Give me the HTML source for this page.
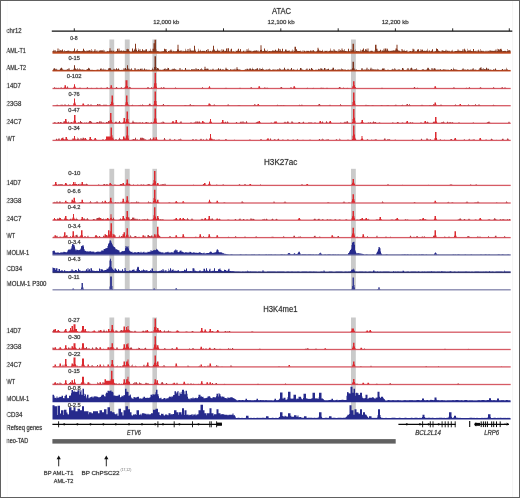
<!DOCTYPE html>
<html><head><meta charset="utf-8"><title>Genome tracks</title>
<style>
html,body{margin:0;padding:0;background:#fff;width:520px;height:498px;overflow:hidden}
svg{display:block;will-change:transform}
text{font-family:"Liberation Sans",sans-serif;fill:#2a2a2a;stroke:rgba(42,42,42,0.35);stroke-width:0.55px;paint-order:stroke}
</style></head><body>
<svg width="520" height="498" viewBox="0 0 520 498" shape-rendering="geometricPrecision">
<rect x="0" y="0" width="520" height="498" fill="#fff"/>
<rect x="109.4" y="39.5" width="4.8" height="100.9" fill="#cacaca"/>
<rect x="124.8" y="39.5" width="4.9" height="100.9" fill="#cacaca"/>
<rect x="152.4" y="39.5" width="4.6" height="100.9" fill="#cacaca"/>
<rect x="351" y="39.5" width="4.8" height="100.9" fill="#cacaca"/>
<rect x="109.4" y="168.8" width="4.8" height="120.8" fill="#cacaca"/>
<rect x="124.8" y="168.8" width="4.9" height="120.8" fill="#cacaca"/>
<rect x="152.4" y="168.8" width="4.6" height="120.8" fill="#cacaca"/>
<rect x="351" y="168.8" width="4.8" height="120.8" fill="#cacaca"/>
<rect x="109.4" y="317.5" width="4.8" height="101.3" fill="#cacaca"/>
<rect x="124.8" y="317.5" width="4.9" height="101.3" fill="#cacaca"/>
<rect x="152.4" y="317.5" width="4.6" height="101.3" fill="#cacaca"/>
<rect x="351" y="317.5" width="4.8" height="101.3" fill="#cacaca"/>
<text x="281.5" y="13.5" font-size="8.2" textLength="19.2" lengthAdjust="spacingAndGlyphs" text-anchor="middle">ATAC</text>
<text x="280.7" y="164.5" font-size="8.2" textLength="33.4" lengthAdjust="spacingAndGlyphs" text-anchor="middle">H3K27ac</text>
<text x="280.4" y="312.1" font-size="8.2" textLength="34.2" lengthAdjust="spacingAndGlyphs" text-anchor="middle">H3K4me1</text>
<line x1="51.8" y1="31.15" x2="513" y2="31.15" stroke="#111" stroke-width="1.3"/>
<line x1="74.3" y1="28.3" x2="74.3" y2="31.1" stroke="#111" stroke-width="0.9"/>
<line x1="166.2" y1="28.3" x2="166.2" y2="31.1" stroke="#111" stroke-width="0.9"/>
<line x1="223.5" y1="28.3" x2="223.5" y2="31.1" stroke="#111" stroke-width="0.9"/>
<line x1="280.8" y1="28.3" x2="280.8" y2="31.1" stroke="#111" stroke-width="0.9"/>
<line x1="338.2" y1="28.3" x2="338.2" y2="31.1" stroke="#111" stroke-width="0.9"/>
<line x1="395.4" y1="28.3" x2="395.4" y2="31.1" stroke="#111" stroke-width="0.9"/>
<line x1="452.7" y1="28.3" x2="452.7" y2="31.1" stroke="#111" stroke-width="0.9"/>
<line x1="509.3" y1="28.3" x2="509.3" y2="31.1" stroke="#111" stroke-width="0.9"/>
<text x="166.3" y="23.6" font-size="5.7" textLength="26" lengthAdjust="spacingAndGlyphs" text-anchor="middle">12,000 kb</text>
<text x="281.1" y="23.6" font-size="5.7" textLength="27" lengthAdjust="spacingAndGlyphs" text-anchor="middle">12,100 kb</text>
<text x="395.2" y="23.6" font-size="5.7" textLength="27" lengthAdjust="spacingAndGlyphs" text-anchor="middle">12,200 kb</text>
<text x="6.6" y="32.8" font-size="6.35" textLength="15" lengthAdjust="spacingAndGlyphs">chr12</text>
<text x="6.6" y="52.9" font-size="6.35" textLength="19.2" lengthAdjust="spacingAndGlyphs">AML-T1</text>
<text x="6.6" y="69.7" font-size="6.35" textLength="19.4" lengthAdjust="spacingAndGlyphs">AML-T2</text>
<text x="6.6" y="88" font-size="6.35" textLength="14.2" lengthAdjust="spacingAndGlyphs">14D7</text>
<text x="6.6" y="105.6" font-size="6.35" textLength="14.8" lengthAdjust="spacingAndGlyphs">23G8</text>
<text x="6.6" y="123.8" font-size="6.35" textLength="14.8" lengthAdjust="spacingAndGlyphs">24C7</text>
<text x="6.6" y="140.7" font-size="6.35" textLength="8.6" lengthAdjust="spacingAndGlyphs">WT</text>
<text x="6.6" y="185" font-size="6.35" textLength="14.2" lengthAdjust="spacingAndGlyphs">14D7</text>
<text x="6.6" y="203.2" font-size="6.35" textLength="14.8" lengthAdjust="spacingAndGlyphs">23G8</text>
<text x="6.6" y="220.6" font-size="6.35" textLength="14.8" lengthAdjust="spacingAndGlyphs">24C7</text>
<text x="6.6" y="237.9" font-size="6.35" textLength="8.6" lengthAdjust="spacingAndGlyphs">WT</text>
<text x="6.6" y="254.8" font-size="6.35" textLength="22.5" lengthAdjust="spacingAndGlyphs">MOLM-1</text>
<text x="6.6" y="270.9" font-size="6.35" textLength="15.5" lengthAdjust="spacingAndGlyphs">CD34</text>
<text x="6.6" y="285.7" font-size="6.35" textLength="39.9" lengthAdjust="spacingAndGlyphs">MOLM-1 P300</text>
<text x="6.6" y="332.9" font-size="6.35" textLength="14.2" lengthAdjust="spacingAndGlyphs">14D7</text>
<text x="6.6" y="349.2" font-size="6.35" textLength="14.8" lengthAdjust="spacingAndGlyphs">23G8</text>
<text x="6.6" y="367" font-size="6.35" textLength="14.8" lengthAdjust="spacingAndGlyphs">24C7</text>
<text x="6.6" y="383.9" font-size="6.35" textLength="8.6" lengthAdjust="spacingAndGlyphs">WT</text>
<text x="6.6" y="401.4" font-size="6.35" textLength="22.5" lengthAdjust="spacingAndGlyphs">MOLM-1</text>
<text x="6.6" y="417.1" font-size="6.35" textLength="15.8" lengthAdjust="spacingAndGlyphs">CD34</text>
<text x="6.6" y="430.1" font-size="6.35" textLength="35.6" lengthAdjust="spacingAndGlyphs">Refseq genes</text>
<text x="6.6" y="443" font-size="6.35" textLength="21.7" lengthAdjust="spacingAndGlyphs">neo-TAD</text>
<rect x="52.5" y="51.9" width="458.2" height="1.8" fill="#c44b1e"/>
<path d="M52.5 52.2 L52.5 50.97 L53.5 50.97 L53.5 49.78 L54 49.78 L54 51.13 L54.5 51.13 L54.5 49.91 L55.5 49.91 L55.5 51.26 L56.5 51.26 L56.5 51.54 L57 51.54 L57 50.94 L57.5 50.94 L57.5 48.46 L58.5 48.46 L58.5 50.96 L59.5 50.97 L59.5 49.62 L60 49.62 L60 50.59 L60.5 50.59 L60.5 50.1 L61.5 50.1 L61.5 50.96 L62 50.96 L62 49.54 L63 49.54 L63 51.3 L63.5 51.3 L63.5 51.37 L64 51.37 L64 50.06 L64.5 50.06 L64.5 51.34 L65.5 51.34 L65.5 50.88 L66.5 50.88 L66.5 50.98 L67.5 50.98 L67.5 50.48 L68.5 50.48 L68.5 50.8 L69.5 50.8 L69.5 51.31 L70.5 51.31 L70.5 50.98 L71.5 50.98 L71.5 51.43 L72.5 51.43 L72.5 51.08 L73.5 51.08 L73.5 50.65 L74 50.65 L74 48.41 L75 48.41 L75 51.33 L75.5 51.33 L75.5 51.27 L76 51.27 L76 50.42 L76.5 50.42 L76.5 50.63 L77.5 50.63 L77.5 48.91 L78 48.91 L78 50.91 L78.5 50.91 L79 50.96 L79.5 50.96 L80 50.99 L80.5 50.99 L80.5 51.37 L81.5 51.37 L81.5 51.03 L82.5 51.03 L82.5 50.8 L83 50.8 L83 48.7 L84 48.7 L84 50.12 L84.5 50.12 L84.5 51.03 L85.5 51.03 L85.5 51.13 L86.5 51.13 L86.5 50.54 L87.5 50.54 L87.5 51.02 L88.5 51.02 L88.5 50.31 L89.5 50.31 L89.5 50.22 L90.5 50.22 L90.5 51.33 L91 51.33 L91 50.94 L91.5 50.94 L91.5 49.12 L92 49.12 L92 50.38 L92.5 50.38 L92.5 51.56 L93.5 51.56 L93.5 51.05 L94 51.05 L94 50.84 L94.5 50.84 L94.5 49.27 L95.5 49.27 L95.5 51.25 L96.5 51.25 L96.5 50.53 L97.5 50.53 L97.5 51.53 L98 51.53 L98 51.68 L98.5 51.68 L98.5 50.72 L99.5 50.72 L99.5 50.45 L100 50.45 L100 50.22 L100.5 50.22 L100.5 50.59 L101.5 50.59 L101.5 50.18 L102.5 50.18 L102.5 50.55 L103 50.55 L103 49.71 L103.5 49.71 L103.5 51.36 L104 51.36 L104 51.43 L104.5 51.43 L104.5 50.28 L105 50.28 L105 51.48 L105.5 51.48 L105.5 51.64 L106.5 51.64 L106.5 51.28 L107.5 51.28 L107.5 50.9 L108.5 50.9 L108.5 51.42 L109 51.42 L109 50.76 L109.5 50.76 L109.5 48.2 L110.5 48.2 L110.5 50.72 L111.5 50.72 L111.5 50.54 L112.5 50.54 L112.5 51.57 L113 51.57 L113 50.71 L114.5 50.71 L114.5 52.07 L115.5 52.07 L115.5 50.96 L116.5 50.96 L116.5 51.23 L117 51.23 L117 49 L117.5 49 L117.5 48.57 L118.5 48.57 L118.5 50.85 L119 50.85 L119 50.8 L119.5 50.8 L119.5 48.53 L120 48.53 L120 50.93 L120.5 50.93 L120.5 50.48 L121.5 50.48 L121.5 50.56 L122 50.56 L122 51.36 L122.5 51.36 L122.5 50.77 L123 50.77 L123 50.47 L123.5 50.47 L123.5 50.69 L124.5 50.69 L124.5 51.12 L125 51.12 L125 50.92 L125.5 50.92 L125.5 50.98 L126 50.98 L126 50.85 L126.5 50.85 L126.5 48.89 L127 48.89 L127 48.68 L127.5 48.68 L127.5 49.2 L129 49.2 L129 50.99 L129.5 50.99 L129.5 51.21 L130.5 51.21 L130.5 51.8 L131.5 51.8 L131.5 51.14 L132 51.14 L132 48.47 L133 48.47 L133 51.03 L133.5 51.03 L133.5 50.62 L134 50.62 L134 49.71 L134.5 49.71 L134.5 48.76 L135 48.76 L135 43.7 L136 43.7 L136 49.91 L136.5 49.91 L136.5 48.53 L137 48.53 L137 51.26 L137.5 51.26 L137.5 50.97 L138 50.97 L138 49.99 L138.5 49.99 L138.5 48.4 L139 48.4 L139 50.65 L139.5 50.65 L139.5 49.25 L140.5 49.25 L140.5 50.88 L142 50.89 L142 49.35 L143 49.35 L143 50.4 L143.5 50.4 L143.5 50.46 L144.5 50.46 L144.5 50.59 L145.5 50.59 L145.5 49.2 L147 49.2 L147 51.04 L147.5 51.04 L147.5 51.55 L148.5 51.55 L148.5 50.84 L149.5 50.84 L149.5 51.02 L150 51.02 L150 48.83 L150.5 48.83 L150.5 50.69 L151 50.69 L151.5 50.72 L151.5 51.26 L152 51.26 L152.5 51.23 L152.5 48.85 L153.5 48.85 L153.5 43.2 L154.5 43.2 L154.5 39.7 L156 39.7 L156 49.39 L156.5 49.39 L156.5 51.26 L157.5 51.26 L157.5 50.88 L158.5 50.88 L158.5 51.43 L159.5 51.43 L159.5 51.51 L160.5 51.51 L160.5 51.42 L161.5 51.42 L161.5 51.23 L162.5 51.23 L162.5 51.37 L163.5 51.37 L163.5 50.93 L164 50.93 L164 48.8 L165 48.8 L165 49.26 L166 49.26 L166 48.93 L166.5 48.93 L166.5 50.95 L167 50.95 L167 51.68 L167.5 51.68 L167.5 51.92 L168 51.92 L168 50.97 L169 50.97 L169 51.34 L169.5 51.34 L169.5 50.61 L170.5 50.62 L170.5 49.62 L171.5 49.62 L171.5 50.68 L172.5 50.68 L172.5 51.63 L173 51.63 L173 50.67 L173.5 50.67 L173.5 51.21 L174.5 51.21 L174.5 51.28 L175.5 51.28 L175.5 51.17 L176.5 51.17 L176.5 51.06 L177 51.06 L177 49.49 L177.5 49.49 L177.5 44.7 L178.5 44.7 L178.5 49.5 L179 49.5 L179 50.94 L179.5 50.94 L179.5 50.67 L180.5 50.67 L180.5 50.39 L181 50.39 L181 50.13 L181.5 50.13 L181.5 51.29 L182 51.29 L182 51.39 L182.5 51.39 L182.5 50.8 L183.5 50.8 L183.5 51.31 L184.5 51.31 L184.5 51.09 L185 51.09 L185 48.8 L185.5 48.8 L185.5 50.72 L186 50.72 L186 51.27 L186.5 51.27 L186.5 50.42 L187 50.42 L187 51.08 L187.5 51.08 L187.5 48.94 L188.5 48.94 L188.5 51.19 L189.5 51.19 L189.5 48.57 L190.5 48.57 L190.5 50.17 L191 50.17 L191 50.85 L191.5 50.85 L191.5 50.42 L192.5 50.42 L192.5 50.75 L193.5 50.75 L193.5 50.45 L194 50.45 L194 45.7 L195 45.7 L195 49.57 L195.5 49.57 L195.5 51.03 L196 51.03 L196 51.62 L196.5 51.62 L196.5 51.93 L197.5 51.93 L197.5 51.01 L198 51.01 L198 50.87 L198.5 50.87 L198.5 48.82 L199 48.82 L199 51.21 L199.5 51.21 L199.5 50.84 L200.5 50.84 L200.5 49.75 L201 49.75 L201 51.14 L201.5 51.14 L201.5 50.95 L202.5 50.95 L202.5 50.78 L203.5 50.78 L203.5 51.06 L204 51.06 L204 50.98 L204.5 50.98 L204.5 50.8 L205 50.8 L205 51.28 L205.5 51.28 L206 51.3 L206 50.09 L207 50.09 L207 51.43 L207.5 51.43 L207.5 49.03 L208.5 49.03 L208.5 50.87 L209 50.87 L209 51.1 L209.5 51.1 L209.5 51.4 L210 51.4 L210 50.68 L210.5 50.68 L210.5 50.99 L211 50.99 L211 51.73 L211.5 51.73 L211.5 50.9 L212 50.9 L212 50.72 L212.5 50.72 L212.5 49.86 L213 49.86 L213 45.7 L214 45.7 L214 50.15 L214.5 50.15 L214.5 49.19 L215 49.19 L215 50.65 L215.5 50.65 L215.5 51.06 L216.5 51.06 L216.5 50.8 L217 50.8 L217 48.71 L217.5 48.71 L217.5 50.31 L218.5 50.31 L218.5 51.1 L219.5 51.1 L219.5 50.38 L220.5 50.38 L220.5 51.78 L221 51.78 L221 51.43 L221.5 51.43 L221.5 49.3 L222 49.3 L222 50.93 L222.5 50.93 L222.5 49.59 L223.5 49.59 L223.5 49.75 L224 49.75 L224 51.15 L224.5 51.15 L224.5 50.79 L225.5 50.79 L225.5 51.02 L226 51.02 L226 48.59 L227 48.59 L227 51.3 L227.5 51.3 L227.5 48.2 L229 48.2 L229 50.97 L229.5 50.97 L229.5 51.51 L230 51.51 L230 51.38 L230.5 51.38 L230.5 49.54 L231 49.54 L231 48.73 L232 48.73 L232 51.21 L232.5 51.21 L232.5 51.5 L233.5 51.5 L233.5 50.95 L234.5 50.95 L234.5 51.97 L235.5 51.97 L235.5 50.74 L236.5 50.74 L236.5 50.97 L237.5 50.97 L237.5 49.84 L238 49.84 L238 48.7 L239 48.7 L239 50.9 L239.5 50.9 L240 50.87 L240 49.03 L240.5 49.03 L240.5 49.15 L241 49.15 L241 51.15 L241.5 51.15 L241.5 51.73 L242.5 51.73 L242.5 51.22 L243 51.22 L243 50.73 L243.5 50.73 L244 50.78 L244.5 50.78 L244.5 51.72 L245 51.72 L245.5 51.68 L245.5 50.8 L246 50.8 L246 51.17 L246.5 51.17 L246.5 49.29 L247.5 49.29 L247.5 50.8 L248.5 50.8 L248.5 48.58 L249 48.58 L249 50.59 L249.5 50.59 L249.5 50.78 L250.5 50.78 L250.5 50.64 L251.5 50.64 L251.5 51.42 L252.5 51.42 L252.5 51.11 L253.5 51.11 L253.5 50.68 L254.5 50.68 L254.5 50.48 L255.5 50.48 L255.5 50.82 L256.5 50.82 L256.5 49.88 L257 49.88 L257 51.17 L257.5 51.17 L257.5 50.6 L258 50.6 L258 50.43 L258.5 50.43 L258.5 51.59 L259.5 51.59 L259.5 51.18 L260 51.18 L260 50 L260.5 50 L260.5 45.2 L261.5 45.2 L261.5 49.68 L262 49.68 L262 51.18 L262.5 51.18 L262.5 51.1 L263.5 51.1 L263.5 51.03 L264 51.03 L264 48.51 L265 48.51 L265 50.49 L265.5 50.49 L265.5 50.68 L266 50.68 L266 51.06 L266.5 51.06 L266.5 50.64 L267 50.64 L267 49.65 L267.5 49.65 L267.5 51.47 L268.5 51.47 L268.5 51.07 L269.5 51.07 L269.5 51 L270.5 51 L270.5 51.24 L271.5 51.24 L271.5 51.05 L272.5 51.05 L272.5 49.9 L273 49.9 L273 50.6 L273.5 50.6 L273.5 50.84 L275 50.84 L275 49.77 L276 49.77 L276 50.72 L276.5 50.72 L276.5 50.84 L277.5 50.84 L277.5 50.77 L278 50.77 L278 48.54 L279 48.54 L279 50.91 L279.5 50.91 L279.5 49 L280.5 49 L280.5 50.42 L281 50.42 L281 50.88 L281.5 50.88 L281.5 51.23 L282 51.23 L282 48.65 L283 48.65 L283 51.17 L283.5 51.17 L283.5 51.38 L284.5 51.38 L284.5 50.98 L285 50.98 L285 49.4 L286 49.4 L286 49.6 L286.5 49.6 L286.5 50.84 L287.5 50.84 L287.5 51.02 L288 51.02 L288 50.83 L288.5 50.83 L288.5 50.68 L289 50.68 L289 51.17 L289.5 51.17 L289.5 50.27 L290 50.27 L290 51.38 L290.5 51.38 L290.5 51.15 L291 51.15 L291 50.76 L291.5 50.76 L291.5 51.44 L292 51.44 L292 51.13 L292.5 51.13 L292.5 49.55 L293 49.55 L293 50.6 L293.5 50.6 L293.5 51.76 L294 51.76 L294 50.96 L294.5 50.96 L294.5 46.7 L296 46.7 L296 49.24 L297 49.24 L297 50.69 L297.5 50.69 L297.5 50.93 L298.5 50.93 L298.5 51.11 L299.5 51.11 L299.5 51.02 L300 51.02 L300 50.42 L300.5 50.42 L300.5 51.21 L301.5 51.21 L301.5 51.84 L302.5 51.84 L302.5 50.59 L303.5 50.59 L303.5 51.68 L304 51.68 L304 50.64 L305 50.64 L305 51.53 L305.5 51.53 L305.5 51.32 L306.5 51.32 L306.5 50.71 L307.5 50.71 L307.5 51.12 L308 51.12 L308 50.81 L308.5 50.81 L308.5 51.07 L309.5 51.07 L309.5 51.43 L310 51.43 L310 50.55 L310.5 50.55 L311 50.58 L311.5 50.58 L311.5 51.3 L312.5 51.3 L312.5 50.32 L313 50.32 L313 50.15 L313.5 50.15 L314 50.2 L314 51.11 L314.5 51.11 L314.5 51.45 L315.5 51.45 L316 51.42 L316.5 51.42 L316.5 50.96 L317 50.96 L317 50.38 L317.5 50.38 L317.5 47.7 L318.5 47.7 L318.5 49.19 L319 49.19 L319 50.61 L319.5 50.61 L319.5 50.85 L320.5 50.85 L320.5 50.7 L321 50.7 L321 50.96 L321.5 50.96 L321.5 51.03 L322 51.03 L322 49.75 L322.5 49.75 L322.5 50.67 L323 50.67 L323 51.6 L323.5 51.6 L323.5 51.42 L324.5 51.42 L324.5 50.84 L325.5 50.84 L325.5 50.95 L326.5 50.95 L326.5 50.63 L327.5 50.63 L327.5 51.49 L328.5 51.49 L328.5 51.03 L329.5 51.03 L329.5 50.77 L330 50.77 L330 48.56 L330.5 48.56 L330.5 50.54 L331.5 50.54 L331.5 50.93 L332.5 50.93 L332.5 50.39 L333 50.39 L333 51.15 L333.5 51.15 L333.5 49.36 L334.5 49.36 L334.5 50.58 L335.5 50.58 L335.5 50.9 L336.5 50.9 L337 50.85 L337.5 50.85 L337.5 51.49 L338 51.49 L338 51.26 L338.5 51.26 L338.5 49.35 L339.5 49.35 L339.5 51.12 L340 51.12 L340 50.2 L341 50.2 L341 50.69 L341.5 50.69 L341.5 48.46 L342.5 48.46 L342.5 50.16 L343.5 50.16 L343.5 50.65 L344.5 50.65 L344.5 49.01 L345 49.01 L345 50.89 L346.5 50.9 L346.5 51.33 L347.5 51.33 L347.5 51.23 L348 51.23 L348 48.8 L349 48.8 L349 50.99 L349.5 50.99 L349.5 51.35 L350.5 51.35 L350.5 49.16 L351.5 49.16 L351.5 50.82 L352 50.82 L352 50.29 L352.5 50.29 L352.5 43.7 L354 43.7 L354 50.29 L354.5 50.29 L354.5 51.55 L355 51.55 L355 51.44 L355.5 51.44 L355.5 49.59 L356 49.59 L356 51.07 L356.5 51.07 L356.5 50.91 L357.5 50.91 L357.5 51.15 L358.5 51.15 L358.5 51 L359.5 51 L359.5 51.42 L360 51.42 L360 51.15 L360.5 51.15 L360.5 49.47 L361 49.47 L361 50.32 L361.5 50.32 L361.5 51.53 L362 51.53 L362 49.75 L363 49.75 L363 48.4 L364 48.4 L364 50.66 L364.5 50.66 L364.5 51 L365 51 L365 49.17 L366 49.17 L366 50.27 L366.5 50.27 L366.5 48.71 L367 48.71 L367 50.82 L367.5 50.82 L367.5 48.51 L368.5 48.51 L368.5 51.26 L369 51.26 L369 51.55 L369.5 51.55 L369.5 51.14 L370.5 51.14 L370.5 50.66 L371.5 50.66 L371.5 50.75 L372.5 50.75 L372.5 51.23 L373.5 51.23 L373.5 51.64 L374.5 51.64 L374.5 50.51 L375 50.51 L375 44.7 L376.5 44.7 L376.5 48.63 L377.5 48.63 L377.5 50.74 L378.5 50.74 L378.5 51.24 L379 51.24 L379 50.94 L379.5 50.94 L379.5 50.7 L380 50.7 L380 49.87 L381 49.87 L381 50.49 L381.5 50.49 L381.5 51.45 L382 51.45 L382 50.49 L383 50.49 L383 50.77 L383.5 50.77 L383.5 48.74 L384 48.74 L384 48.44 L384.5 48.44 L384.5 50.54 L385 50.54 L385 48.49 L386 48.49 L386 50.58 L386.5 50.58 L386.5 48.61 L387 48.61 L387 49.2 L387.5 49.2 L387.5 48.47 L388 48.47 L388 50.61 L388.5 50.61 L388.5 50.96 L389 50.96 L389 50.84 L389.5 50.84 L389.5 51.31 L390 51.31 L390 50.67 L390.5 50.67 L390.5 51.12 L391 51.12 L391 50.83 L391.5 50.83 L391.5 50.76 L392.5 50.76 L392.5 50.6 L393 50.6 L393 50.06 L393.5 50.06 L393.5 50.71 L394.5 50.71 L394.5 50.16 L395.5 50.16 L395.5 48.41 L396.5 48.41 L396.5 44.7 L397.5 44.7 L397.5 49.5 L398 49.5 L398 50.6 L398.5 50.6 L399 50.62 L399.5 50.62 L399.5 51 L400.5 51 L400.5 51.38 L401 51.38 L401.5 51.33 L401.5 49.1 L402.5 49.1 L402.5 50.52 L403 50.52 L403 51.07 L403.5 51.07 L403.5 50.33 L404 50.33 L404 49.69 L404.5 49.69 L404.5 51.03 L405.5 51.03 L406 51.06 L406 50.7 L406.5 50.7 L406.5 50.51 L407.5 50.51 L407.5 51.68 L408.5 51.68 L408.5 51.43 L409.5 51.43 L409.5 50.88 L410.5 50.88 L411 50.9 L411.5 50.9 L411.5 51.62 L412 51.62 L412 51.04 L412.5 51.04 L412.5 48.68 L413.5 48.68 L413.5 49.59 L414.5 49.59 L414.5 51.42 L415 51.42 L415 50.91 L415.5 50.91 L415.5 51.4 L416.5 51.4 L416.5 51.12 L417 51.12 L417 49.8 L417.5 49.8 L417.5 49.51 L418 49.51 L418 49.23 L419 49.23 L419 51.06 L419.5 51.06 L419.5 51.19 L420 51.19 L420 49.15 L420.5 49.15 L420.5 50.9 L421 50.9 L421 50.55 L421.5 50.55 L421.5 49.5 L422.5 49.5 L422.5 49.81 L423 49.81 L423 51.04 L423.5 51.04 L423.5 50.65 L424.5 50.65 L425 50.69 L425.5 50.69 L425.5 51.01 L426.5 51.01 L426.5 50.14 L427 50.14 L427 48.81 L427.5 48.81 L427.5 50.77 L428.5 50.77 L428.5 51.43 L429 51.43 L429 50.45 L430 50.45 L430 51.49 L430.5 51.49 L430.5 50.97 L431 50.97 L431 50.5 L431.5 50.5 L431.5 50.92 L432 50.92 L432 49.29 L432.5 49.29 L432.5 49.34 L433 49.34 L433 51.5 L433.5 51.5 L433.5 51.4 L434.5 51.4 L434.5 51.15 L435.5 51.15 L435.5 50.97 L436 50.97 L436 48.6 L437 48.6 L437 49.05 L438 49.05 L438 50.21 L438.5 50.21 L438.5 51.09 L439.5 51.09 L439.5 51.29 L440.5 51.29 L440.5 51.43 L441.5 51.43 L441.5 50.57 L442.5 50.57 L442.5 50.3 L443 50.3 L443 50.69 L444 50.69 L444 50.92 L444.5 50.92 L444.5 51.09 L445.5 51.09 L445.5 49.83 L446.5 49.83 L446.5 51.2 L447 51.2 L447 50.73 L448 50.73 L448 51.14 L448.5 51.14 L448.5 50.87 L449.5 50.87 L449.5 51.35 L450.5 51.35 L450.5 51.5 L451 51.5 L451 50.5 L451.5 50.5 L451.5 51.3 L452 51.3 L452 49.82 L452.5 49.82 L452.5 51.19 L453 51.19 L453 51.62 L453.5 51.62 L453.5 51.42 L454.5 51.42 L454.5 51 L455.5 51 L456 50.98 L456.5 50.98 L456.5 51.12 L457.5 51.12 L457.5 49.51 L458.5 49.51 L458.5 50.75 L460.5 50.75 L460.5 51.08 L461.5 51.08 L461.5 50.89 L462 50.89 L462 49.22 L462.5 49.22 L462.5 50.64 L463 50.64 L463 51.13 L463.5 51.13 L463.5 49.17 L464.5 49.17 L464.5 48.51 L465 48.51 L465 50.79 L465.5 50.79 L465.5 49.84 L466 49.84 L466 51.14 L466.5 51.14 L466.5 51.44 L467 51.44 L467 51.03 L467.5 51.03 L467.5 48.68 L468 48.68 L468 50.67 L468.5 50.67 L468.5 50.24 L469.5 50.24 L469.5 50.74 L470.5 50.74 L470.5 49.46 L471 49.46 L471 50.97 L471.5 50.97 L471.5 51.03 L472.5 51.03 L472.5 51.16 L473 51.16 L473 48.95 L474 48.95 L474 51.12 L474.5 51.12 L474.5 51.21 L475.5 51.21 L475.5 50.74 L476.5 50.74 L476.5 51.61 L477.5 51.61 L477.5 50.38 L478.5 50.38 L478.5 49.54 L479 49.54 L479 50.66 L479.5 50.66 L479.5 51.46 L480 51.46 L480 51.13 L480.5 51.13 L480.5 49.05 L481 49.05 L481 50.84 L481.5 50.84 L481.5 50.79 L482 50.79 L482 51.29 L482.5 51.29 L482.5 50.78 L483.5 50.78 L483.5 51.3 L484.5 51.3 L484.5 51.6 L485.5 51.6 L485.5 50.71 L486.5 50.71 L486.5 51.4 L487.5 51.4 L487.5 50.86 L488.5 50.86 L488.5 51.26 L489.5 51.26 L489.5 50.15 L490.5 50.15 L490.5 50.87 L491.5 50.87 L492 50.84 L492.5 50.84 L493 50.89 L493.5 50.89 L493.5 50.68 L495.5 50.69 L495.5 49.52 L496.5 49.52 L496.5 51.22 L497 51.22 L497 51.12 L497.5 51.12 L497.5 48.7 L498 48.7 L498 49.31 L499 49.31 L499 49.19 L499.5 49.19 L499.5 50.37 L500 50.37 L500 49 L500.5 49 L500.5 48.77 L501.5 48.77 L501.5 49.81 L502 49.81 L502 51.16 L502.5 51.16 L502.5 50.63 L503 50.63 L503 51.06 L503.5 51.06 L503.5 50.98 L504.5 50.98 L504.5 50.8 L505.5 50.8 L505.5 50.98 L506.5 50.98 L506.5 51.38 L507 51.38 L507 50.98 L507.5 50.98 L507.5 49.05 L508 49.05 L508 50.78 L508.5 50.78 L508.5 49.9 L509.5 49.9 L509.5 50.4 L510.5 50.4 L510.7 52.2Z" fill="#86391f"/>
<rect x="52.5" y="69.95" width="458.2" height="1.5" fill="#bf461e"/>
<path d="M52.5 70.25 L52.5 69.98 L53 69.98 L53 69.6 L53.5 69.6 L53.5 68.53 L54 68.53 L54 68.15 L55 68.15 L55 69.51 L55.5 69.51 L55.5 68.77 L56.5 68.77 L56.5 69.44 L57.5 69.44 L57.5 70.14 L58.5 70.14 L58.5 69.74 L59.5 69.74 L59.5 69.67 L60 69.67 L60 68.46 L61 68.46 L61 67.69 L62 67.69 L62 68.62 L62.5 68.62 L62.5 69.38 L63.5 69.38 L63.5 69.96 L64 69.96 L64 69.71 L64.5 69.71 L64.5 70.01 L65 70.01 L65 70.12 L65.5 70.12 L65.5 69.79 L67 69.79 L67 69.11 L67.5 69.11 L67.5 69.45 L68.5 69.45 L68.5 68.36 L69.5 68.36 L69.5 69.79 L70 69.79 L70 69.93 L70.5 69.93 L70.5 70.11 L71.5 70.11 L71.5 69.77 L72.5 69.77 L72.5 70.03 L73 70.03 L73 69.8 L73.5 69.8 L73.5 68.67 L74 68.67 L74 65.25 L75 65.25 L75 68.45 L76 68.45 L76 69.43 L76.5 69.43 L76.5 69.36 L77 69.36 L77 68.12 L77.5 68.12 L77.5 69.44 L79 69.45 L79 68.25 L79.5 68.25 L79.5 69.53 L80.5 69.53 L80.5 69.36 L81 69.36 L81.5 69.39 L81.5 70.06 L82 70.06 L82 69.7 L82.5 69.7 L82.5 69.35 L83 69.35 L83 69.64 L83.5 69.64 L83.5 69.76 L84.5 69.76 L84.5 70.03 L85.5 70.03 L85.5 70.14 L86.5 70.14 L86.5 69.29 L87.5 69.29 L87.5 68.94 L88 68.94 L88 67.85 L88.5 67.85 L88.5 68.31 L89 68.31 L89 68.62 L90 68.62 L90 69.71 L90.5 69.71 L90.5 70.03 L91.5 70.03 L91.5 69.87 L92.5 69.87 L92.5 70.01 L93.5 70.01 L93.5 69.9 L94.5 69.9 L94.5 70.22 L95.5 70.22 L96 70.25 L96.5 70.25 L96.5 69.8 L97.5 69.8 L97.5 69.62 L98.5 69.62 L98.5 70.25 L99 70.25 L99 70.13 L99.5 70.13 L99.5 69.83 L100 69.83 L100 68.89 L100.5 68.89 L100.5 68.21 L101.5 68.21 L101.5 69.59 L102.5 69.59 L102.5 69.44 L103 69.44 L103 69.65 L103.5 69.65 L103.5 68.61 L104 68.61 L104 69.65 L104.5 69.65 L104.5 69.4 L105.5 69.4 L105.5 69.64 L106.5 69.64 L106.5 70.13 L107.5 70.13 L107.5 69.83 L108 69.83 L108 69.31 L108.5 69.31 L108.5 67.93 L109 67.93 L109 67.99 L109.5 67.99 L109.5 68.25 L111 68.25 L111 69.8 L112.5 69.81 L112.5 70.03 L113 70.03 L113 69.84 L113.5 69.84 L113.5 68.86 L114.5 68.86 L114.5 69.52 L115.5 69.52 L115.5 69.47 L116 69.47 L116 68.47 L116.5 68.47 L116.5 67.95 L117 67.95 L117 69.04 L117.5 69.04 L117.5 69.72 L118 69.72 L118 68.61 L119 68.61 L119 69.58 L119.5 69.58 L119.5 69.96 L120.5 69.96 L120.5 70.06 L121.5 70.06 L121.5 69.68 L122.5 69.68 L122.5 70.2 L123 70.2 L123 69.75 L123.5 69.75 L123.5 68.28 L124.5 68.28 L124.5 69.54 L125 69.54 L125 67.92 L126 67.92 L126 69.49 L126.5 69.49 L126.5 68.9 L127 68.9 L127 65.25 L128 65.25 L128 68.22 L128.5 68.22 L128.5 69.35 L129 69.35 L129 68.75 L129.5 68.75 L129.5 69.78 L130.5 69.78 L130.5 69.25 L131 69.25 L131 67.91 L131.5 67.91 L131.5 69.24 L132 69.24 L132 69.74 L132.5 69.74 L132.5 70.25 L133.5 70.25 L133.5 70.15 L134 70.15 L134 69.63 L134.5 69.63 L134.5 67.89 L135.5 67.89 L135.5 69.52 L136 69.52 L136 69.59 L136.5 69.59 L136.5 69.92 L137 69.92 L137 69.82 L137.5 69.82 L137.5 69.15 L138 69.15 L138 69.29 L139 69.29 L139 69.57 L139.5 69.57 L139.5 69.7 L140 69.7 L140 68.8 L140.5 68.8 L141 68.82 L141 69.41 L141.5 69.41 L141.5 68.47 L142.5 68.47 L142.5 69.8 L143.5 69.8 L143.5 69.73 L144 69.73 L144 68.53 L145 68.53 L145 69.33 L145.5 69.33 L145.5 69.97 L146 69.97 L146 69.53 L146.5 69.53 L146.5 69.42 L147.5 69.42 L147.5 69.98 L148.5 69.98 L148.5 69.46 L149.5 69.46 L149.5 70.25 L150.5 70.25 L150.5 69.98 L151.5 69.98 L151.5 69.75 L152 69.75 L152 69.31 L152.5 69.31 L152.5 67.87 L153 67.87 L153 69.31 L153.5 69.31 L153.5 69.85 L154 69.85 L154 67.1 L154.5 67.1 L154.5 56.25 L156 56.25 L156 67.1 L156.5 67.1 L156.5 69.37 L157 69.37 L157 68.04 L158 68.04 L158 68.49 L159 68.49 L159 69.65 L159.5 69.65 L159.5 69.7 L160.5 69.7 L160.5 69.85 L161.5 69.85 L161.5 70.17 L162.5 70.17 L162.5 69.46 L163.5 69.46 L164 69.44 L164 68.78 L165 68.78 L165 68.35 L165.5 68.35 L165.5 69.5 L166 69.5 L166 69.19 L167 69.19 L167 69.26 L167.5 69.26 L167.5 67.82 L168 67.82 L168 67.99 L169 67.99 L169 69.45 L169.5 69.45 L169.5 69.96 L170 69.96 L170 70.05 L170.5 70.05 L170.5 69.84 L171.5 69.84 L171.5 69.43 L172 69.43 L172 68.65 L172.5 68.65 L172.5 69.54 L173 69.54 L173 68.63 L173.5 68.63 L173.5 69.15 L174.5 69.15 L174.5 68.16 L175 68.16 L175 69.36 L175.5 69.36 L176 69.4 L176 69.69 L176.5 69.69 L177 69.7 L177 70.07 L177.5 70.07 L177.5 69.65 L178.5 69.65 L178.5 70 L179 70 L179 69.65 L179.5 69.65 L179.5 68.12 L180.5 68.12 L180.5 69.72 L181 69.72 L181.5 69.75 L181.5 69.81 L182 69.81 L182 69.3 L182.5 69.3 L182.5 69.95 L183 69.95 L183 70.16 L183.5 70.16 L183.5 70.07 L184.5 70.07 L184.5 69.73 L185 69.73 L185 68.09 L186 68.09 L186 69.7 L186.5 69.7 L187 69.73 L187.5 69.73 L188 69.68 L188.5 69.68 L188.5 69.73 L189 69.73 L189 69.54 L189.5 69.54 L189.5 70.06 L190 70.06 L190.5 70.09 L190.5 69.88 L191 69.88 L191 69.29 L192 69.29 L192 69.58 L192.5 69.58 L192.5 69.23 L193.5 69.23 L193.5 69.5 L194 69.5 L194 69.01 L194.5 69.01 L194.5 69.7 L195.5 69.7 L195.5 68.18 L196.5 68.18 L196.5 69.58 L197 69.58 L197 69.74 L197.5 69.74 L197.5 68.97 L198 68.97 L198 69.08 L199 69.08 L199 69.87 L199.5 69.87 L199.5 70.03 L200 70.03 L200 69.35 L201 69.35 L201.5 69.4 L201.5 68.04 L202 68.04 L202 69.26 L202.5 69.26 L202.5 69.75 L203.5 69.75 L203.5 69.89 L204 69.89 L204 69.15 L204.5 69.15 L204.5 66.75 L205.5 66.75 L205.5 68.99 L206 68.99 L206 69.3 L206.5 69.3 L206.5 68.47 L207.5 68.47 L207.5 68.65 L208.5 68.65 L208.5 69.82 L209 69.82 L209 70.11 L209.5 70.11 L209.5 69.86 L210.5 69.86 L210.5 69.6 L211 69.6 L211 69.4 L211.5 69.4 L211.5 69.99 L212 69.99 L212 69.77 L212.5 69.77 L212.5 68.63 L213.5 68.63 L213.5 69.65 L214 69.65 L214 69.99 L214.5 69.99 L214.5 69.81 L215.5 69.81 L215.5 69.66 L216.5 69.66 L216.5 69.48 L217.5 69.48 L217.5 69.58 L218 69.58 L218 68.31 L219 68.31 L219 69.48 L220 69.48 L220 68.8 L221 68.8 L221 69.66 L221.5 69.66 L221.5 69.77 L222.5 69.77 L222.5 69.12 L223.5 69.12 L223.5 69.93 L224.5 69.93 L224.5 69.68 L225 69.68 L225 69.52 L225.5 69.52 L225.5 67.69 L226.5 67.69 L226.5 69 L227.5 69 L227.5 69.42 L228.5 69.42 L228.5 69.96 L229.5 69.96 L229.5 70.01 L230 70.01 L230 69.19 L231 69.19 L231 69.37 L231.5 69.37 L231.5 70.18 L232 70.18 L232.5 70.22 L232.5 69.24 L233.5 69.24 L233.5 69.8 L234 69.8 L234 69.67 L234.5 69.67 L234.5 68.67 L235.5 68.67 L235.5 69.88 L236 69.88 L236 69.44 L236.5 69.44 L236.5 67.25 L237.5 67.25 L237.5 69.03 L238 69.03 L238 69.57 L238.5 69.57 L238.5 69.49 L240.5 69.49 L240.5 70.25 L241.5 70.25 L241.5 70.17 L242.5 70.17 L242.5 70.25 L243.5 70.25 L243.5 70.04 L244.5 70.04 L244.5 69.84 L245 69.84 L245 68.93 L245.5 68.93 L245.5 69.71 L246 69.71 L246 69.77 L246.5 69.77 L246.5 68.82 L247 68.82 L247.5 68.81 L248 68.81 L248 69.67 L248.5 69.67 L248.5 69.37 L249.5 69.37 L249.5 68.34 L250.5 68.34 L250.5 68.79 L251 68.79 L251 69.87 L251.5 69.87 L251.5 69.16 L252 69.16 L252 69.1 L252.5 69.1 L252.5 67.66 L253 67.66 L253 69.46 L253.5 69.46 L253.5 68.98 L254 68.98 L254 69.79 L254.5 69.79 L254.5 69.48 L255 69.48 L255 69.21 L256 69.21 L256.5 69.25 L256.5 68.5 L257 68.5 L257 68.15 L258 68.15 L258 69.63 L258.5 69.63 L258.5 69.78 L259 69.78 L259 69.54 L259.5 69.54 L259.5 68.07 L260 68.07 L260 68.58 L260.5 68.58 L260.5 69.61 L261 69.61 L261 68.94 L262 68.94 L262 69.27 L262.5 69.27 L262.5 67.82 L263 67.82 L263 69.38 L263.5 69.38 L263.5 69.19 L264 69.19 L264 69.81 L264.5 69.81 L264.5 70.05 L265 70.05 L265.5 70.04 L265.5 69.42 L266.5 69.42 L266.5 69.6 L267.5 69.6 L267.5 69.68 L268 69.68 L268 68.89 L268.5 68.89 L268.5 69.71 L269 69.71 L269 69.61 L269.5 69.61 L269.5 68.39 L270 68.39 L270 69.49 L270.5 69.49 L270.5 69.73 L271 69.73 L271 70.1 L271.5 70.1 L272 70.06 L272 69.89 L272.5 69.89 L272.5 69.13 L273.5 69.13 L273.5 69.86 L274 69.86 L274 70.01 L274.5 70.01 L274.5 69.37 L275.5 69.37 L275.5 70.16 L276 70.16 L276 70.01 L276.5 70.01 L276.5 69.57 L277.5 69.57 L277.5 69.28 L278 69.28 L278 69.67 L278.5 69.67 L278.5 69.3 L279 69.3 L279 68.1 L279.5 68.1 L279.5 69.54 L280 69.54 L280 68.67 L280.5 68.67 L280.5 69.44 L281 69.44 L281 69.8 L281.5 69.8 L282 69.77 L282.5 69.77 L282.5 69.45 L283.5 69.45 L283.5 69.59 L284 69.59 L284 67.83 L285 67.83 L285 69.51 L286 69.51 L286 70 L286.5 70 L286.5 69.44 L287.5 69.44 L287.5 68.78 L288 68.78 L288 68.63 L288.5 68.63 L288.5 69.56 L289 69.56 L289 69.92 L289.5 69.92 L289.5 69.44 L290.5 69.44 L290.5 69.54 L291 69.54 L291 68.08 L292 68.08 L292 69.67 L292.5 69.67 L292.5 69.74 L293 69.74 L293 69.11 L293.5 69.11 L293.5 69.83 L295.5 69.84 L295.5 70.25 L296 70.25 L296 70.06 L296.5 70.06 L296.5 69.63 L297 69.63 L297 68.85 L297.5 68.85 L297.5 69.63 L298 69.63 L298 69.94 L298.5 69.94 L298.5 70.17 L299 70.17 L299 70.03 L299.5 70.03 L299.5 69.5 L300 69.5 L300 67.93 L301 67.93 L301 69.4 L301.5 69.4 L301.5 68.06 L302 68.06 L302 69.44 L302.5 69.44 L302.5 69.75 L303.5 69.75 L303.5 69.99 L304.5 69.99 L305 70.02 L305 69.73 L306 69.73 L306 69.57 L306.5 69.57 L306.5 68.62 L307.5 68.62 L307.5 69.76 L308 69.76 L308 70.02 L308.5 70.02 L308.5 69.82 L309 69.82 L309 68.84 L310 68.84 L310 69.79 L310.5 69.79 L310.5 69.49 L311 69.49 L311 68 L312 68 L312 69.34 L312.5 69.34 L312.5 68.66 L313 68.66 L313 69.77 L313.5 69.77 L313.5 70.13 L314 70.13 L314 70.25 L314.5 70.25 L314.5 70.08 L315.5 70.08 L315.5 69.41 L316.5 69.41 L316.5 70.02 L317.5 70.02 L317.5 69.76 L318 69.76 L318 68.82 L318.5 68.82 L318.5 69.15 L319.5 69.15 L319.5 69.44 L320.5 69.44 L320.5 68.02 L321.5 68.02 L321.5 69.11 L322 69.11 L322 68.74 L322.5 68.74 L322.5 69.67 L323 69.67 L323 69.77 L323.5 69.77 L323.5 69.59 L324 69.59 L324 68.12 L325 68.12 L325 68.29 L325.5 68.29 L325.5 69.65 L326.5 69.65 L326.5 69.26 L327.5 69.26 L327.5 69.14 L328 69.14 L328 68.83 L329 68.83 L329 69.91 L329.5 69.91 L329.5 69.77 L330.5 69.77 L331 69.78 L331.5 69.78 L331.5 69.31 L332.5 69.31 L332.5 67.82 L333 67.82 L333.5 67.83 L334 67.83 L334 69.55 L334.5 69.55 L334.5 69.93 L335 69.93 L335 69.48 L336 69.48 L336 70.04 L336.5 70.04 L336.5 69.83 L337.5 69.83 L337.5 69.5 L338.5 69.5 L338.5 69.57 L339.5 69.57 L339.5 69.48 L340.5 69.48 L340.5 69.69 L341 69.69 L341 69.43 L341.5 69.43 L341.5 68.13 L342 68.13 L342 69.31 L342.5 69.31 L342.5 69.37 L343.5 69.37 L343.5 70.2 L344.5 70.2 L344.5 69.37 L345.5 69.37 L345.5 70.04 L346.5 70.04 L346.5 69.97 L347.5 69.97 L347.5 69.61 L348.5 69.61 L348.5 69.78 L349.5 69.78 L349.5 70.22 L350.5 70.22 L350.5 69.25 L351.5 69.25 L351.5 69.75 L352 69.75 L352 68.23 L352.5 68.23 L352.5 61.75 L354 61.75 L354 68.34 L354.5 68.34 L354.5 69.44 L355.5 69.44 L355.5 70.07 L356 70.07 L356 69.85 L356.5 69.85 L356.5 69.28 L357 69.28 L357 69.98 L357.5 69.98 L357.5 69.91 L358.5 69.91 L358.5 70.02 L359.5 70.02 L359.5 70.16 L360.5 70.16 L360.5 69.93 L361 69.93 L361 69.51 L361.5 69.51 L361.5 67.97 L362.5 67.97 L362.5 69.38 L363.5 69.38 L363.5 70.04 L364 70.04 L364 70.18 L364.5 70.18 L364.5 69.27 L365.5 69.27 L365.5 70.03 L366 70.03 L366 69.48 L366.5 69.48 L366.5 67.83 L367.5 67.83 L367.5 69.65 L368 69.65 L368 69.73 L368.5 69.73 L368.5 68.97 L369 68.97 L369 69.68 L369.5 69.68 L369.5 69.81 L370 69.81 L370 69.24 L370.5 69.24 L370.5 67.69 L371.5 67.69 L371.5 69.62 L372 69.62 L372.5 69.67 L372.5 68.69 L373 68.69 L373 69.72 L373.5 69.72 L373.5 69.01 L374 69.01 L374 69.09 L374.5 69.09 L374.5 69.88 L375 69.88 L375 69.82 L375.5 69.82 L375.5 69.26 L376.5 69.26 L376.5 70 L377 70 L377 69.69 L377.5 69.69 L377.5 68.86 L378 68.86 L378 69.49 L379 69.49 L379 69.64 L379.5 69.64 L379.5 70.07 L380.5 70.07 L380.5 69.66 L381.5 69.66 L381.5 69.83 L382 69.83 L382 68.55 L383 68.55 L383 68.7 L383.5 68.7 L383.5 68.35 L384.5 68.35 L384.5 69.66 L385.5 69.66 L385.5 69.95 L386.5 69.95 L386.5 70.13 L387 70.13 L387 69.98 L387.5 69.98 L387.5 69.56 L388.5 69.56 L388.5 70.04 L389.5 70.04 L389.5 69.93 L390.5 69.93 L390.5 70.07 L391 70.07 L391 69.98 L391.5 69.98 L391.5 69.62 L392 69.62 L392 68.65 L392.5 68.65 L392.5 69.46 L393.5 69.46 L393.5 69.57 L394 69.57 L394 69.46 L394.5 69.46 L394.5 67.89 L395 67.89 L395 68.79 L395.5 68.79 L395.5 69.67 L396 69.67 L396 69.93 L396.5 69.93 L396.5 69.66 L397.5 69.66 L397.5 69.86 L398.5 69.86 L398.5 69.36 L399.5 69.36 L399.5 69.78 L400.5 69.78 L400.5 70.2 L401 70.2 L401 70.09 L401.5 70.09 L401.5 69.7 L402 69.7 L402 68.1 L403 68.1 L403 68.34 L403.5 68.34 L403.5 69.48 L404 69.48 L404 69.94 L404.5 69.94 L404.5 70.11 L405 70.11 L405.5 70.12 L406 70.13 L406.5 70.13 L406.5 69.43 L407.5 69.43 L407.5 68.08 L408.5 68.08 L408.5 69.6 L409 69.6 L409 69.99 L409.5 69.99 L409.5 69.53 L410 69.53 L410.5 69.51 L410.5 67.88 L411 67.88 L411 67.76 L412 67.76 L412 68.38 L412.5 68.38 L412.5 69.68 L413 69.68 L413 69.85 L413.5 69.85 L413.5 69.54 L414.5 69.54 L414.5 69.16 L415.5 69.16 L415.5 69.31 L416 69.31 L416 67.98 L416.5 67.98 L416.5 69.43 L417 69.43 L417 69.65 L418.5 69.66 L418.5 69.92 L419.5 69.92 L419.5 69.98 L420.5 69.98 L420.5 70.13 L421.5 70.13 L421.5 69.74 L422.5 69.74 L422.5 69.1 L423.5 69.1 L423.5 69.78 L424 69.78 L424 70.04 L424.5 70.04 L424.5 69.75 L425.5 69.75 L425.5 70.04 L426 70.04 L426 69.94 L426.5 69.94 L426.5 69.36 L427 69.36 L427 67.65 L427.5 67.65 L427.5 68.44 L428 68.44 L428 68.26 L428.5 68.26 L428.5 67.83 L429 67.83 L429 69.27 L429.5 69.27 L429.5 69.82 L430 69.82 L430.5 69.85 L430.5 69.93 L431 69.93 L431 69.66 L431.5 69.66 L431.5 67.88 L432.5 67.88 L432.5 69.56 L433 69.56 L433 69.75 L433.5 69.75 L433.5 68.54 L434 68.54 L434 67.95 L434.5 67.95 L434.5 68.46 L435.5 68.46 L435.5 69.56 L436 69.56 L436 69.96 L436.5 69.96 L436.5 69.51 L437.5 69.51 L437.5 69.82 L438 69.82 L438 69.29 L438.5 69.29 L438.5 69.96 L439 69.96 L439 70.14 L439.5 70.14 L439.5 69.28 L440.5 69.28 L440.5 69.13 L441 69.13 L441 69.76 L441.5 69.76 L441.5 69.89 L442.5 69.89 L442.5 69.53 L443.5 69.53 L443.5 69.14 L444.5 69.14 L444.5 69.79 L445.5 69.79 L445.5 69.62 L446.5 69.62 L446.5 70.24 L447.5 70.24 L447.5 69.39 L448.5 69.39 L448.5 69.96 L449.5 69.96 L449.5 70.13 L450 70.13 L450 69.75 L451 69.75 L451 69.06 L452 69.06 L452 69.93 L452.5 69.93 L452.5 69.72 L453 69.72 L453 69.14 L453.5 69.14 L453.5 67.7 L454 67.7 L454 69.17 L454.5 69.17 L454.5 69.53 L455.5 69.53 L455.5 69.44 L456.5 69.44 L456.5 69.74 L457.5 69.74 L457.5 70.02 L458.5 70.02 L458.5 70.16 L459.5 70.16 L459.5 69.92 L460.5 69.92 L461 69.96 L461.5 69.96 L461.5 69.77 L462 69.77 L462 69.61 L462.5 69.61 L462.5 68.47 L463 68.47 L463 68.2 L463.5 68.2 L463.5 69.47 L464 69.47 L464 70 L464.5 70 L464.5 69.22 L465.5 69.22 L465.5 69.93 L466.5 69.93 L466.5 69.83 L467 69.83 L467 69.21 L467.5 69.21 L467.5 69.53 L468 69.53 L468.5 69.51 L468.5 69.78 L469 69.78 L469 69.63 L469.5 69.63 L469.5 69.88 L470 69.88 L470 69.71 L470.5 69.71 L470.5 69.49 L471.5 69.49 L471.5 69.8 L472 69.8 L472 69.55 L472.5 69.55 L472.5 68.42 L473 68.42 L473 68.02 L473.5 68.02 L473.5 69.42 L474 69.42 L474 69.92 L474.5 69.92 L474.5 69.48 L475.5 69.48 L475.5 69.73 L476.5 69.73 L476.5 70.25 L477.5 70.25 L477.5 70.01 L478.5 70.01 L478.5 69.44 L479.5 69.44 L479.5 67.94 L480.5 67.94 L480.5 67.25 L481.5 67.25 L481.5 69.17 L482 69.17 L482 69.6 L482.5 69.6 L482.5 68.72 L483 68.72 L483 69.43 L483.5 69.43 L483.5 68.04 L484 68.04 L484 69.29 L484.5 69.29 L484.5 69.1 L485.5 69.1 L485.5 69.62 L486 69.62 L486 67.81 L487 67.81 L487 68.38 L487.5 68.38 L487.5 69.54 L488 69.54 L488 68.84 L489 68.84 L489 69.89 L489.5 69.89 L489.5 69.48 L490.5 69.48 L490.5 69.77 L491.5 69.77 L491.5 70.25 L492.5 70.25 L492.5 69.98 L493 69.98 L493 69.78 L493.5 69.78 L493.5 69.05 L494 69.05 L494 69.55 L494.5 69.55 L494.5 69.77 L495 69.77 L495 68.47 L496 68.47 L496 69.77 L496.5 69.77 L496.5 69.98 L497.5 69.98 L497.5 70.04 L499.5 70.04 L499.5 70.21 L500.5 70.21 L500.5 70.01 L501.5 70.01 L501.5 69.63 L502 69.63 L502 68.9 L503 68.9 L503 69.76 L503.5 69.76 L503.5 70.13 L504 70.13 L504 70.2 L504.5 70.2 L504.5 69.35 L505.5 69.35 L505.5 70.06 L506 70.06 L506 69.48 L506.5 69.48 L506.5 67.69 L507 67.69 L507 69.28 L507.5 69.28 L507.5 69.86 L508 69.86 L508 70.22 L508.5 70.22 L508.5 70.09 L509.5 70.09 L509.5 70.14 L510.5 70.14 L510.7 70.25Z" fill="#7a3420"/>
<rect x="52.5" y="87.85" width="458.2" height="1.3" fill="#d65a64"/>
<path d="M52.5 88.2 L53 88.2 L53 88.15 L53.5 88.15 L53.5 87.91 L54 87.91 L54 87.15 L55 87.15 L55 87.73 L55.5 87.73 L55.5 87.97 L56 87.97 L56 88.03 L56.5 88.03 L56.5 87.73 L57 87.73 L57 88.02 L58 88.02 L58 87.79 L58.5 87.79 L58.5 88.06 L59 88.06 L59 88.16 L60 88.17 L60 87.99 L60.5 87.99 L60.5 87.42 L62 87.42 L62 87.99 L62.5 87.99 L62.5 88.12 L63 88.12 L63 88.01 L63.5 88.01 L63.5 87.75 L64.5 87.75 L64.5 88.05 L65 88.05 L65 88.15 L65.5 88.15 L66 88.2 L66 88.02 L66.5 88.02 L66.5 87.66 L67 87.66 L67 86.6 L68 86.6 L68 87.8 L68.5 87.8 L68.5 88.16 L69 88.16 L69.5 88.2 L78.5 88.2 L78.5 88.08 L79 88.08 L79 87.95 L79.5 87.95 L79.5 87.6 L80.5 87.6 L80.5 88.01 L81 88.01 L81 88.14 L81.5 88.14 L81.5 88.2 L86 88.2 L86 88 L86.5 88 L86.5 87.78 L87 87.78 L87 87.2 L88 87.2 L88 87.97 L88.5 87.97 L88.5 88.2 L90 88.2 L90.5 88.17 L90.5 88.08 L91 88.08 L91 87.8 L91.5 87.8 L91.5 88.03 L92 88.03 L92 88.12 L92.5 88.12 L92.5 88.2 L95 88.2 L95.5 88.16 L95.5 88.04 L96 88.04 L96 87.64 L97.5 87.64 L97.5 88.04 L98 88.04 L98 88.16 L98.5 88.16 L99 88.2 L99.5 88.2 L100 88.18 L100 88.07 L100.5 88.07 L100.5 87.73 L102 87.73 L102 88.08 L102.5 88.08 L102.5 88.19 L103 88.19 L103.5 88.2 L105.5 88.2 L105.5 88.13 L106 88.13 L106 87.94 L106.5 87.94 L106.5 87.35 L108 87.35 L108 87.97 L108.5 87.97 L108.5 88.16 L109 88.16 L109.5 88.2 L115 88.2 L115 88.01 L115.5 88.01 L115.5 87.73 L116 87.73 L116 86.99 L117 86.99 L117 87.75 L117.5 87.75 L117.5 88.02 L118 88.02 L118 88.2 L120 88.2 L120 88.07 L120.5 88.07 L120.5 87.87 L121 87.87 L121 87.34 L122 87.34 L122 88 L122.5 88 L122.5 88.2 L123 88.2 L123 88.1 L123.5 88.1 L123.5 87.95 L124 87.95 L124 87.53 L125 87.53 L125 88.05 L125.5 88.05 L125.5 88.2 L128 88.2 L128 88 L128.5 88 L128.5 87.71 L129 87.71 L129 86.9 L129.5 86.9 L129.5 87.27 L130 87.27 L130 86.96 L130.5 86.96 L130.5 87.77 L131 87.77 L131 88.05 L131.5 88.05 L131.5 88.2 L146.5 88.2 L146.5 87.95 L147 87.95 L147 87.71 L147.5 87.71 L147.5 87.1 L148.5 87.1 L148.5 87.8 L149 87.8 L149 88.05 L149.5 88.05 L149.5 88.2 L150 88.2 L150.5 88.16 L150.5 87.94 L151 87.94 L151 87.24 L152 87.24 L152 87.83 L152.5 87.83 L152.5 88.05 L153 88.05 L153 88.2 L160 88.2 L160 88.12 L160.5 88.12 L160.5 87.85 L161 87.85 L161 87 L161.5 87 L161.5 87.68 L162 87.68 L162 87.95 L162.5 87.95 L162.5 87.9 L163 87.9 L163 87.21 L164.5 87.21 L164.5 87.97 L165 87.97 L165 88.19 L165.5 88.19 L166 88.2 L174.5 88.2 L174.5 88.03 L175 88.03 L175 87.81 L175.5 87.81 L175.5 87.24 L176 87.24 L176 87.89 L176.5 87.89 L176.5 88.11 L177 88.11 L177 88.2 L201 88.2 L201 88.09 L201.5 88.09 L201.5 87.91 L202 87.91 L202 87.37 L203 87.37 L203 87.91 L203.5 87.91 L203.5 88.1 L204 88.1 L204 88.2 L224.5 88.2 L224.5 88.07 L225 88.07 L225 87.95 L225.5 87.95 L225.5 87.64 L226.5 87.64 L226.5 88.03 L227 88.03 L227 88.16 L227.5 88.16 L228 88.2 L238.5 88.2 L238.5 88.14 L239 88.14 L239 88.04 L239.5 88.04 L239.5 87.76 L240.5 87.76 L240.5 88.05 L241 88.05 L241 88.15 L241.5 88.15 L241.5 88.2 L249.5 88.2 L250 88.19 L250 87.95 L250.5 87.95 L250.5 87.15 L252 87.15 L252 87.89 L252.5 87.89 L252.5 88.13 L253 88.13 L253 88.2 L263 88.2 L263.5 88.18 L263.5 88 L264 88 L264 87.39 L265.5 87.39 L265.5 87.95 L266 87.95 L266 88.1 L266.5 88.1 L266.5 87.75 L268 87.75 L268 88.09 L268.5 88.09 L268.5 88.19 L269 88.19 L269.5 88.2 L280 88.2 L280 87.92 L280.5 87.92 L280.5 86.95 L282 86.95 L282 87.87 L282.5 87.87 L282.5 88.15 L283 88.15 L283 88.2 L289.5 88.2 L289.5 88.14 L290 88.14 L290 87.88 L290.5 87.88 L290.5 87.04 L291.5 87.04 L291.5 87.89 L292 87.89 L292 88.16 L292.5 88.16 L293 88.2 L293 88 L293.5 88 L293.5 87.72 L294 87.72 L294 86.93 L295 86.93 L295 87.77 L295.5 87.77 L295.5 88.06 L296 88.06 L296 88.2 L306 88.2 L306 88.05 L306.5 88.05 L306.5 87.89 L307 87.89 L307 87.48 L307.5 87.48 L307.5 87.98 L308 87.98 L308 88.14 L308.5 88.14 L308.5 88.2 L312 88.2 L312 88.1 L312.5 88.1 L312.5 87.99 L313 87.99 L313 87.72 L313.5 87.72 L313.5 88.03 L314 88.03 L314 88.14 L314.5 88.14 L314.5 88.2 L319.5 88.2 L320 88.17 L320 88.07 L320.5 88.07 L320.5 87.78 L322 87.78 L322 88.08 L322.5 88.08 L322.5 87.8 L323.5 87.8 L323.5 88.05 L324 88.05 L324 88.14 L324.5 88.14 L324.5 88.2 L325.5 88.2 L325.5 88.13 L326 88.13 L326 88.02 L326.5 88.02 L326.5 87.72 L327.5 87.72 L327.5 88.03 L328 88.03 L328 88.14 L328.5 88.14 L328.5 88.2 L338 88.2 L338 88.09 L338.5 88.09 L338.5 87.84 L339 87.84 L339 87.11 L340.5 87.11 L340.5 87.93 L341 87.93 L341 88.17 L341.5 88.17 L342 88.2 L342.5 88.2 L342.5 88.04 L343 88.04 L343 87.87 L343.5 87.87 L343.5 87.47 L344 87.47 L344 87.92 L344.5 87.92 L344.5 88.09 L345 88.09 L345 88.2 L346 88.2 L346 88.1 L346.5 88.1 L346.5 87.98 L347 87.98 L347 87.69 L347.5 87.69 L347.5 87.99 L348 87.99 L348 88.11 L348.5 88.11 L348.5 88.2 L353.5 88.2 L353.5 88.14 L354 88.14 L354 87.94 L354.5 87.94 L354.5 87.31 L356 87.31 L356 87.94 L356.5 87.94 L356.5 88.14 L357 88.14 L357 88.2 L381 88.2 L381 88.1 L381.5 88.1 L381.5 87.79 L382.5 87.79 L382.5 88.06 L383 88.06 L383 88.15 L383.5 88.15 L384 88.2 L413 88.2 L413 88.01 L413.5 88.01 L413.5 87.74 L414 87.74 L414 87 L415 87 L415 87.87 L415.5 87.87 L415.5 88.14 L416 88.14 L416 88.2 L416.5 88.2 L416.5 88.1 L417 88.1 L417 87.79 L418 87.79 L418 88.09 L418.5 88.09 L418.5 88.18 L419 88.18 L419.5 88.2 L452.5 88.2 L452.5 88.01 L453 88.01 L453 87.79 L453.5 87.79 L453.5 87.2 L454.5 87.2 L454.5 87.94 L455 87.94 L455 88.16 L455.5 88.16 L456 88.2 L465 88.2 L465 88.09 L465.5 88.09 L465.5 87.96 L466 87.96 L466 87.63 L467 87.63 L467 88.06 L467.5 88.06 L467.5 88.19 L468 88.19 L468 88.02 L468.5 88.02 L468.5 87.81 L469 87.81 L469 87.27 L470 87.27 L470 87.95 L470.5 87.95 L470.5 88.16 L471 88.16 L471.5 88.2 L479 88.2 L479 88.05 L479.5 88.05 L479.5 87.83 L480 87.83 L480 87.21 L481 87.21 L481 87.79 L481.5 87.79 L481.5 88.02 L482 88.02 L482 88.2 L492 88.2 L492.5 88.19 L492.5 87.97 L493 87.97 L493 87.25 L494 87.25 L494 87.84 L494.5 87.84 L494.5 88.05 L495 88.05 L495 88.2 L500.5 88.2 L500.5 88.09 L501 88.09 L501 87.9 L501.5 87.9 L501.5 87.18 L503 87.18 L503 87.94 L503.5 87.94 L503.5 88.14 L504 88.14 L504 87.95 L504.5 87.95 L504.5 87.37 L505.5 87.37 L505.5 87.92 L506 87.92 L506 88.11 L506.5 88.11 L506.5 88.2 L510.7 88.2Z" fill="#b83c42"/>
<path d="M52.5 88.2 L63.5 88.2 L63.5 88.06 L64 88.06 L64 87.39 L64.5 87.39 L64.5 85.2 L66 85.2 L66 87.39 L66.5 87.39 L66.5 88.06 L67 88.06 L67 88.2 L73 88.2 L73 87.66 L73.5 87.66 L73.5 86.76 L74 86.76 L74 84.2 L75 84.2 L75 86.58 L75.5 86.58 L75.5 87.48 L76 87.48 L76 88.2 L109.5 88.2 L109.5 88.06 L110 88.06 L110 87.39 L110.5 87.39 L110.5 85.2 L112 85.2 L112 87.39 L112.5 87.39 L112.5 88.06 L113 88.06 L113 88.2 L125 88.2 L125 86.4 L125.5 86.4 L125.5 80.2 L127.5 80.2 L127.5 86.04 L128 86.04 L128 87.84 L128.5 87.84 L128.5 88.2 L153.5 88.2 L153.5 86.81 L154 86.81 L154 83.32 L154.5 83.32 L154.5 72.7 L156 72.7 L156 83.32 L156.5 83.32 L156.5 86.81 L157 86.81 L157 88.2 L208 88.2 L208 87.84 L208.5 87.84 L208.5 87.39 L209 87.39 L209 86.2 L210 86.2 L210 87.48 L210.5 87.48 L210.5 87.93 L211 87.93 L211 88.2 L257.5 88.2 L257.5 88.11 L258 88.11 L258 87.66 L258.5 87.66 L258.5 86.2 L260 86.2 L260 87.66 L260.5 87.66 L260.5 88.11 L261 88.11 L261 88.2 L292.5 88.2 L292.5 88.11 L293 88.11 L293 87.66 L293.5 87.66 L293.5 86.2 L295 86.2 L295 87.66 L295.5 87.66 L295.5 88.11 L296 88.11 L296 88.2 L352 88.2 L352 87.57 L352.5 87.57 L352.5 86 L353 86 L353 81.2 L354.5 81.2 L354.5 85.36 L355 85.36 L355 86.94 L355.5 86.94 L355.5 88.2 L433.5 88.2 L433.5 88.11 L434 88.11 L434 87.66 L434.5 87.66 L434.5 86.2 L436 86.2 L436 87.66 L436.5 87.66 L436.5 88.11 L437 88.11 L437 88.2 L510.7 88.2Z" fill="#dc2a30"/>
<rect x="52.5" y="105.05" width="458.2" height="1.3" fill="#d65a64"/>
<path d="M52.5 105.4 L55.5 105.4 L55.5 105.29 L56 105.29 L56 105.17 L56.5 105.17 L56.5 104.86 L57 104.86 L57 104.67 L58 104.67 L58 105.13 L58.5 105.13 L58.5 105.29 L59 105.29 L59 105.4 L59.5 105.4 L59.5 105.35 L60 105.35 L60 105.23 L60.5 105.23 L60.5 104.86 L62 104.86 L62 104.7 L63 104.7 L63 105.18 L63.5 105.18 L63.5 105.34 L64 105.34 L64 105.13 L64.5 105.13 L64.5 104.27 L65.5 104.27 L65.5 105.04 L66 105.04 L66 105.3 L66.5 105.3 L66.5 105.4 L67 105.4 L67.5 105.36 L67.5 105.16 L68 105.16 L68 104.5 L69 104.5 L69 104.97 L70 104.97 L70 105.21 L70.5 105.21 L70.5 105.31 L71 105.31 L71 105.4 L86 105.4 L86 105.18 L86.5 105.18 L86.5 104.91 L87 104.91 L87 104.18 L87.5 104.18 L87.5 104.93 L88 104.93 L88 104.12 L88.5 104.12 L88.5 104.87 L89 104.87 L89 105.15 L89.5 105.15 L89.5 105.21 L90 105.21 L90 104.96 L90.5 104.96 L90.5 104.29 L91.5 104.29 L91.5 105.11 L92 105.11 L92 105.31 L92.5 105.31 L92.5 105.4 L96.5 105.39 L96.5 105.07 L97 105.07 L97 103.98 L98 103.98 L98 104.85 L98.5 104.85 L98.5 104.36 L99.5 104.36 L100 104.32 L100.5 104.32 L100.5 105.1 L101 105.1 L101 105.34 L101.5 105.34 L101.5 105.4 L102.5 105.4 L102.5 105.33 L103 105.33 L103 105.11 L103.5 105.11 L103.5 104.39 L104.5 104.39 L104.5 105.11 L105.5 105.11 L105.5 104.4 L106.5 104.4 L106.5 105.04 L107 105.04 L107 105.26 L107.5 105.26 L107.5 105.4 L109 105.4 L109 105.28 L109.5 105.28 L109.5 105.04 L110 105.04 L110 104.32 L111 104.32 L111 105.09 L111.5 105.09 L111.5 105.34 L112 105.34 L112 105.4 L116.5 105.4 L117 105.39 L117 105.3 L117.5 105.3 L117.5 104.98 L118.5 104.98 L118.5 105.24 L119 105.24 L119 105.33 L119.5 105.33 L119.5 105.4 L120.5 105.4 L121 105.37 L121 105.27 L121.5 105.27 L121.5 104.98 L122 104.98 L122 105.22 L122.5 105.22 L122.5 105.31 L123 105.31 L123 105.4 L127 105.4 L127.5 105.37 L127.5 105.24 L128 105.24 L128 104.82 L129 104.82 L129 105.22 L129.5 105.22 L129.5 105.35 L130 105.35 L130 105.4 L131 105.4 L131 105.19 L131.5 105.19 L131.5 104.96 L132 104.96 L132 104.38 L132.5 104.38 L132.5 105.03 L133 105.03 L133 105.26 L133.5 105.26 L133.5 105.4 L138 105.4 L138 105.32 L138.5 105.32 L138.5 105.2 L139 105.2 L139 104.91 L139.5 104.91 L139.5 105.16 L140 105.16 L140 104.84 L140.5 104.84 L140.5 105.17 L141 105.17 L141 105.3 L141.5 105.3 L141.5 105.17 L142 105.17 L142 104.38 L143 104.38 L143 104.95 L143.5 104.95 L143.5 105.18 L144 105.18 L144 105.4 L147 105.4 L147 105.31 L147.5 105.31 L147.5 105.19 L148 105.19 L148 104.86 L148.5 104.86 L148.5 104.91 L149 104.91 L149 103.65 L150 103.65 L150 104.65 L150.5 104.65 L150.5 103.69 L151 103.69 L151 104.91 L151.5 104.91 L151.5 105.3 L152 105.3 L152 105.4 L153.5 105.4 L153.5 105.35 L154 105.35 L154 104.98 L154.5 104.98 L154.5 103.76 L155.5 103.76 L155.5 104.76 L156 104.76 L156 104.99 L156.5 104.99 L156.5 105.24 L157 105.24 L157 105.34 L157.5 105.34 L157.5 105.4 L161 105.4 L161 105.34 L161.5 105.34 L161.5 105.23 L162 105.23 L162 104.87 L162.5 104.87 L162.5 104.98 L163 104.98 L163 104.1 L164 104.1 L164 105.06 L164.5 105.06 L164.5 105.35 L165 105.35 L165.5 105.4 L166.5 105.4 L167 105.38 L167 105.29 L167.5 105.29 L167.5 104.98 L168.5 104.98 L168.5 105.26 L169 105.26 L169 105.36 L169.5 105.36 L170 105.4 L184 105.4 L184 105.29 L184.5 105.29 L184.5 104.9 L186 104.9 L186 105.26 L186.5 105.26 L186.5 105.37 L187 105.37 L187.5 105.4 L188 105.4 L188.5 105.37 L188.5 105.21 L189 105.21 L189 104.72 L190 104.72 L190 104.22 L191 104.22 L191 105.06 L191.5 105.06 L191.5 105.33 L192.5 105.32 L192.5 105.22 L193 105.22 L193 104.94 L194 104.94 L194 105.28 L194.5 105.28 L194.5 105.39 L195 105.39 L195.5 105.4 L208.5 105.4 L208.5 105.33 L209 105.33 L209 105.04 L209.5 105.04 L209.5 104.12 L210.5 104.12 L210.5 105.09 L211 105.09 L211 105.38 L211.5 105.38 L212 105.4 L213 105.4 L213 105.16 L213.5 105.16 L213.5 104.87 L214 104.87 L214 104.1 L214.5 104.1 L214.5 104.88 L215 104.88 L215 105.17 L215.5 105.17 L215.5 105.4 L227 105.39 L227 105.2 L227.5 105.2 L227.5 104.54 L229 104.54 L229 105.18 L229.5 105.18 L229.5 105.38 L230 105.38 L230.5 105.4 L237.5 105.4 L237.5 105.32 L238 105.32 L238 105.23 L238.5 105.23 L238.5 104.97 L239.5 104.97 L239.5 105.23 L240 105.23 L240 105.32 L240.5 105.32 L240.5 105.4 L253 105.4 L253.5 105.36 L253.5 105.09 L254 105.09 L254 104.21 L255.5 104.21 L255.5 105.13 L256 105.13 L256 105.4 L276 105.4 L276.5 105.39 L276.5 105.22 L277 105.22 L277 104.65 L278 104.65 L278 105.19 L278.5 105.19 L278.5 105.36 L279 105.36 L279.5 105.4 L279.5 105.31 L280 105.31 L280 105.19 L280.5 105.19 L280.5 104.88 L281.5 104.88 L281.5 105.19 L282 105.19 L282 105.3 L282.5 105.3 L282.5 105.22 L283 105.22 L283 104.99 L284 104.99 L284 105.26 L284.5 105.26 L284.5 105.35 L285 105.35 L285.5 105.4 L298.5 105.4 L298.5 105.23 L299 105.23 L299 105.04 L299.5 105.04 L299.5 104.56 L300 104.56 L300 105.06 L300.5 105.06 L300.5 105.21 L301 105.21 L301 104.65 L302.5 104.65 L302.5 105.21 L303 105.21 L303 105.38 L303.5 105.38 L304 105.4 L317.5 105.4 L318 105.36 L318 105.09 L318.5 105.09 L318.5 104.09 L319.5 104.09 L320 104.06 L320 104.83 L320.5 104.83 L320.5 105.13 L321 105.13 L321 105.4 L328.5 105.4 L329 105.36 L329 105.23 L329.5 105.23 L329.5 104.81 L330.5 104.81 L330.5 105.27 L331 105.27 L331 105.4 L339 105.4 L339.5 105.36 L339.5 105.13 L340 105.13 L340 104.34 L341 104.34 L341 105.09 L341.5 105.09 L341.5 105.33 L342 105.33 L342 105.4 L365 105.4 L365 105.24 L365.5 105.24 L365.5 104.67 L366.5 104.67 L366.5 105.2 L367 105.2 L367.5 105.24 L367.5 105 L368.5 105 L368.5 105.24 L369 105.24 L369 105.33 L369.5 105.33 L369.5 105.4 L371.5 105.4 L371.5 105.34 L372 105.34 L372 105.23 L372.5 105.23 L372.5 104.93 L373 104.93 L373 105.22 L373.5 105.22 L373.5 105.33 L374 105.33 L374 105.4 L380.5 105.39 L380.5 105.28 L381 105.28 L381 104.93 L382 104.93 L382 105.23 L382.5 105.23 L382.5 105.33 L383 105.33 L383 105.4 L386.5 105.4 L386.5 105.29 L387 105.29 L387 105.18 L387.5 105.18 L387.5 104.9 L388.5 104.9 L388.5 105.27 L389 105.27 L389 105.38 L389.5 105.38 L390 105.4 L394 105.4 L394 105.34 L394.5 105.34 L394.5 105.21 L395 105.21 L395 104.83 L396.5 104.83 L396.5 105.26 L397 105.26 L397 105.39 L397.5 105.39 L398 105.4 L401 105.4 L401 105.28 L401.5 105.28 L401.5 105.08 L402 105.08 L402 104.51 L402.5 104.51 L402.5 105.04 L403 105.04 L403 105.24 L403.5 105.24 L403.5 105.4 L405.5 105.4 L405.5 105.28 L406 105.28 L406 104.98 L406.5 104.98 L406.5 104.1 L408 104.1 L408 105.06 L408.5 105.06 L409 105.1 L409 104.13 L410 104.13 L410 104.93 L410.5 104.93 L410.5 105.22 L411 105.22 L411 105.4 L420.5 105.4 L420.5 105.29 L421 105.29 L421 105.14 L421.5 105.14 L421.5 104.73 L422.5 104.73 L422.5 105.15 L423 105.15 L423 105.3 L423.5 105.3 L423.5 105.4 L429 105.4 L429 105.31 L429.5 105.31 L429.5 104.99 L431 104.99 L431 105.26 L431.5 105.26 L431.5 105.36 L432 105.36 L432 105.24 L432.5 105.24 L432.5 105 L433 105 L433 104.35 L434 104.35 L434 105.07 L434.5 105.07 L434.5 105.31 L435 105.31 L435 105.4 L437.5 105.4 L437.5 105.32 L438 105.32 L438 105.23 L438.5 105.23 L438.5 104.98 L439.5 104.98 L439.5 105.23 L440 105.23 L440 105.08 L440.5 105.08 L440.5 104.54 L441.5 104.54 L441.5 105.12 L442 105.12 L442 105.32 L442.5 105.32 L442.5 105.4 L454 105.4 L454 105.21 L454.5 105.21 L454.5 105.01 L455 105.01 L455 104.53 L456 104.53 L456 105.14 L456.5 105.14 L456.5 105.34 L457 105.34 L457 105.4 L463 105.4 L463 105.3 L463.5 105.3 L463.5 105.2 L464 105.2 L464 104.96 L464.5 104.96 L464.5 105.25 L465 105.25 L465 105.35 L465.5 105.35 L466 105.4 L467 105.4 L467 105.34 L467.5 105.34 L467.5 105.14 L468 105.14 L468 104.5 L469 104.5 L469 105.03 L469.5 105.03 L469.5 105.23 L470 105.23 L470 105.4 L471.5 105.4 L471.5 105.34 L472 105.34 L472 105.25 L472.5 105.25 L472.5 105 L473.5 105 L473.5 105.28 L474 105.28 L474.5 105.26 L474.5 105.01 L475 105.01 L475 104.3 L476 104.3 L476 104.98 L476.5 104.98 L476.5 105.22 L477 105.22 L477 105.4 L477.5 105.4 L477.5 105.16 L478 105.16 L478 104.88 L478.5 104.88 L478.5 104.15 L479.5 104.15 L479.5 105.05 L480 105.05 L480 105.33 L480.5 105.33 L480.5 105.4 L492 105.4 L492.5 105.36 L492.5 105.22 L493 105.22 L493 104.79 L494 104.79 L494 105.23 L494.5 105.23 L494.5 105.36 L495 105.36 L495.5 105.4 L510.7 105.4Z" fill="#b83c42"/>
<path d="M52.5 105.4 L73 105.4 L73 104.45 L73.5 104.45 L73.5 102.88 L74 102.88 L74 98.4 L75 98.4 L75 102.57 L75.5 102.57 L75.5 104.14 L76 104.14 L76 105.4 L81.5 105.4 L81.5 105.31 L82 105.31 L82 104.86 L82.5 104.86 L82.5 103.4 L84 103.4 L84 104.86 L84.5 104.86 L84.5 105.31 L85 105.31 L85 105.4 L110.5 105.4 L110.5 104.05 L111 104.05 L111 101.8 L111.5 101.8 L111.5 95.4 L113 95.4 L113 102.7 L113.5 102.7 L113.5 104.95 L114 104.95 L114 105.4 L125 105.4 L125 104.5 L125.5 104.5 L125.5 102.25 L126 102.25 L126 95.4 L127.5 95.4 L127.5 102.25 L128 102.25 L128 104.5 L128.5 104.5 L128.5 105.4 L153.5 105.4 L153.5 104.16 L154 104.16 L154 101.05 L154.5 101.05 L154.5 91.6 L156 91.6 L156 101.05 L156.5 101.05 L156.5 104.16 L157 104.16 L157 105.4 L207.5 105.4 L207.5 105.31 L208 105.31 L208 104.86 L208.5 104.86 L208.5 103.4 L210 103.4 L210 104.86 L210.5 104.86 L210.5 105.31 L211 105.31 L211 105.4 L256.5 105.4 L256.5 105.33 L257 105.33 L257 105 L257.5 105 L257.5 103.9 L259 103.9 L259 105 L259.5 105 L259.5 105.33 L260 105.33 L260 105.4 L352 105.4 L352 104.82 L352.5 104.82 L352.5 101.89 L353 101.89 L353 92.4 L354.5 92.4 L354.5 100.72 L355 100.72 L355 103.64 L355.5 103.64 L355.5 105.4 L433.5 105.4 L433.5 105.27 L434 105.27 L434 104.59 L434.5 104.59 L434.5 102.4 L436 102.4 L436 104.59 L436.5 104.59 L436.5 105.27 L437 105.27 L437 105.4 L458.5 105.4 L458.5 105.33 L459 105.33 L459 105 L459.5 105 L459.5 103.9 L461 103.9 L461 105 L461.5 105 L461.5 105.33 L462 105.33 L462 105.4 L510.7 105.4Z" fill="#dc2a30"/>
<rect x="52.5" y="122.65" width="458.2" height="1.3" fill="#d65a64"/>
<path d="M52.5 123 L53 123 L53.5 122.97 L53.5 122.82 L54 122.82 L54 122.34 L55.5 122.34 L55.5 122.8 L56 122.8 L56 122.95 L56.5 122.95 L57 123 L57 122.81 L57.5 122.81 L57.5 122.57 L58 122.57 L58 121.93 L59 121.93 L59 122.68 L59.5 122.68 L59.5 122.76 L60 122.76 L60 122.03 L61.5 122.03 L61.5 122.7 L62 122.7 L62 122.92 L62.5 122.92 L62.5 122.99 L63 122.99 L63 122.58 L63.5 122.58 L63.5 121.15 L65 121.15 L65 122.56 L65.5 122.56 L65.5 122.62 L66 122.62 L66 122.13 L66.5 122.13 L66.5 120.84 L67 120.84 L67 122.31 L67.5 122.31 L67.5 122.64 L68 122.64 L68 122.25 L68.5 122.25 L68.5 121.28 L69 121.28 L69 122.5 L69.5 122.5 L69.5 122.89 L70 122.89 L70 122.75 L70.5 122.75 L70.5 122.32 L71 122.32 L71 122.05 L72 122.05 L72 122.75 L72.5 122.75 L72.5 122.36 L73 122.36 L73 122.78 L73.5 122.78 L73.5 122.92 L74 122.92 L74 123 L77 123 L77 122.91 L77.5 122.91 L77.5 122.76 L78 122.76 L78 122.32 L79 122.32 L79 122.72 L79.5 122.72 L79.5 122.34 L80 122.34 L80 121.05 L81 121.05 L81 122.12 L82 122.12 L82 122.63 L82.5 122.63 L82.5 122.83 L83 122.83 L83 123 L83.5 123 L83.5 122.93 L84 122.93 L84 122.84 L84.5 122.84 L84.5 122.6 L85 122.6 L85 122.84 L85.5 122.84 L86 122.88 L86 122.52 L87 122.52 L87 122.82 L87.5 122.82 L87.5 122.93 L88 122.93 L88 122.7 L88.5 122.7 L88.5 122.31 L89 122.31 L89 121.29 L89.5 121.29 L89.5 121.09 L90 121.09 L90 121.02 L91 121.02 L91 121.77 L92 121.77 L92 122.69 L92.5 122.69 L92.5 122.96 L93 122.96 L93.5 123 L95.5 123 L96 122.98 L96 122.74 L96.5 122.74 L96.5 121.94 L98 121.94 L98 122.52 L98.5 122.52 L99 122.56 L99 121.77 L99.5 121.77 L99.5 121.09 L100.5 121.09 L100.5 122.39 L101 122.39 L101 121.36 L101.5 121.36 L101.5 122.33 L102 122.33 L102 122.7 L102.5 122.7 L102.5 122.51 L104 122.51 L104 122.86 L104.5 122.86 L104.5 122.97 L105 122.97 L105.5 122.96 L105.5 122.73 L106 122.73 L106 121.94 L107.5 121.94 L107.5 122.46 L108 122.46 L108 121.01 L109.5 121.01 L109.5 122.5 L110 122.5 L110 122.33 L111.5 122.33 L111.5 122.81 L112 122.81 L112 122.71 L112.5 122.71 L112.5 122.34 L113 122.34 L113 122.73 L113.5 122.73 L113.5 122.88 L114 122.88 L114.5 122.85 L114.5 122.63 L115 122.63 L115 122.03 L115.5 122.03 L115.5 121.4 L116.5 121.4 L116.5 122.17 L117 122.17 L117 122.65 L117.5 122.65 L117.5 122.83 L118 122.83 L118 122.55 L118.5 122.55 L118.5 122.37 L119 122.37 L119 121.01 L120 121.01 L120 122.28 L120.5 122.28 L120.5 122.73 L121 122.73 L121 122.92 L121.5 122.92 L121.5 122.81 L122 122.81 L122 122.49 L122.5 122.49 L122.5 122.81 L123 122.81 L123 122.62 L123.5 122.62 L123.5 121.74 L124.5 121.74 L124.5 122.69 L125 122.69 L125 122.97 L125.5 122.97 L126 123 L127 123 L127.5 122.96 L127.5 122.86 L128 122.86 L128 122.56 L129.5 122.56 L129.5 122.89 L130 122.89 L130 122.99 L130.5 122.99 L131 123 L131.5 123 L131.5 122.66 L132 122.66 L132 122.18 L132.5 122.18 L132.5 120.87 L133.5 120.87 L133.5 121.95 L134.5 121.95 L134.5 122.73 L135 122.73 L135.5 122.75 L135.5 122.19 L136.5 122.19 L136.5 122.77 L137 122.77 L137 122.82 L137.5 122.82 L137.5 122.57 L138.5 122.57 L138.5 122.86 L139 122.86 L139 122.79 L139.5 122.79 L139.5 122.23 L140.5 122.23 L140.5 122.71 L141 122.71 L141 122.88 L141.5 122.88 L141.5 122.75 L142 122.75 L142 122.31 L143 122.31 L143 122.78 L143.5 122.78 L143.5 122.93 L144 122.93 L144 123 L144.5 123 L144.5 122.9 L145 122.9 L145 122.66 L145.5 122.66 L145.5 121.96 L147 121.96 L147 122.49 L148.5 122.49 L148.5 122.87 L149 122.87 L149 122.98 L149.5 122.98 L150 123 L150 122.87 L150.5 122.87 L150.5 122.68 L151 122.68 L151 122.14 L152 122.14 L152 122.79 L152.5 122.79 L152.5 122.9 L153 122.9 L153 122.61 L153.5 122.61 L153.5 121.71 L154 121.71 L154 120.81 L155.5 120.81 L155.5 122.48 L156 122.48 L156 122.97 L156.5 122.97 L157 123 L160 123 L160.5 122.98 L160.5 122.86 L161 122.86 L161 122.48 L162 122.48 L162 122.66 L162.5 122.66 L162.5 121.57 L163.5 121.57 L163.5 122.05 L164 122.05 L164 122.58 L164.5 122.58 L164.5 122.79 L165 122.79 L165 123 L171.5 123 L171.5 122.71 L172 122.71 L172 122.32 L172.5 122.32 L172.5 121.28 L173.5 121.28 L173.5 122.38 L174 122.38 L174 122.77 L174.5 122.77 L174.5 123 L179.5 123 L179.5 122.61 L180 122.61 L180 122.21 L180.5 122.21 L180.5 121.2 L181.5 121.2 L181.5 122.48 L182 122.48 L182 122.88 L182.5 122.88 L182.5 123 L189.5 123 L189.5 122.92 L190 122.92 L190 122.8 L190.5 122.8 L190.5 122.47 L191.5 122.47 L191.5 122.81 L192 122.81 L192 122.93 L192.5 122.93 L192.5 123 L193 123 L193 122.9 L193.5 122.9 L193.5 122.76 L194 122.76 L194 122.39 L195 122.39 L195.5 122.34 L195.5 121.32 L196.5 121.32 L196.5 122.42 L197 122.42 L197 121.49 L198.5 121.49 L198.5 122.52 L199 122.52 L199 121.61 L200 121.61 L200 122.38 L200.5 122.38 L200.5 122.69 L201 122.69 L201 123 L203 123 L203 122.93 L203.5 122.93 L203.5 122.83 L204 122.83 L204 122.58 L205 122.58 L205 122.9 L205.5 122.9 L205.5 123 L221 123 L221 122.93 L221.5 122.93 L221.5 122.84 L222 122.84 L222 122.59 L223 122.59 L223 122.87 L223.5 122.87 L223.5 122.96 L224 122.96 L224 122.79 L224.5 122.79 L224.5 122.48 L225 122.48 L225 121.63 L226 121.63 L226 122.55 L226.5 122.55 L226.5 122.63 L227 122.63 L227 121.57 L228 121.57 L228 122.43 L228.5 122.43 L228.5 122.76 L229 122.76 L229 123 L235 123 L235.5 122.98 L235.5 122.74 L236 122.74 L236 121.94 L237 121.94 L237 122.73 L237.5 122.73 L237.5 122.97 L238 122.97 L238.5 123 L239 123 L239.5 122.96 L239.5 122.72 L240 122.72 L240 122.37 L240.5 122.37 L240.5 121.45 L241.5 121.45 L241.5 122.56 L242 122.56 L242 122.38 L242.5 122.38 L242.5 121.37 L243.5 121.37 L243.5 122.44 L244 122.44 L244 122.77 L244.5 122.77 L244.5 122.37 L245 122.37 L245 122.72 L245.5 122.72 L245.5 122.55 L246 122.55 L246 121.33 L247 121.33 L247 122.56 L247.5 122.56 L247.5 122.93 L248 122.93 L248 123 L255 123 L255 122.93 L255.5 122.93 L255.5 122.77 L256 122.77 L256 122.2 L257 122.2 L257 121.7 L258.5 121.7 L258.5 122.66 L259 122.66 L259 122.76 L259.5 122.76 L259.5 122.38 L260.5 122.38 L260.5 122.82 L261 122.82 L261 122.96 L261.5 122.96 L262 123 L270 123 L270 122.91 L270.5 122.91 L270.5 122.82 L271 122.82 L271 122.59 L271.5 122.59 L271.5 122.85 L272 122.85 L272 122.94 L272.5 122.94 L272.5 123 L273.5 123 L273.5 122.68 L274 122.68 L274 122.27 L274.5 122.27 L274.5 121.21 L275 121.21 L275 122.34 L275.5 122.34 L275.5 122.75 L276 122.75 L276 123 L283.5 123 L283.5 122.87 L284 122.87 L284 122.59 L284.5 122.59 L284.5 121.73 L285.5 121.73 L285.5 122.58 L286 122.58 L286 122.87 L286.5 122.87 L286.5 122.57 L287 122.57 L287 121.38 L288.5 121.38 L288.5 122.53 L289 122.53 L289 122.9 L289.5 122.9 L289.5 123 L290.5 123 L290.5 122.92 L291 122.92 L291 122.53 L291.5 122.53 L291.5 121.26 L292.5 121.26 L292.5 122.23 L293 122.23 L293 122.62 L293.5 122.62 L293.5 123 L297.5 123 L298 122.98 L298 122.78 L298.5 122.78 L298.5 122.04 L300 122.04 L300 122.75 L300.5 122.75 L300.5 122.96 L301 122.96 L301.5 123 L302 123 L302 122.74 L302.5 122.74 L302.5 122.44 L303 122.44 L303 121.68 L304 121.68 L304 122.68 L304.5 122.68 L304.5 122.97 L305 122.97 L305.5 123 L307.5 123 L308 122.96 L308 122.77 L308.5 122.77 L308.5 122.15 L309.5 122.15 L309.5 122.68 L310 122.68 L310.5 122.73 L310.5 122.25 L311.5 122.25 L311.5 122.68 L312 122.68 L312 122.84 L312.5 122.84 L312.5 123 L313.5 123 L313.5 122.91 L314 122.91 L314 122.81 L314.5 122.81 L314.5 122.58 L315.5 122.58 L315.5 122.85 L316 122.85 L316 122.94 L316.5 122.94 L316.5 123 L321 123 L321 122.84 L321.5 122.84 L321.5 122.48 L322 122.48 L322 121.39 L323 121.39 L323 122.62 L323.5 122.62 L323.5 122.98 L324 122.98 L324.5 123 L325 123 L325 122.9 L325.5 122.9 L325.5 122.52 L326 122.52 L326 121.3 L327 121.3 L327 122.31 L327.5 122.31 L327.5 122.69 L328 122.69 L328 123 L328.5 123 L328.5 122.83 L329 122.83 L329 122.61 L329.5 122.61 L329.5 122 L330.5 122 L330.5 122.6 L331 122.6 L331 122.82 L331.5 122.82 L331.5 123 L339.5 123 L339.5 122.91 L340 122.91 L340 122.8 L340.5 122.8 L340.5 122.51 L341 122.51 L341 122.81 L341.5 122.81 L341.5 122.91 L342 122.91 L342 123 L343.5 123 L343.5 122.84 L344 122.84 L344 122.56 L344.5 122.56 L344.5 121.76 L345.5 121.76 L345.5 122.52 L346.5 122.52 L346.5 121.37 L348 121.37 L348 122.57 L348.5 122.57 L348.5 122.94 L349 122.94 L349 123 L360.5 123 L360.5 122.82 L361 122.82 L361 122.52 L361.5 122.52 L361.5 121.65 L362 121.65 L362 122.48 L362.5 122.48 L362.5 122.78 L363 122.78 L363 123 L367 123 L367 122.91 L367.5 122.91 L367.5 122.77 L368 122.77 L368 122.37 L368.5 122.37 L368.5 122.72 L369 122.72 L369 122.87 L369.5 122.87 L369.5 122.72 L370 122.72 L370 122.34 L371 122.34 L371 122.85 L371.5 122.85 L371.5 123 L372 123 L372 122.79 L372.5 122.79 L372.5 122.46 L373 122.46 L373 121.56 L374 121.56 L374 122.4 L374.5 122.4 L374.5 122.06 L376 122.06 L376 122.76 L376.5 122.76 L376.5 122.97 L377 122.97 L377.5 123 L378.5 123 L378.5 122.85 L379 122.85 L379 122.68 L379.5 122.68 L379.5 122.25 L380 122.25 L380 122.76 L380.5 122.76 L380.5 122.93 L381 122.93 L381 123 L391.5 123 L391.5 122.88 L392 122.88 L392 122.69 L392.5 122.69 L392.5 122.19 L393 122.19 L393 122.66 L393.5 122.66 L393.5 122.84 L394 122.84 L394 123 L396 123 L396.5 122.97 L396.5 122.76 L397 122.76 L397 122.04 L398.5 122.04 L398.5 122.72 L399 122.72 L399 122.94 L399.5 122.94 L399.5 123 L401 123 L401.5 122.97 L401.5 122.86 L402 122.86 L402 122.52 L403 122.52 L403 122.83 L403.5 122.83 L403.5 122.94 L404 122.94 L404 123 L405.5 123 L405.5 122.85 L406 122.85 L406 122.65 L406.5 122.65 L406.5 122.14 L407 122.14 L407 122.72 L407.5 122.72 L407.5 122.91 L408 122.91 L408 123 L409 123 L409 122.87 L409.5 122.87 L409.5 122.68 L410 122.68 L410 122.17 L411 122.17 L411 122.67 L411.5 122.67 L412 122.66 L412 122.11 L412.5 122.11 L412.5 122.64 L413 122.64 L413 122.84 L413.5 122.84 L413.5 123 L419.5 123 L420 122.95 L420 122.83 L420.5 122.83 L420.5 122.45 L421.5 122.45 L421.5 122.87 L422 122.87 L422 123 L426 123 L426 122.74 L426.5 122.74 L426.5 122.44 L427 122.44 L427 121.65 L428 121.65 L428 122.48 L428.5 122.48 L428.5 122.79 L429 122.79 L429 123 L432 123 L432.5 122.98 L432.5 122.71 L433 122.71 L433 121.79 L434.5 121.79 L434.5 122.61 L435 122.61 L435 122.88 L435.5 122.88 L435.5 123 L440.5 123 L440.5 122.91 L441 122.91 L441 122.67 L441.5 122.67 L441.5 121.9 L442.5 121.9 L442.5 122.58 L443 122.58 L443 122.27 L443.5 122.27 L443.5 121.25 L444 121.25 L444 122.47 L444.5 122.47 L444.5 122.86 L445 122.86 L445 123 L446 123 L446.5 122.96 L446.5 122.67 L447 122.67 L447 121.75 L448 121.75 L448 122.48 L448.5 122.48 L448.5 122.76 L449 122.76 L449 122.7 L449.5 122.7 L449.5 122.09 L450 122.09 L450.5 122.11 L450.5 122.61 L451 122.61 L451 122.8 L451.5 122.8 L451.5 122.59 L452 122.59 L452 122.08 L452.5 122.08 L452.5 122.56 L453 122.56 L453 122.86 L453.5 122.86 L453.5 122.96 L454 122.96 L454.5 123 L457.5 123 L457.5 122.94 L458 122.94 L458 122.85 L458.5 122.85 L458.5 122.58 L459.5 122.58 L459.5 122.82 L460 122.82 L460 122.92 L460.5 122.92 L460.5 123 L472 123 L472 122.92 L472.5 122.92 L472.5 122.78 L473 122.78 L473 122.35 L473.5 122.35 L473.5 122.73 L474 122.73 L474 122.88 L474.5 122.88 L474.5 123 L486.5 123 L486.5 122.76 L487 122.76 L487 122.51 L487.5 122.51 L487.5 121.89 L488.5 121.89 L488.5 121.46 L489.5 121.46 L489.5 122.48 L490 122.48 L490 122.83 L490.5 122.83 L490.5 123 L507.5 123 L507.5 122.91 L508 122.91 L508 122.65 L508.5 122.65 L508.5 121.83 L509.5 121.83 L509.5 122.67 L510 122.67 L510 122.94 L510.5 122.94 L510.7 123Z" fill="#b83c42"/>
<path d="M52.5 123 L64 123 L64 122.82 L64.5 122.82 L64.5 121.92 L65 121.92 L65 119 L66.5 119 L66.5 121.92 L67 121.92 L67 122.82 L67.5 122.82 L67.5 123 L73 123 L73 122.64 L73.5 122.64 L73.5 120.84 L74 120.84 L74 115 L75.5 115 L75.5 120.84 L76 120.84 L76 122.64 L76.5 122.64 L76.5 123 L109 123 L109 122.55 L109.5 122.55 L109.5 120.3 L110 120.3 L110 113 L111.5 113 L111.5 120.3 L112 120.3 L112 122.55 L112.5 122.55 L112.5 123 L122.5 123 L122.5 122.78 L123 122.78 L123 121.65 L123.5 121.65 L123.5 118 L125 118 L125 121.65 L125.5 121.65 L125.5 121.71 L126 121.71 L126 119.12 L126.5 119.12 L126.5 111.5 L128 111.5 L128 119.12 L128.5 119.12 L128.5 121.71 L129 121.71 L129 123 L153.5 123 L153.5 121.69 L154 121.69 L154 118.43 L154.5 118.43 L154.5 108.5 L156 108.5 L156 118.43 L156.5 118.43 L156.5 121.69 L157 121.69 L157 123 L171.5 123 L171.5 122.64 L172 122.64 L172 122.19 L172.5 122.19 L172.5 121 L173.5 121 L173.5 122.28 L174 122.28 L174 122.73 L174.5 122.73 L174.5 122.86 L175 122.86 L175 122.19 L175.5 122.19 L175.5 120 L177 120 L177 122.19 L177.5 122.19 L177.5 122.86 L178 122.86 L178 123 L201.5 123 L201.5 122.55 L202 122.55 L202 121 L203.5 121 L203.5 122.37 L204 122.37 L204 122.82 L204.5 122.82 L204.5 123 L209 123 L209 122.46 L209.5 122.46 L209.5 121.56 L210 121.56 L210 119 L211 119 L211 121.38 L211.5 121.38 L211.5 122.28 L212 122.28 L212 123 L221 123 L221 122.86 L221.5 122.86 L221.5 122.19 L222 122.19 L222 120 L223.5 120 L223.5 122.19 L224 122.19 L224 122.86 L224.5 122.86 L224.5 123 L257.5 123 L257.5 122.91 L258 122.91 L258 122.46 L258.5 122.46 L258.5 121 L260 121 L260 122.46 L260.5 122.46 L260.5 122.91 L261 122.91 L261 123 L274.5 123 L274.5 122.55 L275 122.55 L275 122.1 L275.5 122.1 L275.5 121 L276.5 121 L276.5 122.37 L277 122.37 L277 122.82 L277.5 122.82 L277.5 123 L318.5 123 L318.5 122.91 L319 122.91 L319 122.46 L319.5 122.46 L319.5 121 L321 121 L321 122.46 L321.5 122.46 L321.5 122.91 L322 122.91 L322 123 L328.5 123 L328.5 122.91 L329 122.91 L329 122.46 L329.5 122.46 L329.5 121 L331 121 L331 122.46 L331.5 122.46 L331.5 122.91 L332 122.91 L332 123 L352 123 L352 122.06 L352.5 122.06 L352.5 118.91 L353 118.91 L353 109 L354.5 109 L354.5 117.64 L355 117.64 L355 120.79 L355.5 120.79 L355.5 123 L360.5 123 L360.5 122.86 L361 122.86 L361 122.19 L361.5 122.19 L361.5 120 L363 120 L363 122.19 L363.5 122.19 L363.5 122.86 L364 122.86 L364 123 L405.5 123 L405.5 122.91 L406 122.91 L406 122.46 L406.5 122.46 L406.5 121 L408 121 L408 122.46 L408.5 122.46 L408.5 122.91 L409 122.91 L409 123 L423.5 123 L423.5 122.91 L424 122.91 L424 122.46 L424.5 122.46 L424.5 121 L426 121 L426 122.46 L426.5 122.46 L426.5 122.91 L427 122.91 L427 123 L434 123 L434 122.73 L434.5 122.73 L434.5 121.38 L435 121.38 L435 117 L436.5 117 L436.5 121.38 L437 121.38 L437 122.73 L437.5 122.73 L437.5 123 L510.7 123Z" fill="#dc2a30"/>
<rect x="52.5" y="139.75" width="458.2" height="1.3" fill="#d65a64"/>
<path d="M52.5 140.1 L54.5 140.1 L54.5 140.04 L55 140.04 L55 139.95 L55.5 139.95 L55.5 139.68 L56 139.68 L56 138.68 L57 138.68 L57 139.5 L57.5 139.5 L57.5 139.82 L58 139.82 L58 139.34 L58.5 139.34 L58.5 138.26 L59.5 138.26 L59.5 139.59 L60 139.59 L60 139.95 L60.5 139.95 L60.5 139.67 L61 139.67 L61 138.87 L62 138.87 L62 139.3 L62.5 139.3 L62.5 137.57 L63.5 137.57 L63.5 138.94 L64.5 138.94 L64.5 139.71 L65 139.71 L65 139.97 L65.5 139.97 L65.5 140.09 L66 140.09 L66 139.77 L66.5 139.77 L66.5 138.68 L67.5 138.68 L67.5 139.57 L68 139.57 L68 139.88 L68.5 139.88 L68.5 140.1 L71.5 140.1 L71.5 139.83 L72 139.83 L72 139.42 L72.5 139.42 L72.5 138.28 L73.5 138.28 L73.5 139.42 L74 139.42 L74 139.31 L74.5 139.31 L74.5 139.55 L75 139.55 L75 139.93 L75.5 139.93 L75.5 140.05 L76 140.05 L76 139.81 L76.5 139.81 L76.5 139.23 L77 139.23 L77 137.53 L77.5 137.53 L77.5 138.99 L78 138.99 L78 138.03 L78.5 138.03 L78.5 139.17 L79 139.17 L79 139.61 L80 139.61 L80 139.4 L80.5 139.4 L80.5 137.89 L81.5 137.89 L81.5 139.16 L82 139.16 L82 137.71 L82.5 137.71 L82.5 139.11 L83 139.11 L83 137.83 L84 137.83 L84 139.12 L84.5 139.12 L84.5 139.63 L85 139.63 L85 139.29 L85.5 139.29 L85.5 138.19 L86 138.19 L86 139.36 L86.5 139.36 L86.5 139.79 L87 139.79 L87 140.1 L88.5 140.1 L89 140.07 L89 139.92 L89.5 139.92 L89.5 139.46 L90.5 139.46 L90.5 139.65 L91 139.65 L91 139.15 L92 139.15 L92 139.7 L92.5 139.7 L92.5 139.91 L93 139.91 L93 139.99 L93.5 139.99 L93.5 139.83 L94 139.83 L94 139.39 L95 139.39 L95 139.84 L95.5 139.84 L95.5 139.52 L96.5 139.52 L96.5 139.89 L97 139.89 L97 140.03 L97.5 140.03 L97.5 140.1 L101.5 140.1 L101.5 140.02 L102 140.02 L102 139.82 L102.5 139.82 L102.5 139.21 L103.5 139.21 L103.5 139.85 L104 139.85 L104 140.06 L104.5 140.06 L105 140.1 L106 140.1 L106 140.01 L106.5 140.01 L106.5 139.84 L107 139.84 L107 139.33 L108 139.33 L108 139.77 L108.5 139.77 L108.5 139.94 L109 139.94 L109 140.1 L109.5 140.1 L109.5 139.99 L110 139.99 L110 139.81 L110.5 139.81 L110.5 139.3 L111.5 139.3 L111.5 139.8 L112 139.8 L112 139.44 L112.5 139.44 L112.5 137.61 L113.5 137.61 L113.5 139.3 L114 139.3 L114 139.86 L114.5 139.86 L114.5 139.98 L115 139.98 L115 139.7 L115.5 139.7 L115.5 138.93 L116.5 138.93 L116.5 139.65 L117 139.65 L117 139.92 L117.5 139.92 L117.5 140.02 L118 140.02 L118 139.84 L118.5 139.84 L118.5 139.3 L119 139.3 L119 138.28 L119.5 138.28 L119.5 137.74 L120 137.74 L120 139.06 L120.5 139.06 L120.5 139.59 L121 139.59 L121.5 139.56 L122 139.56 L122.5 139.59 L122.5 139.82 L123 139.82 L123 139.46 L123.5 139.46 L123.5 138.51 L124.5 138.51 L124.5 137.7 L125.5 137.7 L125.5 139.1 L126 139.1 L126 139.64 L126.5 139.64 L126.5 140.1 L131 140.1 L131 140.02 L131.5 140.02 L131.5 139.82 L132 139.82 L132 139.21 L132.5 139.21 L132.5 139.71 L133 139.71 L133 139.02 L134.5 139.02 L134.5 139.42 L135 139.42 L135 137.68 L136 137.68 L136 139.4 L136.5 139.4 L136.5 139.75 L137 139.75 L137 139.13 L137.5 139.13 L137.5 139.7 L138 139.7 L138 139.92 L138.5 139.92 L138.5 140.1 L139 140.1 L139 139.93 L139.5 139.93 L139.5 139.38 L140 139.38 L140 137.66 L141 137.66 L141 138.14 L141.5 138.14 L141.5 137.58 L142.5 137.58 L142.5 138.08 L143.5 138.08 L143.5 138.41 L144.5 138.41 L144.5 139.43 L145 139.43 L145 139.71 L145.5 139.71 L145.5 139.02 L146 139.02 L146 139.65 L146.5 139.65 L146.5 139.89 L147 139.89 L147 140.04 L147.5 140.04 L147.5 139.95 L148 139.95 L148 139.68 L149 139.68 L149 139.87 L149.5 139.87 L149.5 139.24 L150 139.24 L150 138.27 L151 138.27 L151 139.33 L151.5 139.33 L151.5 139.74 L152 139.74 L152 139.67 L152.5 139.67 L152.5 138.79 L153.5 138.79 L153.5 139.42 L154 139.42 L154 139.8 L154.5 139.8 L154.5 139.95 L155 139.95 L155 140.1 L163 140.1 L163 140.01 L163.5 140.01 L163.5 139.56 L164 139.56 L164 138.1 L165 138.1 L165 139.39 L165.5 139.39 L165.5 139.84 L166 139.84 L166 140.1 L168.5 140.1 L168.5 139.95 L169 139.95 L169 139.66 L169.5 139.66 L169.5 138.81 L170.5 138.81 L170.5 139.76 L171 139.76 L171 140.05 L171.5 140.05 L172 140.1 L173.5 140.1 L173.5 139.89 L174 139.89 L174 139.62 L174.5 139.62 L174.5 138.89 L175 138.89 L175 139.62 L175.5 139.62 L175.5 139.89 L176 139.89 L176 140.1 L177.5 140.1 L177.5 140.03 L178 140.03 L178 139.82 L178.5 139.82 L178.5 139.17 L179.5 139.17 L179.5 139.53 L180 139.53 L180.5 139.51 L180.5 138.59 L181 138.59 L181 139.52 L181.5 139.52 L181.5 139.86 L182 139.86 L182 140.1 L191.5 140.1 L192 140.08 L192 139.85 L192.5 139.85 L192.5 139.05 L193.5 139.05 L193.5 139.67 L194 139.67 L194 139.9 L194.5 139.9 L194.5 139.98 L195 139.98 L195 139.76 L195.5 139.76 L195.5 139.13 L196.5 139.13 L196.5 139.69 L197.5 139.69 L197.5 140 L198 140 L198 140.09 L198.5 140.09 L199 140.1 L199.5 140.1 L199.5 139.85 L200 139.85 L200 139.53 L200.5 139.53 L200.5 138.66 L201.5 138.66 L201.5 139.61 L202 139.61 L202 139.91 L202.5 139.91 L202.5 139.72 L203 139.72 L203 139.06 L203.5 139.06 L203.5 139.7 L204 139.7 L204 139.95 L204.5 139.95 L204.5 140.08 L205 140.08 L205.5 140.1 L205.5 139.77 L206 139.77 L206 139.4 L206.5 139.4 L206.5 138.45 L207 138.45 L207 139.44 L207.5 139.44 L207.5 139.81 L208 139.81 L208 140.1 L211.5 140.1 L211.5 139.81 L212 139.81 L212 139.5 L212.5 139.5 L212.5 138.75 L213 138.75 L213 139.65 L213.5 139.65 L213.5 139.27 L214 139.27 L214 139.44 L215 139.44 L215 139.9 L215.5 139.9 L215.5 140.05 L216 140.05 L216 139.95 L216.5 139.95 L216.5 139.69 L217.5 139.69 L217.5 139.95 L218 139.95 L218 139.83 L218.5 139.83 L218.5 139.43 L219.5 139.43 L219.5 139.86 L220 139.86 L220 140.01 L220.5 140.01 L220.5 140.1 L224.5 140.1 L224.5 139.89 L225 139.89 L225 139.62 L225.5 139.62 L225.5 138.91 L226.5 138.91 L226.5 139.75 L227 139.75 L227 140.01 L227.5 140.01 L227.5 140.1 L233 140.1 L233.5 140.07 L233.5 139.97 L234 139.97 L234 139.65 L235 139.65 L235 139.99 L235.5 139.99 L235.5 140.09 L248.5 140.1 L248.5 140 L249 140 L249 139.86 L249.5 139.86 L249.5 139.48 L250.5 139.48 L250.5 139.88 L251 139.88 L251 140.02 L251.5 140.02 L251.5 140.1 L259.5 140.1 L259.5 139.99 L260 139.99 L260 139.75 L260.5 139.75 L260.5 139.02 L261.5 139.02 L261.5 139.75 L262 139.75 L262 139.99 L262.5 139.99 L262.5 140.1 L266 140.1 L266 139.89 L266.5 139.89 L266.5 139.62 L267 139.62 L267 138.89 L268 138.89 L268 139.73 L268.5 139.73 L268.5 140.01 L269 140.01 L269.5 140.04 L269.5 139.66 L270 139.66 L270 138.4 L271 138.4 L271 139.66 L271.5 139.66 L271.5 140.05 L272 140.05 L272.5 140.01 L272.5 139.92 L273 139.92 L273 139.69 L273.5 139.69 L273.5 139.88 L274 139.88 L274 139.34 L275.5 139.34 L275.5 139.91 L276 139.91 L276 140.01 L276.5 140.01 L276.5 139.9 L277 139.9 L277 139.6 L278 139.6 L278 138.69 L279 138.69 L279 139.76 L279.5 139.76 L279.5 140.07 L280 140.07 L280.5 140.1 L281.5 140.1 L281.5 140.01 L282 140.01 L282 139.86 L282.5 139.86 L282.5 139.39 L283.5 139.39 L283.5 139.92 L284 139.92 L284 140.08 L284.5 140.08 L285 140.1 L286.5 140.1 L286.5 139.96 L287 139.96 L287 139.79 L287.5 139.79 L287.5 139.37 L288.5 139.37 L288.5 139.93 L289 139.93 L289 140.09 L291.5 140.1 L291.5 140.04 L292 140.04 L292 139.88 L292.5 139.88 L292.5 139.4 L293.5 139.4 L293.5 139.8 L294 139.8 L294 139.96 L294.5 139.96 L294.5 140.1 L295.5 140.1 L296 140.08 L296 139.94 L296.5 139.94 L296.5 139.68 L297 139.68 L297 139.26 L298 139.26 L298 139.85 L298.5 139.85 L298.5 140.04 L299 140.04 L299 140.1 L302 140.09 L302 140 L302.5 140 L302.5 139.69 L303.5 139.69 L303.5 139.99 L304 139.99 L304 140.08 L304.5 140.08 L305 140.1 L308.5 140.1 L309 140.05 L309 139.91 L309.5 139.91 L309.5 139.48 L310.5 139.48 L310.5 139.92 L311 139.92 L311 140.05 L311.5 140.05 L312 140.1 L318 140.1 L318 140.04 L318.5 140.04 L318.5 139.79 L319 139.79 L319 138.99 L320 138.99 L320 139.72 L320.5 139.72 L320.5 139.97 L321 139.97 L321 139.76 L321.5 139.76 L321.5 139.41 L322 139.41 L322 138.52 L322.5 138.52 L322.5 139.59 L323 139.59 L323.5 139.54 L324 139.54 L324 139.93 L324.5 139.93 L324.5 140.06 L325 140.06 L325 140 L325.5 140 L325.5 139.87 L326 139.87 L326 139.51 L326.5 139.51 L326.5 139.84 L327 139.84 L327.5 139.8 L327.5 139.35 L328 139.35 L328 139.12 L328.5 139.12 L328.5 139.76 L329 139.76 L329 139.98 L329.5 139.98 L329.5 140.1 L335 140.1 L335 140.01 L335.5 140.01 L335.5 139.84 L336 139.84 L336 139.33 L337 139.33 L337 139.82 L337.5 139.82 L337.5 139.99 L338 139.99 L338 140.1 L338.5 140.1 L338.5 139.96 L339 139.96 L339 139.63 L339.5 139.63 L339.5 138.62 L340 138.62 L340 139.46 L340.5 139.46 L340.5 139.65 L341 139.65 L341 139.96 L341.5 139.96 L341.5 140.06 L342 140.06 L342.5 140.1 L346.5 140.1 L347 140.09 L347 139.93 L347.5 139.93 L347.5 139.4 L348.5 139.4 L348.5 139.9 L349 139.9 L349 140.05 L349.5 140.05 L350 140.1 L354 140.1 L354 140 L354.5 140 L354.5 139.75 L355 139.75 L355 139.03 L356 139.03 L356 139.64 L356.5 139.64 L356.5 139.88 L357 139.88 L357 140.1 L366 140.1 L366 139.94 L366.5 139.94 L366.5 139.78 L367 139.78 L367 139.37 L368 139.37 L368 139.85 L368.5 139.85 L368.5 140.01 L369 140.01 L369 140.1 L370.5 140.1 L370.5 139.98 L371 139.98 L371 139.86 L371.5 139.86 L371.5 139.57 L372 139.57 L372 139.92 L372.5 139.92 L372.5 139.66 L373.5 139.66 L373.5 139.96 L374 139.96 L374.5 139.98 L374.5 139.59 L375.5 139.59 L375.5 139.28 L376.5 139.28 L376.5 139.86 L377 139.86 L377 140.05 L377.5 140.05 L377.5 140.1 L383 140.1 L383.5 140.06 L383.5 139.72 L384 139.72 L384 138.6 L385.5 138.6 L385.5 139.74 L386 139.74 L386 140.07 L386.5 140.07 L386.5 139.89 L387 139.89 L387 139.65 L387.5 139.65 L387.5 139.04 L388.5 139.04 L388.5 139.77 L389 139.77 L389 139.62 L389.5 139.62 L389.5 139 L390 139 L390 139.68 L390.5 139.68 L390.5 139.93 L391 139.93 L391 140.1 L394 140.1 L394 139.98 L394.5 139.98 L394.5 139.82 L395 139.82 L395 139.38 L395.5 139.38 L395.5 139.8 L396 139.8 L396 139.96 L396.5 139.96 L396.5 140.1 L411 140.1 L411 140.03 L411.5 140.03 L411.5 139.89 L412 139.89 L412 139.5 L413 139.5 L413 139.87 L413.5 139.87 L413.5 140 L414 140 L414 140.1 L420 140.1 L420 139.94 L420.5 139.94 L420.5 139.67 L421 139.67 L421 138.87 L422 138.87 L422 139.64 L422.5 139.64 L422.5 139.92 L423 139.92 L423 140.1 L425.5 140.1 L425.5 139.89 L426 139.89 L426 139.5 L426.5 139.5 L426.5 138.35 L427.5 138.35 L427.5 139.33 L428 139.33 L428 139.72 L428.5 139.72 L428.5 139.62 L429.5 139.62 L429.5 139.88 L430 139.88 L430 139.28 L431 139.28 L431 139.88 L431.5 139.88 L431.5 140.07 L432 140.07 L432.5 140.1 L439 140.1 L439 139.95 L439.5 139.95 L439.5 139.72 L440 139.72 L440 139.11 L440.5 139.11 L440.5 139.66 L441 139.66 L441 139.89 L441.5 139.89 L441.5 140.1 L443 140.1 L443 140.02 L443.5 140.02 L443.5 139.93 L444 139.93 L444 139.7 L445 139.7 L445 139.98 L445.5 139.98 L445.5 140.07 L446 140.07 L446.5 140.1 L449.5 140.1 L449.5 140.01 L450 140.01 L450 139.75 L450.5 139.75 L450.5 138.94 L452 138.94 L452 139.81 L452.5 139.81 L452.5 140.07 L453 140.07 L453.5 140.1 L453.5 139.99 L454 139.99 L454 139.71 L454.5 139.71 L454.5 138.88 L455.5 138.88 L455.5 139.74 L456 139.74 L456 140.01 L456.5 140.01 L456.5 140.1 L463 140.1 L463 139.91 L463.5 139.91 L463.5 139.67 L464 139.67 L464 139.03 L464.5 139.03 L464.5 139.66 L465 139.66 L465 139.9 L465.5 139.9 L465.5 140.1 L468 140.1 L468 139.8 L468.5 139.8 L468.5 139.5 L469 139.5 L469 138.75 L469.5 138.75 L469.5 139.57 L470 139.57 L470 139.7 L470.5 139.7 L470.5 139.96 L471 139.96 L471.5 139.97 L471.5 139.68 L473 139.69 L473 139.77 L473.5 139.77 L473.5 139.19 L474.5 139.19 L474.5 139.73 L475 139.73 L475 139.94 L475.5 139.94 L475.5 140.1 L484.5 140.1 L485 140.07 L485 139.93 L485.5 139.93 L485.5 139.5 L486.5 139.5 L486.5 139.85 L487 139.85 L487 139.99 L487.5 139.99 L487.5 140.1 L490 140.1 L490 139.88 L490.5 139.88 L490.5 139.55 L491 139.55 L491 138.67 L492 138.67 L492 139.56 L492.5 139.56 L493 139.6 L493 139.89 L493.5 139.89 L493.5 140 L494 140 L494 140.1 L495.5 140.1 L495.5 140.02 L496 140.02 L496 139.93 L496.5 139.93 L496.5 139.69 L497 139.69 L497 139.96 L497.5 139.96 L497.5 140.05 L498 140.05 L498 140.1 L501.5 140.09 L501.5 139.78 L502 139.78 L502 138.71 L503.5 138.71 L503.5 139.65 L504 139.65 L504 139.96 L504.5 139.96 L504.5 140.1 L506 140.1 L506 139.99 L506.5 139.99 L506.5 139.64 L507 139.64 L507 138.52 L508 138.52 L508 138.83 L508.5 138.83 L508.5 139.76 L509 139.76 L509 140.05 L509.5 140.05 L509.5 140.1 L510.7 140.1Z" fill="#b83c42"/>
<path d="M52.5 140.1 L60.5 140.1 L60.5 140.01 L61 140.01 L61 139.56 L61.5 139.56 L61.5 138.1 L63 138.1 L63 139.56 L63.5 139.56 L63.5 140.01 L64 140.01 L64 140.1 L64.5 140.1 L64.5 139.97 L65 139.97 L65 139.29 L65.5 139.29 L65.5 137.1 L67 137.1 L67 139.29 L67.5 139.29 L67.5 139.97 L68 139.97 L68 140.1 L73 140.1 L73 139.56 L73.5 139.56 L73.5 138.66 L74 138.66 L74 136.1 L75 136.1 L75 138.48 L75.5 138.48 L75.5 139.38 L76 139.38 L76 140.1 L83.5 140.1 L83.5 140.01 L84 140.01 L84 139.56 L84.5 139.56 L84.5 138.1 L86 138.1 L86 139.56 L86.5 139.56 L86.5 140.01 L87 140.01 L87 140.1 L88.5 140.1 L88.5 139.97 L89 139.97 L89 139.29 L89.5 139.29 L89.5 137.1 L91 137.1 L91 139.29 L91.5 139.29 L91.5 139.97 L92 139.97 L92 140.1 L93.5 140.1 L93.5 140.01 L94 140.01 L94 139.56 L94.5 139.56 L94.5 138.1 L96 138.1 L96 139.56 L96.5 139.56 L96.5 140.01 L97 140.01 L97 140.1 L105 140.1 L105 139.78 L105.5 139.78 L105.5 138.97 L106 138.97 L106 136.5 L110 136.5 L110 136.41 L110.5 136.41 L110.5 127.5 L112 127.5 L112 135.28 L112.5 135.28 L112.5 138.12 L113 138.12 L113 140.1 L122 140.1 L122 139.94 L122.5 139.94 L122.5 139.16 L123 139.16 L123 136.6 L124.5 136.6 L124.5 139.16 L125 139.16 L125 139.94 L125.5 139.94 L125.5 138.57 L126 138.57 L126 135.51 L126.5 135.51 L126.5 126.5 L128 126.5 L128 135.51 L128.5 135.51 L128.5 138.57 L129 138.57 L129 140.1 L152 140.1 L152 139.99 L152.5 139.99 L152.5 139.42 L153 139.42 L153 137.6 L154.5 137.6 L154.5 139.42 L155 139.42 L155 139.34 L155.5 139.34 L155.5 137.3 L157 137.3 L157 139.34 L157.5 139.34 L157.5 139.97 L158 139.97 L158 140.1 L209 140.1 L209 139.29 L209.5 139.29 L209.5 137.94 L210 137.94 L210 134.1 L211 134.1 L211 137.67 L211.5 137.67 L211.5 139.02 L212 139.02 L212 140.1 L266.5 140.1 L266.5 139.83 L267 139.83 L267 139.38 L267.5 139.38 L267.5 138.1 L268.5 138.1 L268.5 139.29 L269 139.29 L269 139.74 L269.5 139.74 L269.5 140.1 L352 140.1 L352 139.12 L352.5 139.12 L352.5 135.86 L353 135.86 L353 125.6 L354.5 125.6 L354.5 134.55 L355 134.55 L355 137.82 L355.5 137.82 L355.5 140.1 L360.5 140.1 L360.5 139.56 L361 139.56 L361 138.66 L361.5 138.66 L361.5 136.1 L362.5 136.1 L362.5 138.48 L363 138.48 L363 139.38 L363.5 139.38 L363.5 140.1 L434 140.1 L434 139.74 L434.5 139.74 L434.5 137.94 L435 137.94 L435 132.1 L436.5 132.1 L436.5 137.94 L437 137.94 L437 139.74 L437.5 139.74 L437.5 140.1 L453.5 140.1 L453.5 140.01 L454 140.01 L454 139.56 L454.5 139.56 L454.5 138.1 L456 138.1 L456 139.56 L456.5 139.56 L456.5 140.01 L457 140.01 L457 140.1 L478.5 140.1 L478.5 140.01 L479 140.01 L479 139.56 L479.5 139.56 L479.5 138.1 L481 138.1 L481 139.56 L481.5 139.56 L481.5 140.01 L482 140.01 L482 140.1 L510.7 140.1Z" fill="#dc2a30"/>
<rect x="52.5" y="184.75" width="458.2" height="1.3" fill="#d65a64"/>
<path d="M52.5 185.1 L54 185.1 L54.5 185.05 L54.5 184.94 L55 184.94 L55 184.62 L56 184.62 L56 184.19 L57 184.19 L57 184.73 L57.5 184.73 L57.5 184.94 L58 184.94 L58 184.76 L58.5 184.76 L58.5 183.88 L59.5 183.88 L59.5 184.72 L60 184.72 L60 184.59 L60.5 184.59 L60.5 183.96 L61.5 183.96 L61.5 184.52 L62 184.52 L62 184.11 L62.5 184.11 L62.5 184.72 L63 184.72 L63 184.94 L63.5 184.94 L63.5 185.1 L64.5 185.1 L65 185.07 L65 184.78 L65.5 184.78 L65.5 183.81 L67 183.81 L67 184.68 L67.5 184.68 L67.5 184.97 L68 184.97 L68 185.1 L68.5 185.1 L68.5 185.01 L69 185.01 L69 184.81 L69.5 184.81 L69.5 184.22 L70.5 184.22 L70.5 184.86 L71 184.86 L71 185.06 L71.5 185.06 L72 185.1 L72.5 185.1 L72.5 184.98 L73 184.98 L73 184.84 L73.5 184.84 L73.5 184.46 L74 184.46 L74 184.84 L74.5 184.84 L74.5 184.98 L75 184.98 L75 184.73 L75.5 184.73 L75.5 183.88 L77 183.88 L77 184.78 L77.5 184.78 L77.5 184.61 L78 184.61 L78 183.93 L79 183.93 L79 184.75 L79.5 184.75 L79.5 183.86 L80.5 183.86 L80.5 184.67 L81 184.67 L81 184.95 L81.5 184.95 L81.5 185.07 L82 185.07 L82 184.89 L82.5 184.89 L82.5 184.31 L83.5 184.31 L83.5 184.79 L84 184.79 L84 184.86 L84.5 184.86 L84.5 184.1 L85.5 184.1 L85.5 184.66 L86 184.66 L86 183.64 L87 183.64 L87 184.03 L87.5 184.03 L87.5 184.65 L88 184.65 L88 184.89 L88.5 184.89 L88.5 185.1 L97.5 185.1 L97.5 184.96 L98 184.96 L98 184.78 L98.5 184.78 L98.5 184.3 L99 184.3 L99 184.82 L99.5 184.82 L99.5 185 L100 185 L100 185.1 L102.5 185.1 L102.5 184.99 L103 184.99 L103 184.74 L103.5 184.74 L103.5 183.98 L105 183.98 L105 184.84 L106 184.83 L106 184.56 L106.5 184.56 L106.5 183.9 L107.5 183.9 L107.5 184.81 L108 184.81 L108 184.69 L108.5 184.69 L108.5 184.92 L109 184.92 L109 185.01 L109.5 185.01 L109.5 185.1 L110 185.1 L110 184.93 L110.5 184.93 L110.5 184.33 L112 184.33 L112 184.91 L112.5 184.91 L112.5 185.09 L113 185.09 L113.5 185.1 L113.5 184.99 L114 184.99 L114 184.87 L114.5 184.87 L114.5 184.54 L115.5 184.54 L115.5 184.94 L116 184.94 L116 185.07 L116.5 185.07 L117 185.1 L119 185.1 L119 185.03 L119.5 185.03 L119.5 184.77 L120 184.77 L120 183.91 L121.5 183.91 L121.5 183.97 L122 183.97 L122 184.6 L122.5 184.6 L122.5 184.96 L123 184.96 L123 185.07 L123.5 185.07 L124 185.1 L125.5 185.1 L126 185.06 L126 184.97 L126.5 184.97 L126.5 184.69 L127.5 184.69 L127.5 185.01 L128 185.01 L128 184.9 L128.5 184.9 L128.5 184.6 L129 184.6 L129 183.76 L130 183.76 L130 184.56 L130.5 184.56 L130.5 184.86 L131 184.86 L131 185.1 L132 185.1 L132 185.03 L132.5 185.03 L132.5 184.92 L133 184.92 L133 184.58 L134 184.58 L134 184.9 L134.5 184.9 L134.5 185.02 L135 185.02 L135 185.1 L136.5 185.1 L136.5 184.95 L137 184.95 L137 184.79 L137.5 184.79 L137.5 184.41 L138 184.41 L138 184.85 L138.5 184.85 L138.5 185 L139 185 L139 185.1 L140 185.09 L140 184.94 L140.5 184.94 L140.5 184.44 L141.5 184.44 L141.5 184.57 L142 184.57 L142 184.87 L142.5 184.87 L142.5 184.96 L143 184.96 L143 184.77 L143.5 184.77 L143.5 184.28 L144 184.28 L144 184.79 L144.5 184.79 L144.5 184.98 L145 184.98 L145 185.1 L145.5 185.1 L145.5 185.02 L146 185.02 L146 184.92 L146.5 184.92 L146.5 184.66 L147.5 184.66 L147.5 184.2 L148.5 184.2 L148.5 183.93 L149.5 183.93 L149.5 184.61 L150 184.61 L150 184.87 L150.5 184.87 L150.5 185.04 L151 185.04 L151 185.1 L151.5 185.1 L151.5 185.03 L152 185.03 L152 184.68 L152.5 184.68 L152.5 183.55 L153.5 183.55 L153.5 184.54 L154 184.54 L154 184.89 L154.5 184.89 L154.5 185.1 L159 185.1 L159.5 185.09 L159.5 184.98 L160 184.98 L160 184.63 L162 184.62 L162 184.29 L163 184.29 L163 184.13 L164 184.13 L164 184.66 L164.5 184.66 L164.5 183.74 L165.5 183.74 L165.5 184.77 L166 184.77 L166 185.08 L166.5 185.08 L167 185.1 L192.5 185.1 L193 185.05 L193 184.94 L193.5 184.94 L193.5 184.61 L194 184.61 L194 184.89 L194.5 184.89 L194.5 185 L195 185 L195 185.1 L202 185.1 L202 185 L202.5 185 L202.5 184.74 L203 184.74 L203 183.94 L204 183.94 L204 184.83 L204.5 184.83 L204.5 185.09 L215.5 185.1 L215.5 185 L216 185 L216 184.84 L216.5 184.84 L216.5 184.41 L217 184.41 L217 184.81 L217.5 184.81 L217.5 184.96 L218 184.96 L218 185.1 L222 185.09 L222 184.97 L222.5 184.97 L222.5 184.58 L224 184.58 L224 184.96 L224.5 184.96 L224.5 185.08 L225 185.08 L225.5 185.1 L238 185.1 L238 184.9 L238.5 184.9 L238.5 184.71 L239 184.71 L239 184.22 L240 184.22 L240 184.86 L240.5 184.86 L240.5 185.06 L241 185.06 L241.5 185.1 L243.5 185.1 L243.5 184.98 L244 184.98 L244 184.75 L244.5 184.75 L244.5 184.08 L245.5 184.08 L245.5 184.76 L246 184.76 L246 184.99 L246.5 184.99 L246.5 185.1 L259 185.1 L259.5 185.08 L259.5 184.97 L260 184.97 L260 184.61 L261 184.61 L261 184.93 L261.5 184.93 L261.5 185.05 L262 185.05 L262 185.1 L300.5 185.1 L300.5 184.93 L301 184.93 L301 184.72 L301.5 184.72 L301.5 184.17 L302.5 184.17 L302.5 184.74 L303 184.74 L303 184.95 L303.5 184.95 L303.5 185.1 L305.5 185.1 L305.5 185.03 L306 185.03 L306 184.93 L306.5 184.93 L306.5 184.67 L307.5 184.67 L307.5 184.93 L308 184.93 L308 185.03 L308.5 185.03 L308.5 185.1 L386.5 185.1 L386.5 184.98 L387 184.98 L387 184.77 L387.5 184.77 L387.5 184.16 L388.5 184.16 L388.5 184.8 L389 184.8 L389 185.02 L389.5 185.02 L389.5 185.1 L401 185.1 L401 185.03 L401.5 185.03 L401.5 184.93 L402 184.93 L402 184.68 L402.5 184.68 L402.5 184.93 L403 184.93 L403 185.03 L403.5 185.03 L403.5 185.1 L427 185.1 L427 185.02 L427.5 185.02 L427.5 184.93 L428 184.93 L428 184.69 L428.5 184.69 L428.5 184.93 L429 184.93 L429 185.02 L429.5 185.02 L429.5 185.1 L449 185.1 L449 184.94 L449.5 184.94 L449.5 184.77 L450 184.77 L450 184.34 L450.5 184.34 L450.5 184.87 L451 184.87 L451 184.78 L451.5 184.78 L451.5 184.37 L452 184.37 L452 184.85 L452.5 184.85 L452.5 185.01 L453 185.01 L453 185.1 L469 185.1 L469.5 185.08 L469.5 184.94 L470 184.94 L470 184.46 L471 184.46 L471 184.82 L471.5 184.82 L471.5 184.96 L472 184.96 L472 185.1 L475 185.09 L475 184.98 L475.5 184.98 L475.5 184.58 L477 184.58 L477 184.93 L477.5 184.93 L477.5 185.05 L478 185.05 L478 185.1 L510.7 185.1Z" fill="#b83c42"/>
<path d="M52.5 185.1 L54 185.1 L54 184.97 L54.5 184.97 L54.5 184.29 L55 184.29 L55 182.1 L56.5 182.1 L56.5 184.29 L57 184.29 L57 184.97 L57.5 184.97 L57.5 185.1 L64 185.1 L64 185.01 L64.5 185.01 L64.5 184.56 L65 184.56 L65 183.1 L66.5 183.1 L66.5 184.56 L67 184.56 L67 185.01 L67.5 185.01 L67.5 185.1 L72 185.1 L72 184.56 L72.5 184.56 L72.5 183.88 L73 183.88 L73 182.1 L74 182.1 L74 184.02 L74.5 184.02 L74.5 182.1 L75.5 182.1 L75.5 183.88 L76 183.88 L76 184.56 L76.5 184.56 L76.5 185.1 L80.5 185.1 L80.5 184.97 L81 184.97 L81 184.29 L81.5 184.29 L81.5 182.1 L83 182.1 L83 184.29 L83.5 184.29 L83.5 184.97 L84 184.97 L84 185.1 L108.5 185.1 L108.5 185.01 L109 185.01 L109 184.56 L109.5 184.56 L109.5 183.1 L111 183.1 L111 184.56 L111.5 184.56 L111.5 185.01 L112 185.01 L112 185.1 L121.5 185.1 L121.5 185.01 L122 185.01 L122 184.56 L122.5 184.56 L122.5 183.1 L124 183.1 L124 184.56 L124.5 184.56 L124.5 185.01 L125 185.01 L125 185.1 L125.5 185.1 L125.5 184.46 L126 184.46 L126 183.18 L126.5 183.18 L126.5 179.4 L128 179.4 L128 183.18 L128.5 183.18 L128.5 184.46 L129 184.46 L129 185.1 L153 185.1 L153 183.21 L153.5 183.21 L153.5 180.06 L154 180.06 L154 171.1 L155.5 171.1 L155.5 181.32 L156 181.32 L156 184.47 L156.5 184.47 L156.5 184.56 L157 184.56 L157 183.1 L158.5 183.1 L158.5 184.56 L159 184.56 L159 185.01 L159.5 185.01 L159.5 185.1 L203 185.1 L203 184.92 L203.5 184.92 L203.5 184.47 L204 184.47 L204 183.1 L205.5 183.1 L205.5 184.65 L206 184.65 L206 185.1 L208 185.1 L208 184.47 L208.5 184.47 L208.5 183.68 L209 183.68 L209 181.6 L210 181.6 L210 183.84 L210.5 183.84 L210.5 184.63 L211 184.63 L211 185.1 L248.5 185.1 L249 185.06 L249 184.83 L249.5 184.83 L249.5 184.1 L251 184.1 L251 184.83 L251.5 184.83 L251.5 185.06 L252 185.06 L252.5 185.1 L305.5 185.1 L306 185.06 L306 184.83 L306.5 184.83 L306.5 184.1 L308 184.1 L308 184.83 L308.5 184.83 L308.5 185.06 L309 185.06 L309.5 185.1 L351.5 185.1 L351.5 184.02 L352 184.02 L352 182.67 L352.5 182.67 L352.5 179.1 L354 179.1 L354 182.67 L354.5 182.67 L354.5 184.02 L355 184.02 L355 185.1 L510.7 185.1Z" fill="#dc2a30"/>
<rect x="52.5" y="202.35" width="458.2" height="1.3" fill="#d65a64"/>
<path d="M52.5 202.7 L53 202.7 L53 202.47 L53.5 202.47 L53.5 202.23 L54 202.23 L54 201.63 L54.5 201.63 L54.5 202.25 L55 202.25 L55 201.95 L55.5 201.95 L55.5 202.44 L56 202.44 L56 202.28 L56.5 202.28 L56.5 201.35 L57.5 201.35 L57.5 202.29 L58 202.29 L58 202.58 L58.5 202.58 L58.5 202.36 L59 202.36 L59 201.75 L59.5 201.75 L59.5 201.21 L60.5 201.21 L60.5 202.18 L61 202.18 L61 202.52 L61.5 202.52 L62 202.49 L62 202.14 L63 202.14 L63 202.52 L63.5 202.52 L63.5 202.65 L64 202.65 L64 202.7 L65.5 202.7 L66 202.67 L66 202.49 L66.5 202.49 L66.5 201.91 L68 201.91 L68 202.47 L68.5 202.47 L68.5 202.65 L69 202.65 L69 202.7 L70.5 202.7 L70.5 202.57 L71 202.57 L71 202.36 L71.5 202.36 L71.5 201.74 L72.5 201.74 L72.5 202.38 L73 202.38 L73 202 L73.5 202 L73.5 200.99 L74.5 200.99 L74.5 201.99 L75 201.99 L75 202.38 L75.5 202.38 L75.5 202.7 L78.5 202.7 L78.5 202.61 L79 202.61 L79 202.45 L79.5 202.45 L79.5 202.01 L80.5 202.01 L80.5 201.95 L81.5 201.95 L81.5 202.4 L82 202.4 L82 201.81 L83 201.81 L83 202.43 L83.5 202.43 L83.5 202.63 L84 202.63 L84 202.7 L89 202.7 L89 202.52 L89.5 202.52 L89.5 202.22 L90 202.22 L90 201.37 L91 201.37 L91 202.24 L91.5 202.24 L91.5 202.54 L92 202.54 L92 202.7 L94 202.7 L94 202.61 L94.5 202.61 L94.5 202.49 L95 202.49 L95 202.15 L96 202.15 L96 202.25 L96.5 202.25 L96.5 201.25 L97.5 201.25 L97.5 202.08 L98 202.08 L98 202.4 L98.5 202.4 L98.5 202.7 L101 202.7 L101 202.62 L101.5 202.62 L101.5 202.31 L102 202.31 L102 201.34 L103 201.34 L103 202.25 L103.5 202.25 L103.5 202.55 L104 202.55 L104 202.7 L104.5 202.7 L104.5 202.61 L105 202.61 L105 202.48 L105.5 202.48 L105.5 202.09 L106.5 202.09 L106.5 202.5 L107 202.5 L107 202.63 L107.5 202.63 L107.5 202.51 L108 202.51 L108 202 L109 202 L109 202.51 L109.5 202.51 L109.5 202.67 L110 202.67 L110.5 202.7 L114 202.7 L114 202.64 L114.5 202.64 L114.5 202.47 L115 202.47 L115 201.94 L116 201.94 L116 202.4 L116.5 202.4 L116.5 202.57 L117.5 202.56 L117.5 202.29 L118.5 202.29 L118.5 202.56 L119 202.56 L119 202.65 L119.5 202.65 L120 202.62 L120 202.4 L120.5 202.4 L120.5 201.74 L121.5 201.74 L121.5 202.45 L122 202.45 L122 202.67 L122.5 202.67 L123 202.7 L124.5 202.7 L124.5 202.63 L125 202.63 L125 202.47 L125.5 202.47 L125.5 201.99 L126.5 201.99 L126.5 202.44 L127 202.44 L127 202.6 L127.5 202.6 L127.5 202.7 L130 202.7 L130.5 202.68 L130.5 202.59 L131 202.59 L131 202.29 L132.5 202.29 L132.5 202.59 L133 202.59 L133.5 202.55 L133.5 202.19 L134.5 202.19 L134.5 202.54 L135 202.54 L135.5 202.56 L135.5 202.32 L136 202.32 L136 201.6 L137 201.6 L137 202.39 L137.5 202.39 L137.5 201.81 L138.5 201.81 L138.5 202.33 L139 202.33 L139 202.53 L139.5 202.53 L139.5 202.7 L147 202.7 L147.5 202.69 L147.5 202.44 L148 202.44 L148 201.61 L149 201.61 L149 202.34 L149.5 202.34 L149.5 202.43 L150 202.43 L150 202.03 L150.5 202.03 L150.5 202.48 L151 202.48 L151 202.63 L151.5 202.63 L151.5 202.7 L154.5 202.7 L154.5 202.56 L155 202.56 L155 202.39 L155.5 202.39 L155.5 201.95 L156.5 201.95 L156.5 201.25 L157.5 201.25 L157.5 202.17 L158 202.17 L158 202.5 L158.5 202.5 L158.5 202.7 L168 202.7 L168 202.61 L168.5 202.61 L168.5 202.51 L169 202.51 L169 202.27 L170 202.27 L170 202.6 L170.5 202.6 L170.5 202.7 L175 202.7 L175 202.52 L175.5 202.52 L175.5 202.24 L176 202.24 L176 201.45 L177 201.45 L177 202.16 L177.5 202.16 L177.5 202.44 L178 202.44 L178 202.7 L209 202.7 L209 202.64 L209.5 202.64 L209.5 202.49 L210 202.49 L210 202.04 L211 202.04 L211 202.42 L211.5 202.42 L211.5 202.57 L212 202.57 L212 202.7 L223 202.7 L223 202.6 L223.5 202.6 L223.5 202.46 L224 202.46 L224 202.07 L224.5 202.07 L224.5 202.44 L225 202.44 L225 202.58 L225.5 202.58 L225.5 202.7 L240.5 202.7 L241 202.66 L241 202.4 L241.5 202.4 L241.5 201.53 L243 201.53 L243 202.33 L243.5 202.33 L243.5 202.6 L244 202.6 L244 202.7 L273 202.7 L273 202.43 L273.5 202.43 L273.5 201.51 L274.5 201.51 L274.5 202.37 L275 202.37 L275 202.64 L275.5 202.64 L275.5 202.7 L283.5 202.7 L283.5 202.55 L284 202.55 L284 202.27 L284.5 202.27 L284.5 201.45 L285.5 201.45 L285.5 202.32 L286 202.32 L286 202.6 L286.5 202.6 L286.5 202.7 L326.5 202.7 L326.5 202.64 L327 202.64 L327 202.53 L327.5 202.53 L327.5 202.22 L329 202.22 L329 202.59 L329.5 202.59 L329.5 202.7 L342.5 202.7 L342.5 202.46 L343 202.46 L343 202.17 L343.5 202.17 L343.5 201.41 L344.5 201.41 L344.5 202.26 L345 202.26 L345 202.55 L345.5 202.55 L345.5 202.7 L347.5 202.7 L348 202.67 L348 202.56 L348.5 202.56 L348.5 202.2 L349.5 202.2 L349.5 202.48 L350 202.48 L350 202.59 L350.5 202.59 L350.5 202.7 L381 202.7 L381.5 202.68 L381.5 202.43 L382 202.43 L382 201.62 L383 201.62 L383 202.37 L383.5 202.37 L383.5 202.61 L384 202.61 L384 202.7 L413 202.7 L413.5 202.68 L413.5 202.54 L414 202.54 L414 202.1 L415 202.1 L415 202.46 L415.5 202.46 L415.5 202.59 L416 202.59 L416 202.7 L447 202.7 L447 202.5 L447.5 202.5 L447.5 202.28 L448 202.28 L448 201.7 L448.5 201.7 L448.5 202.35 L449 202.35 L449 202.57 L449.5 202.57 L449.5 202.7 L451 202.7 L451 202.56 L451.5 202.56 L451.5 202.39 L452 202.39 L452 201.94 L452.5 201.94 L452.5 202.38 L453 202.38 L453 202.55 L453.5 202.55 L453.5 202.7 L465.5 202.7 L465.5 202.6 L466 202.6 L466 202.34 L466.5 202.34 L466.5 201.53 L467.5 201.53 L467.5 202.2 L468 202.2 L468 202.46 L468.5 202.46 L468.5 202.7 L474 202.7 L474 202.61 L474.5 202.61 L474.5 202.49 L475 202.49 L475 202.18 L475.5 202.18 L475.5 202.51 L476 202.51 L476.5 202.49 L476.5 202.22 L477 202.22 L477 201.51 L477.5 201.51 L477.5 202.17 L478 202.17 L478 201.42 L478.5 201.42 L478.5 202.18 L479 202.18 L479 202.46 L479.5 202.46 L479.5 202.7 L495.5 202.7 L495.5 202.64 L496 202.64 L496 202.54 L496.5 202.54 L496.5 202.3 L497 202.3 L497 202.55 L497.5 202.55 L497.5 202.64 L498 202.64 L498 202.7 L505 202.7 L505.5 202.66 L505.5 202.4 L506 202.4 L506 201.58 L507 201.58 L507 202.28 L507.5 202.28 L507.5 202.53 L508 202.53 L508 202.7 L510.7 202.7Z" fill="#b83c42"/>
<path d="M52.5 202.7 L64 202.7 L64 202.61 L64.5 202.61 L64.5 202.16 L65 202.16 L65 200.7 L66.5 200.7 L66.5 202.16 L67 202.16 L67 202.61 L67.5 202.61 L67.5 202.7 L70.5 202.7 L70.5 202.56 L71 202.56 L71 201.89 L71.5 201.89 L71.5 199.7 L73 199.7 L73 201.35 L73.5 201.35 L73.5 197.7 L75 197.7 L75 201.35 L75.5 201.35 L75.5 202.47 L76 202.47 L76 202.7 L80.5 202.7 L80.5 202.56 L81 202.56 L81 201.89 L81.5 201.89 L81.5 199.7 L83 199.7 L83 201.89 L83.5 201.89 L83.5 202.56 L84 202.56 L84 202.7 L103.5 202.7 L103.5 202.61 L104 202.61 L104 202.16 L104.5 202.16 L104.5 200.7 L106 200.7 L106 202.16 L106.5 202.16 L106.5 202.61 L107 202.61 L107 202.7 L109 202.7 L109 202.47 L109.5 202.47 L109.5 201.35 L110 201.35 L110 197.7 L111.5 197.7 L111.5 201.35 L112 201.35 L112 202.47 L112.5 202.47 L112.5 202.7 L121.5 202.7 L121.5 202.52 L122 202.52 L122 201.62 L122.5 201.62 L122.5 198.7 L124 198.7 L124 201.62 L124.5 201.62 L124.5 202.52 L125 202.52 L125 202.7 L125.5 202.7 L125.5 201.97 L126 201.97 L126 200.51 L126.5 200.51 L126.5 196.2 L128 196.2 L128 200.51 L128.5 200.51 L128.5 201.97 L129 201.97 L129 202.7 L153 202.7 L153 200.95 L153.5 200.95 L153.5 198.02 L154 198.02 L154 189.7 L155.5 189.7 L155.5 199.19 L156 199.19 L156 202.11 L156.5 202.11 L156.5 201.89 L157 201.89 L157 199.7 L158.5 199.7 L158.5 201.89 L159 201.89 L159 202.56 L159.5 202.56 L159.5 202.7 L174.5 202.7 L174.5 202.63 L175 202.63 L175 202.29 L175.5 202.29 L175.5 201.2 L177 201.2 L177 202.29 L177.5 202.29 L177.5 202.63 L178 202.63 L178 202.7 L181.5 202.7 L181.5 202.63 L182 202.63 L182 202.29 L182.5 202.29 L182.5 201.2 L184 201.2 L184 202.29 L184.5 202.29 L184.5 202.63 L185 202.63 L185 202.7 L208 202.7 L208 202.16 L208.5 202.16 L208.5 201.48 L209 201.48 L209 199.7 L210 199.7 L210 201.62 L210.5 201.62 L210.5 202.3 L211 202.3 L211 202.7 L215.5 202.7 L215.5 202.61 L216 202.61 L216 202.16 L216.5 202.16 L216.5 200.7 L218 200.7 L218 202.16 L218.5 202.16 L218.5 202.61 L219 202.61 L219 202.7 L351.5 202.7 L351.5 201.19 L352 201.19 L352 199.3 L352.5 199.3 L352.5 194.3 L354 194.3 L354 199.3 L354.5 199.3 L354.5 201.19 L355 201.19 L355 202.7 L433.5 202.7 L433.5 202.61 L434 202.61 L434 202.16 L434.5 202.16 L434.5 200.7 L436 200.7 L436 202.16 L436.5 202.16 L436.5 202.61 L437 202.61 L437 202.7 L510.7 202.7Z" fill="#dc2a30"/>
<rect x="52.5" y="219.55" width="458.2" height="1.3" fill="#d65a64"/>
<path d="M52.5 219.9 L56 219.9 L56 219.84 L56.5 219.84 L56.5 219.54 L57 219.54 L57 218.58 L58.5 218.58 L58.5 219.02 L59 219.02 L59 217.86 L60 217.86 L60 219.36 L60.5 219.36 L60.5 219.82 L61.5 219.82 L61.5 219.72 L62 219.72 L62 219.43 L62.5 219.43 L62.5 219.73 L63 219.73 L63 219.84 L63.5 219.84 L63.5 219.71 L64 219.71 L64 219.23 L64.5 219.23 L64.5 217.77 L65.5 217.77 L65.5 219.01 L66 219.01 L66 219.49 L66.5 219.49 L66.5 219.67 L67 219.67 L67 219.31 L68 219.31 L68 219.74 L68.5 219.74 L68.5 219.87 L69 219.87 L69 219.79 L69.5 219.79 L69.5 219.54 L70 219.54 L70 218.8 L71.5 218.8 L71.5 219.65 L72 219.65 L72 219.89 L74 219.9 L74 219.67 L74.5 219.67 L74.5 219.4 L75 219.4 L75 218.72 L75.5 218.72 L75.5 219.46 L76 219.46 L76 218.99 L76.5 218.99 L76.5 217.81 L77 217.81 L77 219.08 L77.5 219.08 L77.5 219.55 L78 219.55 L78 219.9 L82.5 219.9 L82.5 219.74 L83 219.74 L83 219.35 L83.5 219.35 L83.5 218.17 L84 218.17 L84 218.58 L85 218.58 L85 219.33 L85.5 219.33 L85.5 219.63 L86 219.63 L86.5 219.59 L86.5 218.81 L87 218.81 L87 218.17 L88 218.17 L88 219.25 L88.5 219.25 L88.5 219.64 L89 219.64 L89 219.9 L92 219.9 L92.5 219.87 L92.5 219.68 L93 219.68 L93 219.06 L94 219.06 L94.5 219.04 L94.5 219.58 L95 219.58 L95 219.78 L95.5 219.78 L95.5 219.87 L96 219.87 L96 219.47 L96.5 219.47 L96.5 218.11 L98 218.11 L98 217.73 L98.5 217.73 L99 217.7 L99 217.56 L100 217.56 L100 219.01 L100.5 219.01 L100.5 218.18 L101.5 218.18 L101.5 219.49 L102 219.49 L102 218.94 L103 218.94 L103 219.25 L103.5 219.25 L103.5 218.24 L104 218.24 L104 219.3 L104.5 219.3 L104.5 219.66 L105 219.66 L105 219.39 L105.5 219.39 L105.5 218.73 L106.5 218.73 L106.5 219.62 L107 219.62 L107 219.67 L107.5 219.67 L107.5 219.07 L108.5 219.07 L108.5 219.55 L109 219.55 L109 219.74 L109.5 219.74 L109.5 219.9 L111 219.9 L111 219.78 L111.5 219.78 L111.5 219.61 L112 219.61 L112 219.11 L112.5 219.11 L112.5 218.97 L113 218.97 L113 217.79 L114 217.79 L114 219.39 L114.5 219.39 L114.5 219.86 L115 219.86 L115.5 219.9 L118.5 219.9 L118.5 219.85 L119 219.85 L119 219.73 L119.5 219.73 L119.5 219.35 L120 219.35 L120 218.44 L121 218.44 L121 219.32 L121.5 219.32 L121.5 219.53 L122 219.53 L122 218.7 L123 218.7 L123 219.39 L123.5 219.39 L123.5 217.89 L124.5 217.89 L124.5 219.05 L125 219.05 L125 219.5 L125.5 219.5 L125.5 219.9 L127 219.9 L127 219.73 L127.5 219.73 L127.5 219.2 L128 219.2 L128 217.54 L129.5 217.54 L129.5 219.23 L130 219.23 L130 219.77 L130.5 219.77 L130.5 219.56 L131 219.56 L131 218.88 L132 218.88 L132 217.78 L132.5 217.78 L132.5 217.52 L133.5 217.52 L133.5 217.86 L134.5 217.86 L134.5 218.99 L135 218.99 L135 218.53 L135.5 218.53 L135.5 219.2 L136 219.2 L136 219.53 L136.5 219.53 L136.5 218.78 L137.5 218.78 L137.5 219.43 L138 219.43 L138 219.69 L138.5 219.69 L139 219.66 L139 219.24 L140 219.24 L140 219.73 L140.5 219.73 L140.5 219.88 L141.5 219.89 L141.5 219.8 L142 219.8 L142 219.5 L143 219.5 L143.5 219.45 L144 219.45 L144 219.26 L145 219.26 L145 219.34 L145.5 219.34 L145.5 219.65 L146 219.65 L146 219.75 L146.5 219.75 L146.5 219.51 L147 219.51 L147 218.83 L148 218.83 L148 219.43 L148.5 219.43 L148.5 219.67 L149 219.67 L149 219.9 L151 219.9 L151.5 219.86 L151.5 219.76 L152 219.76 L152 219.46 L153 219.46 L153 219.71 L153.5 219.71 L153.5 219.81 L154 219.81 L154 219.9 L154.5 219.9 L154.5 219.68 L155 219.68 L155 219.45 L155.5 219.45 L155.5 218.87 L156.5 218.87 L156.5 219.35 L157.5 219.35 L157.5 219.22 L158 219.22 L158 218.09 L159 218.09 L159 219.47 L159.5 219.47 L159.5 219.68 L160 219.68 L160 219.26 L161 219.26 L161 219.74 L161.5 219.74 L161.5 219.29 L162.5 219.29 L162.5 219.5 L163.5 219.5 L163.5 219.79 L164 219.79 L164 219.88 L164.5 219.88 L165 219.9 L173 219.9 L173 219.81 L173.5 219.81 L173.5 219.68 L174 219.68 L174 219.31 L174.5 219.31 L174.5 219.66 L175 219.66 L175 219.8 L175.5 219.8 L175.5 219.9 L183 219.9 L183 219.77 L183.5 219.77 L183.5 219.56 L184 219.56 L184 218.92 L185 218.92 L185 219.56 L185.5 219.56 L185.5 219.78 L186 219.78 L186.5 219.81 L186.5 219.46 L187 219.46 L187 218.37 L188 218.37 L188 219.26 L188.5 219.26 L188.5 219.61 L189 219.61 L189 219.9 L190.5 219.9 L190.5 219.72 L191 219.72 L191 219.42 L191.5 219.42 L191.5 218.54 L192.5 218.54 L192.5 219.39 L193 219.39 L193 219.7 L193.5 219.7 L193.5 219.9 L200.5 219.9 L200.5 219.78 L201 219.78 L201 219.5 L201.5 219.5 L201.5 218.63 L202.5 218.63 L202.5 219.37 L203 219.37 L203 219.65 L203.5 219.65 L203.5 219.9 L207 219.9 L207 219.79 L207.5 219.79 L207.5 219.58 L208 219.58 L208 218.95 L208.5 218.95 L208.5 219.53 L209 219.53 L209 219.74 L209.5 219.74 L209.5 219.9 L210.5 219.9 L211 219.85 L211 219.53 L211.5 219.53 L211.5 218.49 L213 218.49 L213 219.56 L213.5 219.56 L213.5 219.88 L214 219.88 L214.5 219.9 L218 219.9 L218 219.79 L218.5 219.79 L218.5 219.51 L219 219.51 L219 218.66 L220 218.66 L220 219.46 L220.5 219.46 L220.5 219.74 L221 219.74 L221 219.9 L227 219.9 L227 219.81 L227.5 219.81 L227.5 219.7 L228 219.7 L228 219.39 L228.5 219.39 L228.5 219.71 L229 219.71 L229 219.82 L229.5 219.82 L229.5 219.9 L234 219.9 L234 219.85 L234.5 219.85 L234.5 219.64 L235 219.64 L235 218.98 L236 218.98 L236 219.68 L236.5 219.68 L236.5 219.89 L237 219.89 L237.5 219.9 L238.5 219.9 L238.5 219.57 L239 219.57 L239 219.23 L239.5 219.23 L239.5 218.38 L240.5 218.38 L240.5 219.46 L241 219.46 L241 219.81 L241.5 219.81 L241.5 219.9 L242 219.9 L242.5 219.86 L242.5 219.68 L243 219.68 L243 219.09 L244 219.09 L244 219.54 L244.5 219.54 L244.5 219.73 L245 219.73 L245 219.9 L245.5 219.9 L246 219.88 L246 219.79 L246.5 219.79 L246.5 219.5 L247 219.5 L247.5 219.45 L248 219.45 L248 219.78 L248.5 219.78 L248.5 219.88 L249 219.88 L249.5 219.9 L249.5 219.76 L250 219.76 L250 219.41 L250.5 219.41 L250.5 218.32 L251.5 218.32 L251.5 219.21 L252 219.21 L252 219.55 L252.5 219.55 L252.5 218.85 L253.5 218.85 L253.5 218.96 L254 218.96 L254 219.6 L254.5 219.6 L254.5 219.81 L255 219.81 L255 219.9 L261.5 219.9 L262 219.88 L262 219.74 L262.5 219.74 L262.5 219.28 L263.5 219.28 L263.5 219.43 L264 219.43 L264 218.71 L264.5 218.71 L264.5 219.49 L265 219.49 L265 219.72 L265.5 219.72 L265.5 219.46 L266 219.46 L266 218.73 L267 218.73 L267 219.45 L267.5 219.45 L267.5 219.72 L268 219.72 L268 219.9 L271 219.9 L271 219.84 L271.5 219.84 L271.5 219.59 L272 219.59 L272 218.66 L273 218.66 L273 219.48 L273.5 219.48 L273.5 219.76 L274 219.76 L274 219.9 L275 219.9 L275 219.73 L275.5 219.73 L275.5 219.51 L276 219.51 L276 218.85 L276.5 218.85 L276.5 218.94 L277 218.94 L277 219.52 L277.5 219.52 L277.5 219.73 L278 219.73 L278 219.9 L313 219.9 L313.5 219.87 L313.5 219.61 L314 219.61 L314 218.78 L315.5 218.78 L315.5 219.55 L316 219.55 L316 219.8 L316.5 219.8 L316.5 219.9 L317 219.9 L317 219.77 L317.5 219.77 L317.5 219.59 L318 219.59 L318 219.1 L318.5 219.1 L318.5 218.76 L319.5 218.76 L319.5 219.46 L320 219.46 L320 219.72 L320.5 219.72 L320.5 219.9 L321.5 219.9 L321.5 219.74 L322 219.74 L322 219.56 L322.5 219.56 L322.5 219.08 L323 219.08 L323 219.59 L323.5 219.59 L323.5 219.77 L324 219.77 L324 219.9 L326 219.9 L326 219.79 L326.5 219.79 L326.5 219.65 L327 219.65 L327 219.28 L328 219.28 L328 219.68 L328.5 219.68 L328.5 219.82 L329 219.82 L329.5 219.78 L329.5 219.48 L331 219.48 L331 219.77 L331.5 219.77 L331.5 219.87 L332 219.87 L332.5 219.9 L334 219.9 L334 219.77 L334.5 219.77 L334.5 219.61 L335 219.61 L335 219.19 L336 219.19 L336 219.72 L336.5 219.72 L336.5 219.88 L337 219.88 L337.5 219.9 L338.5 219.9 L338.5 219.84 L339 219.84 L339 219.72 L339.5 219.72 L339.5 219.35 L340 219.35 L340 219.66 L340.5 219.66 L340.5 219.79 L341 219.79 L341 219.9 L345 219.9 L345 219.75 L345.5 219.75 L345.5 219.58 L346 219.58 L346 219.14 L346.5 219.14 L346.5 219.6 L347 219.6 L347 219.78 L347.5 219.78 L347.5 219.9 L356 219.9 L356 219.8 L356.5 219.8 L356.5 219.7 L357 219.7 L357 219.45 L357.5 219.45 L357.5 219.74 L358 219.74 L358 219.84 L358.5 219.84 L358.5 219.9 L359 219.9 L359 219.78 L359.5 219.78 L359.5 219.58 L360 219.58 L360 219.01 L361 219.01 L361 219.5 L362 219.5 L362 219.79 L362.5 219.79 L362.5 219.88 L363 219.88 L363.5 219.87 L363.5 219.78 L364 219.78 L364 219.5 L365 219.5 L365 219.79 L365.5 219.79 L365.5 219.88 L366 219.88 L366.5 219.9 L367 219.9 L367 219.67 L367.5 219.67 L367.5 219.43 L368 219.43 L368 218.82 L368.5 218.82 L368.5 219.44 L369 219.44 L369 219.69 L369.5 219.69 L369.5 219.9 L375.5 219.9 L375.5 219.8 L376 219.8 L376 219.68 L376.5 219.68 L376.5 219.36 L377.5 219.36 L377.5 219.73 L378 219.73 L378 219.85 L378.5 219.85 L379 219.9 L390.5 219.9 L390.5 219.81 L391 219.81 L391 219.71 L391.5 219.71 L391.5 219.46 L392.5 219.46 L392.5 219.74 L393 219.74 L393 219.84 L393.5 219.84 L393.5 219.9 L394.5 219.9 L395 219.86 L395 219.68 L395.5 219.68 L395.5 219.09 L396.5 219.09 L396.5 219.61 L397 219.61 L397 219.79 L397.5 219.79 L397.5 219.9 L404.5 219.9 L404.5 219.75 L405 219.75 L405 219.23 L406 219.23 L406 219.69 L406.5 219.69 L406.5 219.79 L407 219.79 L407 219.5 L408 219.5 L408 219.8 L408.5 219.8 L408.5 219.89 L409 219.89 L409.5 219.9 L419 219.9 L419 219.75 L419.5 219.75 L419.5 219.24 L421 219.24 L421 219.71 L421.5 219.71 L421.5 219.79 L422 219.79 L422 219.54 L422.5 219.54 L422.5 218.78 L424 218.78 L424 219.62 L424.5 219.62 L424.5 219.73 L425 219.73 L425 219.34 L426 219.34 L426 219.73 L426.5 219.73 L426.5 219.85 L427 219.85 L427.5 219.9 L457.5 219.9 L457.5 219.8 L458 219.8 L458 219.67 L458.5 219.67 L458.5 219.31 L459.5 219.31 L459.5 218.59 L461 218.59 L461 219.52 L461.5 219.52 L461.5 219.81 L462 219.81 L462 219.9 L463 219.9 L463 219.82 L463.5 219.82 L463.5 219.64 L464 219.64 L464 219.11 L465 219.11 L465 219.7 L465.5 219.7 L465.5 219.87 L466 219.87 L466.5 219.9 L467.5 219.9 L467.5 219.75 L468 219.75 L468 219.48 L468.5 219.48 L468.5 218.73 L469.5 218.73 L469.5 219.59 L470 219.59 L470 219.85 L470.5 219.85 L470.5 219.9 L474.5 219.9 L474.5 219.78 L475 219.78 L475 219.65 L475.5 219.65 L475.5 219.32 L476 219.32 L476 219.68 L476.5 219.68 L476.5 219.81 L477 219.81 L477 219.9 L487.5 219.9 L487.5 219.83 L488 219.83 L488 219.67 L488.5 219.67 L488.5 219.17 L489.5 219.17 L489.5 219.58 L490 219.58 L490 219.75 L490.5 219.75 L490.5 219.9 L493 219.9 L493 219.8 L493.5 219.8 L493.5 219.46 L494 219.46 L494 218.37 L495 218.37 L495 218.44 L495.5 218.44 L495.5 219.37 L496 219.37 L496 219.46 L496.5 219.46 L496.5 219.7 L497 219.7 L497 219.8 L497.5 219.8 L497.5 219.9 L499 219.9 L499 219.81 L499.5 219.81 L499.5 219.65 L500 219.65 L500 219.15 L501 219.15 L501 219.64 L501.5 219.64 L501.5 219.77 L502 219.77 L502 219.64 L502.5 219.64 L502.5 219.08 L503.5 219.08 L503.5 219.6 L504 219.6 L504 219.75 L504.5 219.75 L504.5 219.5 L505 219.5 L505 219.74 L505.5 219.74 L505.5 219.83 L506 219.83 L506.5 219.81 L506.5 219.68 L507 219.68 L507 219.33 L508 219.33 L508 219.69 L508.5 219.69 L509 219.66 L509 219.09 L510 219.09 L510 219.54 L510.5 219.54 L510.7 219.9Z" fill="#b83c42"/>
<path d="M52.5 219.9 L53 219.9 L53 219.72 L53.5 219.72 L53.5 219.27 L54 219.27 L54 217.9 L55 217.9 L55 219 L55.5 219 L55.5 219.45 L56 219.45 L56 219.9 L58.5 219.9 L58.5 219.81 L59 219.81 L59 219.36 L59.5 219.36 L59.5 217.9 L61 217.9 L61 219.36 L61.5 219.36 L61.5 219.81 L62 219.81 L62 219.9 L64 219.9 L64 219.72 L64.5 219.72 L64.5 218.82 L65 218.82 L65 215.9 L66.5 215.9 L66.5 218.82 L67 218.82 L67 219.72 L67.5 219.72 L67.5 219.9 L72 219.9 L72 218.82 L72.5 218.82 L72.5 217.47 L73 217.47 L73 213.9 L74 213.9 L74 217.74 L74.5 217.74 L74.5 219.09 L75 219.09 L75 219.9 L80.5 219.9 L80.5 219.76 L81 219.76 L81 219.09 L81.5 219.09 L81.5 216.9 L83 216.9 L83 219.09 L83.5 219.09 L83.5 219.76 L84 219.76 L84 219.9 L98.5 219.9 L98.5 219.81 L99 219.81 L99 219.36 L99.5 219.36 L99.5 217.9 L101 217.9 L101 219.36 L101.5 219.36 L101.5 219.81 L102 219.81 L102 219.9 L106 219.9 L106 219.81 L106.5 219.81 L106.5 219.36 L107 219.36 L107 217.9 L108.5 217.9 L108.5 219.36 L109 219.36 L109 219.81 L109.5 219.81 L109.5 219.14 L110 219.14 L110 217.88 L110.5 217.88 L110.5 214.3 L111.5 214.3 L111.5 217.63 L112 217.63 L112 218.89 L112.5 218.89 L112.5 219.9 L121.5 219.9 L121.5 219.72 L122 219.72 L122 218.82 L122.5 218.82 L122.5 215.9 L124 215.9 L124 218.82 L124.5 218.82 L124.5 219.72 L125 219.72 L125 219.9 L125.5 219.9 L125.5 218.91 L126 218.91 L126 216.93 L126.5 216.93 L126.5 211.1 L128 211.1 L128 216.93 L128.5 216.93 L128.5 218.91 L129 218.91 L129 219.9 L153 219.9 L153 218.19 L153.5 218.19 L153.5 215.33 L154 215.33 L154 207.2 L155.5 207.2 L155.5 216.47 L156 216.47 L156 219.33 L156.5 219.33 L156.5 218.82 L157 218.82 L157 215.9 L158.5 215.9 L158.5 218.82 L159 218.82 L159 219.72 L159.5 219.72 L159.5 219.9 L174.5 219.9 L174.5 219.81 L175 219.81 L175 219.36 L175.5 219.36 L175.5 217.9 L177 217.9 L177 219.36 L177.5 219.36 L177.5 219.81 L178 219.81 L178 219.9 L178.5 219.9 L178.5 219.81 L179 219.81 L179 219.36 L179.5 219.36 L179.5 217.9 L181 217.9 L181 219.36 L181.5 219.36 L181.5 219.81 L182 219.81 L182 219.36 L182.5 219.36 L182.5 217.9 L184 217.9 L184 219.36 L184.5 219.36 L184.5 219.81 L185 219.81 L185 219.9 L203.5 219.9 L203.5 219.81 L204 219.81 L204 219.36 L204.5 219.36 L204.5 217.9 L206 217.9 L206 219.36 L206.5 219.36 L206.5 219.81 L207 219.81 L207 219.9 L207.5 219.9 L207.5 219.72 L208 219.72 L208 218.82 L208.5 218.82 L208.5 215.9 L210 215.9 L210 218.82 L210.5 218.82 L210.5 219.72 L211 219.72 L211 219.9 L215.5 219.9 L215.5 219.83 L216 219.83 L216 219.49 L216.5 219.49 L216.5 218.4 L218 218.4 L218 219.49 L218.5 219.49 L218.5 219.83 L219 219.83 L219 219.9 L297.5 219.9 L297.5 219.81 L298 219.81 L298 219.36 L298.5 219.36 L298.5 217.9 L300 217.9 L300 219.36 L300.5 219.36 L300.5 219.81 L301 219.81 L301 219.9 L351.5 219.9 L351.5 218.28 L352 218.28 L352 216.25 L352.5 216.25 L352.5 210.9 L354 210.9 L354 216.25 L354.5 216.25 L354.5 218.28 L355 218.28 L355 219.9 L360.5 219.9 L360.5 219.81 L361 219.81 L361 219.36 L361.5 219.36 L361.5 217.9 L363 217.9 L363 219.36 L363.5 219.36 L363.5 219.81 L364 219.81 L364 219.9 L364.5 219.9 L364.5 219.81 L365 219.81 L365 219.36 L365.5 219.36 L365.5 217.9 L367 217.9 L367 219.36 L367.5 219.36 L367.5 219.81 L368 219.81 L368 219.9 L378.5 219.9 L378.5 219.76 L379 219.76 L379 219.09 L379.5 219.09 L379.5 216.9 L381 216.9 L381 219.09 L381.5 219.09 L381.5 219.76 L382 219.76 L382 219.9 L395.5 219.9 L395.5 219.81 L396 219.81 L396 219.36 L396.5 219.36 L396.5 217.9 L398 217.9 L398 219.36 L398.5 219.36 L398.5 219.81 L399 219.81 L399 219.9 L421.5 219.9 L421.5 219.81 L422 219.81 L422 219.36 L422.5 219.36 L422.5 217.9 L424 217.9 L424 219.36 L424.5 219.36 L424.5 219.81 L425 219.81 L425 219.9 L433.5 219.9 L433.5 219.72 L434 219.72 L434 218.82 L434.5 218.82 L434.5 215.9 L436 215.9 L436 218.82 L436.5 218.82 L436.5 219.72 L437 219.72 L437 219.9 L478.5 219.9 L478.5 219.81 L479 219.81 L479 219.36 L479.5 219.36 L479.5 217.9 L481 217.9 L481 219.36 L481.5 219.36 L481.5 219.81 L482 219.81 L482 219.9 L510.7 219.9Z" fill="#dc2a30"/>
<rect x="52.5" y="236.95" width="458.2" height="1.3" fill="#d65a64"/>
<path d="M52.5 237.3 L52.5 237.17 L53 237.17 L53 236.85 L54 236.85 L54 237.13 L54.5 237.13 L54.5 237.23 L55.5 237.22 L55.5 236.94 L56 236.94 L56 236.57 L56.5 236.57 L56.5 235.66 L57.5 235.66 L57.5 236.71 L58 236.71 L58 237.08 L58.5 237.08 L58.5 237.23 L59 237.23 L59 237.12 L59.5 237.12 L59.5 236.62 L60.5 236.62 L61 236.65 L61 236.78 L61.5 236.78 L61.5 237.13 L62 237.13 L62.5 237.09 L62.5 236.8 L63.5 236.8 L63.5 236.88 L64 236.88 L64 237.2 L64.5 237.2 L64.5 237.13 L65 237.13 L65 236.87 L65.5 236.87 L65.5 236.12 L66 236.12 L66 235.27 L67.5 235.27 L67.5 236.64 L68 236.64 L68 237.09 L68.5 237.09 L68.5 237.3 L69 237.3 L69 237.12 L69.5 237.12 L69.5 236.89 L70 236.89 L70 236.28 L71 236.28 L71 236.9 L71.5 236.9 L71.5 237.13 L72 237.13 L72 237.3 L74.5 237.3 L75 237.27 L75 236.75 L75.5 236.75 L75.5 234.99 L76.5 234.99 L76.5 234.85 L77.5 234.85 L77.5 236.29 L78 236.29 L78 236.84 L78.5 236.84 L78.5 237.15 L79 237.15 L79 236.95 L79.5 236.95 L79.5 236.37 L80.5 236.37 L81 236.39 L81.5 236.39 L81.5 235.01 L82.5 235.01 L82.5 236.59 L83 236.59 L83 236.89 L84 236.89 L84 236.7 L84.5 236.7 L84.5 236.11 L85.5 236.11 L85.5 236.8 L86 236.8 L86 237.07 L86.5 237.07 L86.5 236.89 L87 236.89 L87 236.75 L87.5 236.75 L87.5 235.8 L88.5 235.8 L88.5 236.89 L89 236.89 L89 237.22 L89.5 237.22 L89.5 237.3 L94 237.3 L94 237.23 L94.5 237.23 L94.5 236.83 L95 236.83 L95 235.53 L96 235.53 L96 236.61 L96.5 236.61 L96.5 236.36 L97.5 236.36 L97.5 236.65 L98 236.65 L98 237.1 L98.5 237.1 L98.5 236.82 L99 236.82 L99 235.88 L100 235.88 L100 236.69 L100.5 236.69 L100.5 237.07 L101 237.07 L101 237.21 L101.5 237.21 L101.5 237.3 L102.5 237.29 L102.5 236.97 L103 236.97 L103 235.85 L104 235.85 L104 236.7 L104.5 236.7 L104.5 237.03 L105 237.03 L105 236.6 L105.5 236.6 L105.5 234.94 L107 234.94 L107 236.68 L107.5 236.68 L107.5 235.18 L108.5 235.18 L108.5 236.5 L109 236.5 L109 236.84 L110 236.84 L110 237.18 L110.5 237.18 L110.5 237.29 L111 237.29 L111.5 237.3 L113 237.3 L113 237.18 L113.5 237.18 L113.5 236.71 L114 236.71 L114 235.18 L115.5 235.18 L115.5 236.78 L116 236.78 L116 237.25 L116.5 237.25 L117 237.3 L118 237.3 L118 237.12 L118.5 237.12 L118.5 236.64 L119 236.64 L119 235.19 L119.5 235.19 L119.5 236.41 L120 236.41 L120 236.89 L120.5 236.89 L120.5 236.68 L121 236.68 L121 236.06 L122 236.06 L122 236.68 L122.5 236.68 L123 236.72 L123 235.31 L124.5 235.31 L124.5 236.76 L125 236.76 L125 237.21 L125.5 237.21 L125.5 237.3 L126 237.3 L126 236.76 L126.5 236.76 L126.5 236.2 L127 236.2 L127 234.81 L128 234.81 L128 236.61 L128.5 236.61 L128.5 237.17 L129 237.17 L129 237.3 L129.5 237.3 L129.5 236.84 L130 236.84 L130 236.33 L130.5 236.33 L130.5 235.02 L131 235.02 L131 236.55 L131.5 236.55 L131.5 237.06 L132 237.06 L132 237.3 L133 237.3 L133 237.23 L133.5 237.23 L133.5 237.1 L134 237.1 L134 236.7 L134.5 236.7 L134.5 236.12 L136 236.12 L136 236.5 L136.5 236.5 L136.5 236.69 L137 236.69 L137 237.08 L137.5 237.08 L138 237.07 L138 236.71 L138.5 236.71 L138.5 237.09 L139 237.09 L139.5 237.06 L139.5 236.77 L140 236.77 L140 237.15 L140.5 237.15 L140.5 237.27 L141 237.27 L141.5 237.3 L143.5 237.3 L143.5 237.04 L144 237.04 L144 236.67 L144.5 236.67 L144.5 235.65 L145.5 235.65 L145.5 236.92 L146 236.92 L146 237.29 L146.5 237.29 L146.5 237.2 L147 237.2 L147 236.71 L147.5 236.71 L147.5 235.09 L149 235.09 L149 236.1 L150 236.1 L150 236.29 L150.5 236.29 L151 236.27 L151 235.53 L152.5 235.53 L152.5 236.84 L153 236.84 L153 237.24 L153.5 237.24 L153.5 236.98 L154 236.98 L154 236.44 L154.5 236.44 L154.5 234.88 L155.5 234.88 L155.5 236.41 L156 236.41 L156 236.96 L156.5 236.96 L156.5 237.24 L157 237.24 L157 237.01 L157.5 237.01 L157.5 236.47 L158 236.47 L158 234.91 L159 234.91 L159 235.77 L160 235.77 L160 236.48 L160.5 236.48 L160.5 237.1 L161 237.1 L161 237.28 L161.5 237.28 L162 237.3 L168.5 237.3 L168.5 237.11 L169 237.11 L169 236.87 L169.5 236.87 L169.5 235.98 L170.5 235.98 L170.5 236.81 L171 236.81 L171 237.06 L171.5 237.06 L171.5 237.3 L183 237.3 L183 237.21 L183.5 237.21 L183.5 237.09 L184 237.09 L184 236.79 L184.5 236.79 L184.5 237.13 L185 237.13 L185 237.24 L185.5 237.24 L185.5 237.3 L194 237.3 L194.5 237.27 L194.5 237.12 L195 237.12 L195 236.63 L196.5 236.63 L196.5 237.14 L197 237.14 L197 237.29 L197.5 237.29 L198 237.3 L202 237.3 L202 237.18 L202.5 237.18 L202.5 236.95 L203 236.95 L203 236.28 L204 236.28 L204 236.94 L204.5 236.94 L204.5 237.17 L205 237.17 L205 237.3 L207.5 237.3 L207.5 237.23 L208 237.23 L208 237.1 L208.5 237.1 L208.5 236.74 L209 236.74 L209 237.08 L209.5 237.08 L209.5 237.21 L210 237.21 L210 237.3 L215 237.3 L215 237.22 L215.5 237.22 L215.5 237.13 L216 237.13 L216 236.88 L217 236.88 L217 237.14 L217.5 237.14 L217.5 237.24 L218 237.24 L218 237.3 L227 237.3 L227 237.2 L227.5 237.2 L227.5 237.07 L228 237.07 L228 236.74 L229 236.74 L229 237.08 L229.5 237.08 L229.5 237.21 L230 237.21 L230 237.3 L234 237.3 L234 237.13 L234.5 237.13 L234.5 236.89 L235 236.89 L235 236.21 L236 236.21 L236 236.85 L236.5 236.85 L236.5 237.1 L237 237.1 L237 237.3 L243.5 237.3 L243.5 237.15 L244 237.15 L244 236.97 L244.5 236.97 L244.5 236.5 L245.5 236.5 L245.5 236.98 L246 236.98 L246 237.16 L246.5 237.16 L246.5 237.3 L254.5 237.3 L255 237.25 L255 237.06 L255.5 237.06 L255.5 236.45 L257 236.45 L257 237.1 L257.5 237.1 L257.5 237.29 L270.5 237.3 L271 237.27 L271 237.17 L271.5 237.17 L271.5 236.83 L273 236.83 L273 236.71 L273.5 236.71 L273.5 237.04 L274 237.04 L274 237.17 L274.5 237.17 L274.5 237.3 L282.5 237.3 L282.5 237.09 L283 237.09 L283 236.78 L283.5 236.78 L283.5 235.93 L284 235.93 L284 236.78 L284.5 236.78 L284.5 237.09 L285 237.09 L285 237.3 L292.5 237.3 L292.5 237.17 L293 237.17 L293 236.81 L293.5 236.81 L293.5 235.71 L295 235.71 L295 236.88 L295.5 236.88 L295.5 237.24 L296 237.24 L296 237.3 L297.5 237.3 L297.5 237.17 L298 237.17 L298 237.02 L298.5 237.02 L298.5 236.61 L299.5 236.61 L299.5 237.04 L300 237.04 L300 236.55 L301 236.55 L301 237.06 L301.5 237.06 L301.5 237.23 L302 237.23 L302 237.3 L312.5 237.3 L312.5 237.25 L313 237.25 L313 237.13 L313.5 237.13 L313.5 236.79 L314 236.79 L314 236.08 L314.5 236.08 L314.5 235.72 L315.5 235.72 L315.5 236.71 L316 236.71 L316 237.06 L316.5 237.06 L316.5 237.3 L318.5 237.3 L318.5 237.22 L319 237.22 L319 236.97 L319.5 236.97 L319.5 236.17 L320 236.17 L320 236.79 L320.5 236.79 L320.5 237.05 L321 237.05 L321 237.3 L332.5 237.3 L332.5 237.22 L333 237.22 L333 237.12 L333.5 237.12 L333.5 236.85 L334.5 236.85 L334.5 237.14 L335 237.14 L335 237.24 L335.5 237.24 L335.5 237.3 L336.5 237.3 L336.5 237.18 L337 237.18 L337 236.9 L337.5 236.9 L337.5 236.04 L339 236.04 L339 236.98 L339.5 236.98 L339.5 237.26 L340 237.26 L340.5 237.3 L355.5 237.3 L356 237.25 L356 237.14 L356.5 237.14 L356.5 236.81 L358 236.81 L358 237.18 L358.5 237.18 L358.5 237.29 L366 237.3 L366 237.14 L366.5 237.14 L366.5 236.91 L367 236.91 L367 236.28 L368 236.28 L368 236.91 L368.5 236.91 L368.5 237.14 L369 237.14 L369 237.3 L375.5 237.3 L375.5 237.14 L376 237.14 L376 236.82 L376.5 236.82 L376.5 235.84 L377.5 235.84 L377.5 236.9 L378 236.9 L378 237.22 L378.5 237.22 L378.5 237.3 L384.5 237.3 L384.5 237.17 L385 237.17 L385 237.01 L385.5 237.01 L385.5 236.57 L386.5 236.57 L386.5 237.03 L387 237.03 L387 237.2 L387.5 237.2 L387.5 237.3 L389 237.3 L389.5 237.27 L389.5 237.17 L390 237.17 L390 236.87 L391 236.87 L391 237.19 L391.5 237.19 L391.5 237.28 L392 237.28 L392.5 237.3 L409 237.3 L409 237 L409.5 237 L409.5 236.64 L410 236.64 L410 235.74 L411 235.74 L411 236.72 L411.5 236.72 L411.5 237.07 L412 237.07 L412 237.3 L412.5 237.3 L412.5 237.19 L413 237.19 L413 237.05 L413.5 237.05 L413.5 236.68 L414.5 236.68 L414.5 237.1 L415 237.1 L415 237.24 L415.5 237.24 L415.5 237.01 L416 237.01 L416 236.72 L416.5 236.72 L416.5 236.02 L417 236.02 L417 236.14 L418 236.14 L418 236.99 L418.5 236.99 L418.5 237.26 L419 237.26 L419.5 237.3 L420.5 237.3 L420.5 237.24 L421 237.24 L421 237.1 L421.5 237.1 L421.5 236.67 L422 236.67 L422 236.48 L423 236.48 L423 236.95 L423.5 236.95 L423.5 236.8 L424 236.8 L424 236.09 L424.5 236.09 L424.5 236.85 L425 236.85 L425 237.12 L425.5 237.12 L425.5 237.3 L432 237.3 L432.5 237.26 L432.5 236.91 L433 236.91 L433 235.71 L434 235.71 L434 236.6 L434.5 236.6 L434.5 236.96 L435 236.96 L435 237.3 L443.5 237.3 L443.5 237.16 L444 237.16 L444 236.92 L444.5 236.92 L444.5 236.23 L445 236.23 L445 236.84 L445.5 236.84 L445.5 237.08 L446 237.08 L446 237.3 L447.5 237.3 L447.5 237.24 L448 237.24 L448 237.1 L448.5 237.1 L448.5 236.48 L449.5 236.48 L449.5 236.95 L450 236.95 L450 237.14 L450.5 237.14 L450.5 237.3 L466.5 237.3 L466.5 237.09 L467 237.09 L467 236.82 L467.5 236.82 L467.5 236.09 L468.5 236.09 L468.5 236.17 L469.5 236.17 L469.5 236.94 L470 236.94 L470 237.17 L470.5 237.17 L470.5 236.88 L471.5 236.88 L471.5 237.18 L472 237.18 L472 237.27 L472.5 237.27 L473 237.3 L476 237.3 L476.5 237.26 L476.5 237.06 L477 237.06 L477 236.43 L478 236.43 L478 236.69 L479 236.69 L479 237 L479.5 237 L479.5 236.42 L480.5 236.42 L480.5 236.93 L481 236.93 L481 237.13 L481.5 237.13 L481.5 237.3 L487 237.3 L487 237.17 L487.5 237.17 L487.5 236.96 L488 236.96 L488 236.35 L489 236.35 L489 237.04 L489.5 237.04 L489.5 237.26 L490 237.26 L490.5 237.3 L494 237.3 L494 237.14 L494.5 237.14 L494.5 236.82 L495 236.82 L495 235.87 L496.5 235.87 L496.5 236.95 L497 236.95 L497 237.28 L497.5 237.28 L498 237.3 L503.5 237.3 L503.5 237.05 L504 237.05 L504 236.22 L505 236.22 L505 236.83 L505.5 236.83 L505.5 237.08 L506 237.08 L506 237.3 L510.7 237.3Z" fill="#b83c42"/>
<path d="M52.5 237.3 L53.5 237.3 L53.5 237.21 L54 237.21 L54 236.76 L54.5 236.76 L54.5 235.3 L56 235.3 L56 236.76 L56.5 236.76 L56.5 237.21 L57 237.21 L57 237.3 L63 237.3 L63 236.85 L63.5 236.85 L63.5 235.72 L64 235.72 L64 232.3 L65.5 232.3 L65.5 236.17 L66 236.17 L66 237.3 L71.5 237.3 L71.5 237.03 L72 237.03 L72 235.68 L72.5 235.68 L72.5 231.3 L74 231.3 L74 235.68 L74.5 235.68 L74.5 237.03 L75 237.03 L75 237.3 L80 237.3 L80 236.67 L80.5 236.67 L80.5 235.09 L81 235.09 L81 230.3 L82.5 230.3 L82.5 235.72 L83 235.72 L83 237.3 L94.5 237.3 L94.5 237.21 L95 237.21 L95 236.76 L95.5 236.76 L95.5 235.3 L97 235.3 L97 236.76 L97.5 236.76 L97.5 237.21 L98 237.21 L98 237.3 L103.5 237.3 L103.5 237.16 L104 237.16 L104 236.49 L104.5 236.49 L104.5 234.3 L106 234.3 L106 236.49 L106.5 236.49 L106.5 237.16 L107 237.16 L107 237.3 L107.5 237.3 L107.5 235.72 L108 235.72 L108 230.3 L109.5 230.3 L109.5 234.46 L110 234.46 L110 231.31 L110.5 231.31 L110.5 223.3 L112 223.3 L112 233.84 L112.5 233.84 L112.5 236.49 L113 236.49 L113 234.3 L114.5 234.3 L114.5 236.49 L115 236.49 L115 237.16 L115.5 237.16 L115.5 237.3 L121.5 237.3 L121.5 237.16 L122 237.16 L122 236.49 L122.5 236.49 L122.5 234.3 L123.5 234.3 L123.5 232.3 L125 232.3 L125 235.95 L125.5 235.95 L125.5 236.89 L126 236.89 L126 234.87 L126.5 234.87 L126.5 228.3 L128 228.3 L128 234.87 L128.5 234.87 L128.5 236.89 L129 236.89 L129 237.3 L141.5 237.3 L141.5 237.12 L142 237.12 L142 236.67 L142.5 236.67 L142.5 235.3 L144 235.3 L144 236.85 L144.5 236.85 L144.5 237.3 L153 237.3 L153 237.03 L153.5 237.03 L153.5 236.35 L154 236.35 L154 234.3 L155.5 234.3 L155.5 236.62 L156 236.62 L156 236.83 L156.5 236.83 L156.5 234.46 L157 234.46 L157 226.8 L158.5 226.8 L158.5 234.46 L159 234.46 L159 236.83 L159.5 236.83 L159.5 237.3 L174.5 237.3 L174.5 237.21 L175 237.21 L175 236.76 L175.5 236.76 L175.5 235.3 L177 235.3 L177 236.76 L177.5 236.76 L177.5 237.21 L178 237.21 L178 237.3 L181.5 237.3 L181.5 237.16 L182 237.16 L182 236.49 L182.5 236.49 L182.5 234.3 L184 234.3 L184 236.49 L184.5 236.49 L184.5 237.16 L185 237.16 L185 237.3 L198.5 237.3 L198.5 237.16 L199 237.16 L199 236.49 L199.5 236.49 L199.5 234.3 L201 234.3 L201 236.49 L201.5 236.49 L201.5 237.16 L202 237.16 L202 237.3 L207.5 237.3 L207.5 237.16 L208 237.16 L208 236.49 L208.5 236.49 L208.5 234.3 L210 234.3 L210 236.49 L210.5 236.49 L210.5 237.16 L211 237.16 L211 237.3 L215.5 237.3 L215.5 237.21 L216 237.21 L216 236.76 L216.5 236.76 L216.5 235.3 L218 235.3 L218 236.76 L218.5 236.76 L218.5 237.21 L219 237.21 L219 237.3 L330.5 237.3 L330.5 237.21 L331 237.21 L331 236.76 L331.5 236.76 L331.5 235.3 L333 235.3 L333 236.76 L333.5 236.76 L333.5 237.21 L334 237.21 L334 237.3 L351.5 237.3 L351.5 235.59 L352 235.59 L352 233.45 L352.5 233.45 L352.5 227.8 L354 227.8 L354 233.45 L354.5 233.45 L354.5 235.59 L355 235.59 L355 237.3 L361.5 237.3 L361.5 237.16 L362 237.16 L362 236.49 L362.5 236.49 L362.5 234.3 L364 234.3 L364 236.49 L364.5 236.49 L364.5 237.16 L365 237.16 L365 237.3 L433.5 237.3 L433.5 236.98 L434 236.98 L434 235.41 L434.5 235.41 L434.5 230.3 L436 230.3 L436 235.41 L436.5 235.41 L436.5 236.98 L437 236.98 L437 237.3 L453.5 237.3 L453.5 237.03 L454 237.03 L454 235.68 L454.5 235.68 L454.5 231.3 L456 231.3 L456 235.68 L456.5 235.68 L456.5 237.03 L457 237.03 L457 237.3 L510.7 237.3Z" fill="#dc2a30"/>
<rect x="52.5" y="331.55" width="458.2" height="1.3" fill="#d65a64"/>
<path d="M52.5 331.9 L52.5 330.98 L53 330.98 L53 329.82 L53.5 329.82 L53.5 329.73 L54.5 329.73 L54.5 330.01 L56 330.01 L56 331.43 L56.5 331.43 L56.5 331.78 L57 331.78 L57 331.45 L58 331.45 L58 331.63 L58.5 331.63 L58.5 330.97 L59.5 330.97 L59.5 331.51 L60 331.51 L60 331.71 L60.5 331.71 L60.5 331.9 L63.5 331.9 L63.5 331.67 L64 331.67 L64 331.28 L64.5 331.28 L64.5 329.92 L65 329.92 L65 330.17 L65.5 330.17 L65.5 329.83 L66 329.83 L66 331 L66.5 331 L66.5 331.46 L67 331.46 L67 331.9 L68 331.9 L68 331.83 L68.5 331.83 L68.5 331.62 L69 331.62 L69 330.94 L69.5 330.94 L69.5 330.79 L71 330.79 L71 331.47 L72 331.47 L72 331.77 L72.5 331.77 L72.5 331.86 L73 331.86 L73.5 331.9 L73.5 331.8 L74 331.8 L74 331.67 L74.5 331.67 L74.5 331.33 L75.5 331.33 L75.5 331.68 L76 331.68 L76 331.8 L76.5 331.8 L77 331.76 L77 331.4 L78 331.4 L78 331.78 L78.5 331.78 L78.5 331.89 L79 331.89 L79.5 331.9 L80.5 331.9 L80.5 331.83 L81 331.83 L81 331.59 L81.5 331.59 L81.5 330.82 L82.5 330.82 L82.5 331.52 L83 331.52 L83 331.76 L83.5 331.76 L83.5 331.9 L86.5 331.9 L87 331.87 L87 331.78 L87.5 331.78 L87.5 331.48 L89 331.48 L89 331.78 L89.5 331.78 L89.5 331.87 L90 331.87 L90.5 331.9 L91.5 331.9 L91.5 331.83 L92 331.83 L92 331.7 L92.5 331.7 L92.5 331.33 L93 331.33 L93 331.65 L93.5 331.65 L94 331.67 L94 331.38 L95 331.38 L95 331.76 L95.5 331.76 L95.5 331.88 L96 331.88 L96.5 331.9 L97.5 331.9 L98 331.87 L98 331.5 L98.5 331.5 L98.5 330.27 L99.5 330.27 L99.5 331.35 L100 331.35 L100 331.23 L101 331.23 L101 331.7 L101.5 331.7 L101.5 331.85 L102 331.85 L102 331.72 L102.5 331.72 L102.5 331.53 L103 331.53 L103 331.05 L103.5 331.05 L103.5 329.81 L104.5 329.81 L104.5 330.97 L105 330.97 L105 331.44 L106 331.43 L106 330.48 L106.5 330.48 L106.5 331.27 L107 331.27 L107 331.59 L107.5 331.59 L107.5 331.9 L108 331.9 L108.5 331.89 L108.5 331.74 L109 331.74 L109 331.26 L109.5 331.26 L109.5 331.17 L110 331.17 L110 331.26 L110.5 331.26 L110.5 331.72 L111 331.72 L111.5 331.75 L111.5 331.49 L112 331.49 L112 330.77 L112.5 330.77 L112.5 330.14 L113.5 330.14 L113.5 331.42 L114 331.42 L114 331.82 L114.5 331.82 L115 331.84 L115 331.45 L115.5 331.45 L115.5 330.17 L116.5 330.17 L116.5 330.74 L117.5 330.74 L117.5 331.58 L118 331.58 L118 331.84 L118.5 331.84 L118.5 331.9 L119 331.9 L119 331.78 L119.5 331.78 L119.5 331.6 L120 331.6 L120 331.09 L120.5 331.09 L120.5 329.93 L122 329.93 L122 330.43 L123 330.43 L123 330.5 L124 330.5 L124 330.36 L125.5 330.36 L125.5 331.43 L126 331.43 L126 331.64 L126.5 331.64 L126.5 330.83 L127.5 330.83 L127.5 329.81 L128 329.81 L128 331 L128.5 331 L128.5 331.35 L129 331.35 L129 330.35 L130 330.35 L130 331.41 L130.5 331.41 L130.5 330.8 L131 330.8 L131 331.44 L131.5 331.44 L131.5 331.16 L132 331.16 L132 331.62 L132.5 331.62 L132.5 331.79 L133 331.79 L133 331.9 L133.5 331.9 L133.5 331.81 L134 331.81 L134 331.53 L134.5 331.53 L134.5 330.65 L135.5 330.65 L135.5 331.41 L136 331.41 L136 331.69 L136.5 331.69 L136.5 331.9 L141.5 331.9 L141.5 331.74 L142 331.74 L142 331.49 L142.5 331.49 L142.5 330.78 L143.5 330.78 L143.5 330.84 L144 330.84 L144 331.5 L144.5 331.5 L144.5 331.58 L145 331.58 L145 331.23 L145.5 331.23 L145.5 330.35 L146 330.35 L146 331.35 L146.5 331.35 L146.5 331.7 L147 331.7 L147 331.9 L150.5 331.9 L151 331.85 L151 331.74 L151.5 331.74 L151.5 331.38 L152 331.38 L152 331.67 L152.5 331.67 L152.5 331.78 L153 331.78 L153 331.9 L153.5 331.9 L153.5 331.65 L154 331.65 L154 331.36 L154.5 331.36 L154.5 330.62 L155.5 330.62 L155.5 331.26 L156 331.26 L156 330.26 L157.5 330.26 L157.5 331.1 L158 331.1 L158 329.74 L159 329.74 L159 331.23 L159.5 331.23 L159.5 331.14 L160.5 331.14 L160.5 331.66 L161 331.66 L161 331.83 L161.5 331.83 L161.5 331.9 L163 331.9 L163 331.72 L163.5 331.72 L163.5 331.42 L164 331.42 L164 330.56 L165 330.56 L165 331.5 L165.5 331.5 L165.5 331.8 L166 331.8 L166 331.67 L166.5 331.67 L166.5 331.32 L167.5 331.32 L167.5 331.58 L168 331.58 L168 330.58 L169 330.58 L169 331.4 L169.5 331.4 L169.5 331.5 L171 331.5 L171 331.79 L171.5 331.79 L171.5 331.88 L172 331.88 L172.5 331.9 L176 331.9 L176.5 331.88 L176.5 331.62 L177 331.62 L177 330.75 L178.5 330.75 L178.5 331.59 L179 331.59 L179 331.85 L179.5 331.85 L179.5 331.9 L185 331.9 L185 331.81 L185.5 331.81 L185.5 331.69 L186 331.69 L186 331.4 L187 331.4 L187 331.72 L187.5 331.72 L187.5 331.83 L188 331.83 L188 331.9 L191 331.9 L191 331.83 L191.5 331.83 L191.5 331.6 L192 331.6 L192 330.88 L193 330.88 L193 331.46 L193.5 331.46 L193.5 331.69 L194 331.69 L194 331.9 L200.5 331.9 L200.5 331.79 L201 331.79 L201 331.6 L201.5 331.6 L201.5 331.03 L202 331.03 L202 331.56 L202.5 331.56 L202.5 331.76 L203 331.76 L203 331.9 L211 331.9 L211 331.83 L211.5 331.83 L211.5 331.64 L212 331.64 L212 331.03 L213 331.03 L213 331.58 L213.5 331.58 L213.5 331.78 L214 331.78 L214 331.9 L216.5 331.9 L217 331.86 L217 331.77 L217.5 331.77 L217.5 331.5 L218 331.5 L218 331.73 L218.5 331.73 L218.5 331.82 L219 331.82 L219 331.9 L224 331.9 L224 331.78 L224.5 331.78 L224.5 331.6 L225 331.6 L225 331.11 L226 331.11 L226 331.63 L226.5 331.63 L226.5 331.76 L227 331.76 L227 331.49 L228 331.49 L228 331.79 L228.5 331.79 L228.5 331.62 L229 331.62 L229 330.97 L230 330.97 L230 331.63 L230.5 331.63 L230.5 331.84 L231 331.84 L231 331.9 L251 331.9 L251 331.77 L251.5 331.77 L251.5 331.61 L252 331.61 L252 331.15 L252.5 331.15 L252.5 331.64 L253 331.64 L253 331.81 L253.5 331.81 L253.5 331.9 L510.7 331.9Z" fill="#b83c42"/>
<path d="M52.5 331.9 L53.5 331.9 L53.5 331.76 L54 331.76 L54 331.09 L54.5 331.09 L54.5 328.9 L56 328.9 L56 331.09 L56.5 331.09 L56.5 331.76 L57 331.76 L57 331.36 L57.5 331.36 L57.5 329.9 L59 329.9 L59 331.36 L59.5 331.36 L59.5 331.81 L60 331.81 L60 331.9 L64 331.9 L64 331.76 L64.5 331.76 L64.5 331.09 L65 331.09 L65 328.9 L66.5 328.9 L66.5 331.09 L67 331.09 L67 331.76 L67.5 331.76 L67.5 331.9 L69 331.9 L69 331.36 L69.5 331.36 L69.5 330.46 L70 330.46 L70 327.9 L71 327.9 L71 330.28 L71.5 330.28 L71.5 325.9 L73 325.9 L73 330.19 L73.5 330.19 L73.5 324.3 L75.5 324.3 L75.5 328.9 L77 328.9 L77 331.09 L77.5 331.09 L77.5 331.76 L78 331.76 L78 331.9 L81 331.9 L81 331.63 L81.5 331.63 L81.5 330.28 L82 330.28 L82 325.9 L84 325.9 L84 330.55 L84.5 330.55 L84.5 328.9 L86 328.9 L86 331.09 L86.5 331.09 L86.5 331.76 L87 331.76 L87 331.9 L92.5 331.9 L92.5 331.83 L93 331.83 L93 331.5 L93.5 331.5 L93.5 330.4 L95 330.4 L95 331.5 L95.5 331.5 L95.5 331.83 L96 331.83 L96 331.9 L99 331.9 L99 331.72 L99.5 331.72 L99.5 331.27 L100 331.27 L100 329.9 L101.5 329.9 L101.5 331.45 L102 331.45 L102 331.9 L107.5 331.9 L107.5 331.22 L108 331.22 L108 328.9 L109.5 328.9 L109.5 330.95 L110 330.95 L110 331.63 L110.5 331.63 L110.5 330.95 L111 330.95 L111 329.38 L111.5 329.38 L111.5 324.9 L113 324.9 L113 329.38 L113.5 329.38 L113.5 330.95 L114 330.95 L114 331.9 L122.5 331.9 L122.5 331.65 L123 331.65 L123 330.41 L123.5 330.41 L123.5 326.4 L125 326.4 L125 330.41 L125.5 330.41 L125.5 330.1 L126 330.1 L126 326.9 L127 326.9 L127 329.74 L127.5 329.74 L127.5 325.9 L128.5 325.9 L128.5 329.47 L129 329.47 L129 330.82 L129.5 330.82 L129.5 331.9 L145.5 331.9 L145.5 331.81 L146 331.81 L146 331.36 L146.5 331.36 L146.5 329.9 L148 329.9 L148 331.36 L148.5 331.36 L148.5 331.81 L149 331.81 L149 331.9 L153.5 331.9 L153.5 330.08 L154 330.08 L154 327.04 L154.5 327.04 L154.5 318.4 L156 318.4 L156 327.04 L156.5 327.04 L156.5 330.08 L157 330.08 L157 327.9 L158.5 327.9 L158.5 330.82 L159 330.82 L159 331.36 L159.5 331.36 L159.5 329.9 L161 329.9 L161 331.36 L161.5 331.36 L161.5 331.81 L162 331.81 L162 331.9 L175.5 331.9 L175.5 331.83 L176 331.83 L176 331.5 L176.5 331.5 L176.5 330.4 L178 330.4 L178 331.5 L178.5 331.5 L178.5 331.83 L179 331.83 L179 331.9 L200 331.9 L200 331.72 L200.5 331.72 L200.5 330.82 L201 330.82 L201 327.9 L202.5 327.9 L202.5 330.82 L203 330.82 L203 331.72 L203.5 331.72 L203.5 331.79 L204 331.79 L204 331.22 L204.5 331.22 L204.5 329.4 L206 329.4 L206 331.22 L206.5 331.22 L206.5 331.79 L207 331.79 L207 331.9 L208.5 331.9 L208.5 331.76 L209 331.76 L209 331.09 L209.5 331.09 L209.5 328.9 L211 328.9 L211 331.09 L211.5 331.09 L211.5 331.76 L212 331.76 L212 331.9 L216 331.9 L216 331.81 L216.5 331.81 L216.5 331.36 L217 331.36 L217 329.9 L218.5 329.9 L218.5 331.36 L219 331.36 L219 331.81 L219.5 331.81 L219.5 331.9 L350.5 331.9 L350.5 331.6 L351 331.6 L351 330.86 L351.5 330.86 L351.5 328.6 L354 328.6 L354 330.56 L354.5 330.56 L354.5 331.31 L355 331.31 L355 331.9 L365.5 331.9 L365.5 331.83 L366 331.83 L366 331.5 L366.5 331.5 L366.5 330.4 L368 330.4 L368 331.5 L368.5 331.5 L368.5 331.81 L369 331.81 L369 331.36 L369.5 331.36 L369.5 329.9 L371 329.9 L371 331.36 L371.5 331.36 L371.5 331.81 L372 331.81 L372 331.9 L510.7 331.9Z" fill="#dc2a30"/>
<rect x="52.5" y="348.85" width="458.2" height="1.3" fill="#d65a64"/>
<path d="M52.5 349.2 L52.5 347.59 L53 347.59 L53.5 347.6 L53.5 348.33 L54.5 348.33 L54.5 349 L55 349 L55 349.2 L57.5 349.2 L58 349.15 L58 349.01 L58.5 349.01 L58.5 348.58 L59.5 348.58 L59.5 348.99 L60 348.99 L60 349.13 L60.5 349.13 L60.5 349.01 L61 349.01 L61 348.61 L61.5 348.61 L61.5 348.96 L62 348.96 L62 349.09 L62.5 349.09 L62.5 349.2 L67 349.2 L67 348.91 L67.5 348.91 L67.5 348.54 L68 348.54 L68 347.55 L69 347.55 L69 348.56 L69.5 348.56 L69.5 347.83 L70.5 347.83 L70.5 348.75 L71 348.75 L71 349.05 L71.5 349.05 L71.5 349.2 L73 349.2 L73 349.06 L73.5 349.06 L73.5 348.58 L74 348.58 L74 347.09 L75 347.09 L75 348.43 L75.5 348.43 L75.5 348.91 L76 348.91 L76 348.54 L77 348.54 L77 349.04 L77.5 349.04 L77.5 349.19 L78 349.19 L78 349.11 L78.5 349.11 L78.5 348.77 L79 348.77 L79 347.69 L80 347.69 L80 348.68 L80.5 348.68 L80.5 349.02 L81 349.02 L81 349.19 L81.5 349.19 L81.5 349.07 L82 349.07 L82 348.68 L83.5 348.68 L83.5 349.06 L84 349.06 L84 348.82 L84.5 348.82 L84.5 348.1 L85.5 348.1 L85.5 348.33 L86 348.33 L86 347.01 L87 347.01 L87 348.5 L87.5 348.5 L87.5 348.8 L88.5 348.81 L88.5 348.2 L89.5 348.2 L89.5 348.8 L90 348.8 L90 349.03 L90.5 349.03 L90.5 349.2 L91 349.2 L91 349.1 L91.5 349.1 L91.5 348.72 L92 348.72 L92 347.53 L93 347.53 L93 348.55 L93.5 348.55 L93.5 348.93 L94 348.93 L94 349.2 L94.5 349.2 L95 349.17 L95 348.71 L95.5 348.71 L95.5 347.14 L97 347.14 L97 348.25 L98 348.25 L98 348.95 L98.5 348.95 L98.5 349.16 L99 349.16 L99.5 349.2 L102 349.2 L102 349.09 L102.5 349.09 L102.5 348.97 L103 348.97 L103 348.65 L104 348.65 L104 349.04 L104.5 349.04 L104.5 349.15 L105 349.15 L105.5 349.2 L108.5 349.2 L108.5 348.95 L109 348.95 L109 348.47 L109.5 348.47 L109.5 347.07 L110.5 347.07 L110.5 347.4 L111.5 347.4 L111.5 347.6 L112.5 347.6 L112.5 347.67 L113 347.67 L113 348.74 L113.5 348.74 L113.5 349.05 L114 349.05 L114 348.71 L115 348.71 L115 349.07 L115.5 349.07 L115.5 348.92 L116 348.92 L116 348.48 L116.5 348.48 L116.5 347.24 L117.5 347.24 L117.5 348.59 L118 348.59 L118 349.03 L118.5 349.03 L118.5 349.2 L121.5 349.2 L121.5 349.14 L122 349.14 L122 349.02 L122.5 349.02 L122.5 348.68 L123.5 348.68 L123.5 349.05 L124 349.05 L124 349.16 L124.5 349.16 L125 349.2 L125.5 349.2 L125.5 349.1 L126 349.1 L126 348.93 L126.5 348.93 L126.5 348.47 L127.5 348.47 L127.5 348.93 L128 348.93 L128 349.1 L128.5 349.1 L128.5 349.2 L129 349.2 L129 348.9 L129.5 348.9 L129.5 348.6 L130 348.6 L130 347.86 L130.5 347.86 L130.5 347.49 L132 347.49 L132 348.81 L132.5 348.81 L132.5 349.19 L135.5 349.2 L136 349.19 L136 349.08 L136.5 349.08 L136.5 348.74 L137.5 348.74 L137.5 348.99 L138 348.99 L138 348.62 L138.5 348.62 L138.5 347.59 L139 347.59 L139 348.09 L140 348.09 L140 348.84 L140.5 348.84 L140.5 349.03 L141 349.03 L141.5 349 L141.5 348.7 L142.5 348.7 L142.5 349.01 L143 349.01 L143 349.12 L143.5 349.12 L143.5 348.96 L144 348.96 L144 348.46 L145 348.46 L145 347.83 L146 347.83 L146 348.66 L146.5 348.66 L146.5 348.96 L147 348.96 L147 349.2 L157 349.2 L157 348.94 L157.5 348.94 L157.5 348.56 L158 348.56 L158 347.47 L159 347.47 L159 348.75 L159.5 348.75 L159.5 349.13 L160 349.13 L160 349.2 L163 349.2 L163 349.09 L163.5 349.09 L163.5 348.89 L164 348.89 L164 348.34 L165.5 348.34 L165.5 349.01 L166 349.01 L166 349.2 L171 349.19 L171 348.99 L171.5 348.99 L171.5 348.3 L173 348.3 L173 348.92 L173.5 348.92 L173.5 349.12 L174 349.12 L174 349.2 L175.5 349.2 L175.5 349.1 L176 349.1 L176 348.93 L176.5 348.93 L176.5 348.45 L177.5 348.45 L177.5 349.02 L178 349.02 L178 349.19 L178.5 349.19 L179 349.2 L188 349.2 L188.5 349.15 L188.5 349 L189 349 L189 348.49 L190 348.49 L190 348.92 L190.5 348.92 L190.5 349.08 L191 349.08 L191 349.18 L191.5 349.18 L191.5 349.04 L192 349.04 L192 348.76 L192.5 348.76 L192.5 348.06 L193.5 348.06 L193.5 348.83 L194 348.83 L194 349.09 L194.5 349.09 L194.5 349.2 L202 349.2 L202 349.12 L202.5 349.12 L202.5 348.94 L203 348.94 L203 348.41 L204 348.41 L204 348.95 L204.5 348.95 L204.5 349.13 L205 349.13 L205 348.97 L205.5 348.97 L205.5 348.26 L206.5 348.26 L206.5 348.96 L207 348.96 L207 349.18 L207.5 349.18 L208 349.2 L208.5 349.2 L208.5 349.02 L209 349.02 L209 348.72 L209.5 348.72 L209.5 347.9 L210 347.9 L210 348.66 L210.5 348.66 L210.5 348.96 L211 348.96 L211 349.2 L213 349.2 L213 349.06 L213.5 349.06 L213.5 348.77 L214 348.77 L214 347.89 L215 347.89 L215 348.76 L215.5 348.76 L215.5 348.63 L216 348.63 L216 348.95 L216.5 348.95 L216.5 349.08 L217 349.08 L217 349.2 L219 349.2 L219 349.09 L219.5 349.09 L219.5 348.72 L220.5 348.72 L220.5 349 L221 349 L221 349.11 L221.5 349.11 L221.5 349.2 L227 349.2 L227 349.13 L227.5 349.13 L227.5 348.92 L228 348.92 L228 348.24 L229 348.24 L229 348.63 L229.5 348.63 L229.5 349 L230 349 L230 348.73 L231 348.73 L231 349.02 L231.5 349.02 L231.5 348.9 L232 348.9 L232 347.95 L233 347.95 L233 348.65 L233.5 348.65 L233.5 348.93 L234 348.93 L234 349.2 L258 349.2 L258.5 349.15 L258.5 349.06 L259 349.06 L259 348.8 L260.5 348.8 L260.5 349.11 L261 349.11 L261 349.2 L304.5 349.2 L304.5 349.12 L305 349.12 L305 348.97 L305.5 348.97 L305.5 348.52 L306.5 348.52 L306.5 348.95 L307 348.95 L307 348.28 L308.5 348.28 L308.5 348.97 L309 348.97 L309 349.18 L309.5 349.18 L310 349.2 L314.5 349.2 L314.5 349.11 L315 349.11 L315 348.98 L315.5 348.98 L315.5 348.62 L316.5 348.62 L316.5 349.03 L317 349.03 L317 349.16 L317.5 349.16 L318 349.2 L363 349.2 L363 349.07 L363.5 349.07 L363.5 348.91 L364 348.91 L364 348.47 L365 348.47 L365 348.96 L365.5 348.96 L365.5 349.13 L366 349.13 L366 349.2 L443.5 349.2 L444 349.18 L444 349.08 L444.5 349.08 L444.5 348.76 L445.5 348.76 L445.5 349.04 L446 349.04 L446 349.14 L446.5 349.14 L446.5 349.2 L467.5 349.2 L467.5 349.11 L468 349.11 L468 349 L468.5 349 L468.5 348.72 L469 348.72 L469 349.05 L469.5 349.05 L469.5 349.16 L470 349.16 L470.5 349.2 L510.7 349.2Z" fill="#b83c42"/>
<path d="M52.5 349.2 L53.5 349.2 L53.5 349.11 L54 349.11 L54 348.66 L54.5 348.66 L54.5 347.2 L56 347.2 L56 348.66 L56.5 348.66 L56.5 349.11 L57 349.11 L57 349.2 L58.5 349.2 L58.5 349.11 L59 349.11 L59 348.66 L59.5 348.66 L59.5 347.2 L61 347.2 L61 348.66 L61.5 348.66 L61.5 349.11 L62 349.11 L62 349.2 L64 349.2 L64 349.02 L64.5 349.02 L64.5 348.12 L65 348.12 L65 345.2 L66.5 345.2 L66.5 348.12 L67 348.12 L67 349.02 L67.5 349.02 L67.5 349.2 L70.5 349.2 L70.5 349.06 L71 349.06 L71 348.39 L71.5 348.39 L71.5 346.2 L73 346.2 L73 347.85 L73.5 347.85 L73.5 343.2 L75.5 343.2 L75.5 347.58 L76 347.58 L76 348.93 L76.5 348.93 L76.5 349.2 L81 349.2 L81 348.93 L81.5 348.93 L81.5 347.58 L82 347.58 L82 343.2 L84 343.2 L84 347.85 L84.5 347.85 L84.5 349.2 L98.5 349.2 L98.5 349.11 L99 349.11 L99 348.66 L99.5 348.66 L99.5 347.2 L101 347.2 L101 348.66 L101.5 348.66 L101.5 349.11 L102 349.11 L102 349.2 L106.5 349.2 L106.5 349.11 L107 349.11 L107 348.66 L107.5 348.66 L107.5 347.2 L109 347.2 L109 348.66 L109.5 348.66 L109.5 349.11 L110 349.11 L110 349.2 L110.5 349.2 L110.5 348.39 L111 348.39 L111 347.04 L111.5 347.04 L111.5 343.2 L113 343.2 L113 347.04 L113.5 347.04 L113.5 348.39 L114 348.39 L114 349.2 L122.5 349.2 L122.5 348.97 L123 348.97 L123 347.85 L123.5 347.85 L123.5 344.2 L125 344.2 L125 347.85 L126 347.85 L126 344.2 L127.5 344.2 L127.5 343.2 L128.5 343.2 L128.5 346.77 L129 346.77 L129 348.12 L129.5 348.12 L129.5 349.2 L153.5 349.2 L153.5 347.44 L154 347.44 L154 344.52 L154.5 344.52 L154.5 336.2 L156 336.2 L156 344.52 L156.5 344.52 L156.5 347.44 L157 347.44 L157 345.2 L158.5 345.2 L158.5 348.12 L159 348.12 L159 349.02 L159.5 349.02 L159.5 349.2 L175 349.2 L175 349.11 L175.5 349.11 L175.5 348.66 L176 348.66 L176 347.2 L177.5 347.2 L177.5 348.66 L178 348.66 L178 349.11 L178.5 349.11 L178.5 349.2 L199.5 349.2 L199.5 349.09 L200 349.09 L200 348.52 L200.5 348.52 L200.5 346.7 L202 346.7 L202 348.52 L202.5 348.52 L202.5 349.09 L203 349.09 L203 349.2 L208 349.2 L208 349.13 L208.5 349.13 L208.5 348.8 L209 348.8 L209 347.7 L210.5 347.7 L210.5 348.8 L211 348.8 L211 349.13 L211.5 349.13 L211.5 349.2 L323.5 349.2 L324 349.15 L324 348.93 L324.5 348.93 L324.5 348.2 L326 348.2 L326 348.93 L326.5 348.93 L326.5 349.15 L327 349.15 L327.5 349.2 L352 349.2 L352 348.03 L352.5 348.03 L352.5 346.57 L353 346.57 L353 342.7 L354.5 342.7 L354.5 346.57 L355 346.57 L355 348.03 L355.5 348.03 L355.5 349.2 L359.5 349.2 L359.5 349.13 L360 349.13 L360 348.8 L360.5 348.8 L360.5 347.7 L362 347.7 L362 348.8 L362.5 348.8 L362.5 349.13 L363 349.13 L363 349.2 L510.7 349.2Z" fill="#dc2a30"/>
<rect x="52.5" y="366.25" width="458.2" height="1.3" fill="#d65a64"/>
<path d="M52.5 366.6 L52.5 366.45 L53 366.45 L53 366.12 L53.5 366.12 L53.5 365.91 L54.5 365.91 L54.5 366.38 L55 366.38 L55 366.54 L55.5 366.54 L55.5 366.6 L57 366.6 L57 366.52 L57.5 366.52 L57.5 366.4 L58 366.4 L58 366.07 L58.5 366.07 L58.5 366.39 L59 366.39 L59 366.51 L59.5 366.51 L59.5 366.6 L61.5 366.6 L61.5 366.48 L62 366.48 L62 366.04 L62.5 366.04 L62.5 364.64 L63.5 364.64 L63.5 365.94 L64 365.94 L64 366.38 L64.5 366.38 L64.5 366.6 L66.5 366.6 L66.5 366.54 L67 366.54 L67 366.42 L67.5 366.42 L67.5 366.05 L68.5 366.05 L68.5 366.38 L69 366.38 L69 366.5 L69.5 366.5 L69.5 366.6 L70 366.6 L70 366.53 L70.5 366.53 L70.5 366.4 L71 366.4 L71 366.01 L72 366.01 L72 366.1 L72.5 366.1 L72.5 366.42 L73 366.42 L73 366.54 L73.5 366.54 L73.5 366.6 L74.5 366.6 L74.5 366.47 L75 366.47 L75 366.18 L75.5 366.18 L75.5 365.32 L76.5 365.32 L76.5 366.21 L77 366.21 L77 366.11 L77.5 366.11 L77.5 365.49 L78 365.49 L78 366.28 L78.5 366.28 L78.5 366.53 L79 366.53 L79 366.37 L79.5 366.37 L79.5 365.91 L80.5 365.91 L80.5 366.42 L81 366.42 L81 366.58 L81.5 366.58 L82 366.6 L83.5 366.6 L83.5 366.34 L84 366.34 L84 366.08 L84.5 366.08 L84.5 365.42 L85 365.42 L85 366.12 L85.5 366.12 L85.5 366.39 L86 366.39 L86 366.6 L88 366.6 L88 366.53 L88.5 366.53 L88.5 366.44 L89 366.44 L89 366.2 L90 366.2 L90 366.48 L90.5 366.48 L90.5 366.28 L91 366.28 L91 365.67 L91.5 365.67 L91.5 365.55 L92.5 365.55 L92.5 365.13 L93 365.13 L93 366.03 L93.5 366.03 L93.5 366.36 L94 366.36 L94 366.6 L95.5 366.6 L95.5 366.49 L96 366.49 L96 366.32 L96.5 366.32 L96.5 365.99 L97 365.99 L97 365.11 L98 365.11 L98 366.25 L98.5 366.25 L98.5 366.59 L99 366.59 L99 366.36 L99.5 366.36 L99.5 366.11 L100 366.11 L100 365.5 L100.5 365.5 L100.5 365.64 L101 365.64 L101 366.2 L101.5 366.2 L101.5 366.42 L102 366.42 L102 366.6 L102.5 366.6 L102.5 366.19 L103 366.19 L103 365.71 L103.5 365.71 L103.5 364.46 L104 364.46 L104 365.85 L104.5 365.85 L104.5 366.33 L105 366.33 L105 366.6 L107.5 366.6 L107.5 366.51 L108 366.51 L108 366.4 L108.5 366.4 L108.5 366.14 L109.5 366.14 L109.5 366.49 L110 366.49 L110 366.6 L112 366.59 L112 366.37 L112.5 366.37 L112.5 365.61 L113.5 365.61 L113.5 366.29 L114 366.29 L114 366.51 L114.5 366.51 L114.5 366.6 L115.5 366.6 L115.5 366.51 L116 366.51 L116 366.33 L116.5 366.33 L116.5 366.03 L117 366.03 L117 365.23 L117.5 365.23 L117.5 366.13 L118 366.13 L118 366.44 L118.5 366.44 L118.5 366.6 L119 366.6 L119 366.48 L119.5 366.48 L119.5 366.33 L120 366.33 L120 365.94 L121 365.94 L121 366.44 L121.5 366.44 L122 366.4 L122 366.04 L122.5 366.04 L122.5 365.01 L123.5 365.01 L123.5 366.18 L124 366.18 L124 366.54 L124.5 366.54 L124.5 366.6 L130.5 366.6 L130.5 366.36 L131 366.36 L131 366.04 L131.5 366.04 L131.5 365.2 L132 365.2 L132 364.44 L132.5 364.44 L132.5 365.63 L133 365.63 L133 366.12 L133.5 366.12 L133.5 366.59 L134 366.59 L134 366.44 L134.5 366.44 L134.5 365.92 L135.5 365.92 L135.5 365.41 L136 365.41 L136 366.09 L136.5 366.09 L136.5 366.36 L137 366.36 L137 366.6 L138.5 366.6 L139 366.57 L139 366.48 L139.5 366.48 L139.5 366.19 L140.5 366.19 L140.5 366.49 L141 366.49 L141 366.58 L141.5 366.58 L142 366.6 L142.5 366.6 L142.5 366.23 L143 366.23 L143 365.82 L143.5 365.82 L143.5 364.75 L144.5 364.75 L144.5 365.96 L145 365.96 L145 366.32 L145.5 366.32 L145.5 365.66 L146 365.66 L146 364.79 L146.5 364.79 L146.5 365.91 L147 365.91 L147 366.23 L147.5 366.23 L147.5 365.65 L148 365.65 L148 366.21 L148.5 366.21 L148.5 366.43 L149 366.43 L149 366.05 L150 366.05 L150 366.38 L150.5 366.38 L150.5 366.5 L151 366.5 L151 366.6 L152 366.6 L152 366.51 L152.5 366.51 L152.5 366.08 L153 366.08 L153 364.66 L154.5 364.66 L154.5 366.01 L155 366.01 L155 366.33 L155.5 366.33 L155.5 365.65 L156.5 365.65 L156.5 366.19 L157 366.19 L157 366.41 L157.5 366.41 L157.5 366.6 L161 366.6 L161 366.55 L161.5 366.55 L161.5 366.45 L162 366.45 L162 366.17 L163 366.17 L163 366.25 L163.5 366.25 L163.5 365.07 L164.5 365.07 L164.5 365.92 L165 365.92 L165 366.19 L165.5 366.19 L165.5 366.46 L166 366.46 L166 366.56 L166.5 366.56 L167 366.6 L186.5 366.6 L186.5 366.47 L187 366.47 L187 366.22 L187.5 366.22 L187.5 365.46 L188.5 365.46 L188.5 366.09 L189 366.09 L189 366.34 L189.5 366.34 L189.5 366.6 L197 366.6 L197 366.55 L197.5 366.55 L197.5 366.46 L198 366.46 L198 366.2 L199 366.2 L199 365.8 L200 365.8 L200 366.36 L200.5 366.36 L200.5 366.54 L201 366.54 L201 366.6 L203 366.6 L203.5 366.58 L203.5 366.45 L204 366.45 L204 365.99 L205.5 365.99 L205.5 366.43 L206 366.43 L206 366.57 L206.5 366.57 L207 366.53 L207 366.29 L207.5 366.29 L207.5 365.5 L208.5 365.5 L208.5 366.15 L209 366.15 L209 366.4 L209.5 366.4 L209.5 366.6 L215 366.6 L215 366.45 L215.5 366.45 L215.5 366.12 L216 366.12 L216 365.13 L217 365.13 L217 365.64 L218.5 365.64 L218.5 366.37 L219 366.37 L219 366.59 L220.5 366.6 L220.5 366.51 L221 366.51 L221 366.41 L221.5 366.41 L221.5 366.13 L222.5 366.13 L222.5 366.47 L223 366.47 L223 366.57 L223.5 366.57 L224 366.6 L229.5 366.6 L229.5 366.4 L230 366.4 L230 366.07 L230.5 366.07 L230.5 365.16 L231.5 365.16 L231.5 366.02 L232 366.02 L232 366.35 L232.5 366.35 L232.5 366.6 L277.5 366.6 L278 366.59 L278 366.43 L278.5 366.43 L278.5 365.89 L279.5 365.89 L279.5 366.41 L280 366.41 L280 366.57 L280.5 366.57 L281 366.6 L359.5 366.6 L359.5 366.49 L360 366.49 L360 366.37 L360.5 366.37 L360.5 366.07 L361.5 366.07 L361.5 366.45 L362 366.45 L362 366.57 L362.5 366.57 L363 366.6 L369.5 366.6 L369.5 366.46 L370 366.46 L370 366.27 L370.5 366.27 L370.5 365.78 L371.5 365.78 L371.5 366.36 L372 366.36 L372 366.54 L372.5 366.54 L372.5 366.6 L424.5 366.6 L425 366.59 L425 366.45 L425.5 366.45 L425.5 365.99 L427 365.99 L427 366.41 L427.5 366.41 L427.5 366.55 L428 366.55 L428 366.6 L437 366.6 L437.5 366.55 L437.5 366.44 L438 366.44 L438 366.09 L439 366.09 L439 366.46 L439.5 366.46 L439.5 366.58 L440 366.58 L440.5 366.6 L500 366.6 L500 366.51 L500.5 366.51 L500.5 366.41 L501 366.41 L501 366.14 L502 366.14 L502 366.47 L502.5 366.47 L502.5 366.57 L503 366.57 L503.5 366.6 L510.7 366.6Z" fill="#b83c42"/>
<path d="M52.5 366.6 L53.5 366.6 L53.5 366.51 L54 366.51 L54 366.06 L54.5 366.06 L54.5 364.6 L56 364.6 L56 366.06 L56.5 366.06 L56.5 366.51 L57 366.51 L57 366.6 L58.5 366.6 L58.5 366.46 L59 366.46 L59 365.79 L59.5 365.79 L59.5 363.6 L61 363.6 L61 365.79 L61.5 365.79 L61.5 366.46 L62 366.46 L62 366.6 L64 366.6 L64 366.26 L64.5 366.26 L64.5 364.57 L65 364.57 L65 359.1 L66.5 359.1 L66.5 364.57 L67 364.57 L67 366.26 L67.5 366.26 L67.5 366.6 L70.5 366.6 L70.5 366.46 L71 366.46 L71 365.79 L71.5 365.79 L71.5 363.6 L73 363.6 L73 364.57 L73.5 364.57 L73.5 357.6 L75.5 357.6 L75.5 364.17 L76 364.17 L76 366.19 L76.5 366.19 L76.5 366.6 L81 366.6 L81 366.24 L81.5 366.24 L81.5 364.44 L82 364.44 L82 358.6 L84 358.6 L84 364.8 L84.5 364.8 L84.5 366.6 L86.5 366.6 L86.5 366.51 L87 366.51 L87 366.06 L87.5 366.06 L87.5 364.6 L89 364.6 L89 366.06 L89.5 366.06 L89.5 366.51 L90 366.51 L90 366.6 L98.5 366.6 L98.5 366.51 L99 366.51 L99 366.06 L99.5 366.06 L99.5 364.6 L101 364.6 L101 366.06 L101.5 366.06 L101.5 366.51 L102 366.51 L102 366.6 L106.5 366.6 L106.5 366.51 L107 366.51 L107 366.06 L107.5 366.06 L107.5 364.6 L109 364.6 L109 366.06 L109.5 366.06 L109.5 366.51 L110 366.51 L110 366.6 L110.5 366.6 L110.5 365.72 L111 365.72 L111 364.26 L111.5 364.26 L111.5 360.1 L113 360.1 L113 364.26 L113.5 364.26 L113.5 365.72 L114 365.72 L114 366.6 L122.5 366.6 L122.5 366.37 L123 366.37 L123 365.25 L123.5 365.25 L123.5 361.6 L125 361.6 L125 365.25 L126 365.25 L126 361.6 L127.5 361.6 L127.5 359.6 L128.5 359.6 L128.5 363.76 L129 363.76 L129 365.34 L129.5 365.34 L129.5 366.6 L146 366.6 L146 366.42 L146.5 366.42 L146.5 365.52 L147 365.52 L147 362.6 L148.5 362.6 L148.5 365.52 L149 365.52 L149 366.42 L149.5 366.42 L149.5 366.6 L153.5 366.6 L153.5 365.11 L154 365.11 L154 362.64 L154.5 362.64 L154.5 355.6 L156 355.6 L156 362.64 L156.5 362.64 L156.5 365.11 L157 365.11 L157 361.6 L158.5 361.6 L158.5 365.25 L159 365.25 L159 366.37 L159.5 366.37 L159.5 366.6 L174.5 366.6 L174.5 366.46 L175 366.46 L175 365.79 L175.5 365.79 L175.5 363.6 L177 363.6 L177 365.79 L177.5 365.79 L177.5 366.46 L178 366.46 L178 366.6 L199.5 366.6 L199.5 366.51 L200 366.51 L200 366.06 L200.5 366.06 L200.5 364.6 L202 364.6 L202 366.06 L202.5 366.06 L202.5 366.51 L203 366.51 L203 366.6 L208.5 366.6 L208.5 366.46 L209 366.46 L209 365.79 L209.5 365.79 L209.5 363.6 L211 363.6 L211 365.79 L211.5 365.79 L211.5 366.46 L212 366.46 L212 366.6 L287.5 366.6 L287.5 366.53 L288 366.53 L288 366.19 L288.5 366.19 L288.5 365.1 L290 365.1 L290 366.19 L290.5 366.19 L290.5 366.53 L291 366.53 L291 366.6 L352 366.6 L352 365.66 L352.5 365.66 L352.5 364.49 L353 364.49 L353 361.4 L354.5 361.4 L354.5 364.49 L355 364.49 L355 365.66 L355.5 365.66 L355.5 366.6 L510.7 366.6Z" fill="#dc2a30"/>
<rect x="52.5" y="383.85" width="458.2" height="1.3" fill="#d65a64"/>
<path d="M52.5 384.2 L52.5 383.76 L53.5 383.76 L53.5 383.64 L54 383.64 L54 383.83 L54.5 383.83 L54.5 383 L55.5 383 L55.5 383.74 L56 383.74 L56 384 L56.5 384 L56.5 383.61 L57 383.61 L57 383.34 L58.5 383.34 L58.5 383.97 L59 383.97 L59 383.77 L59.5 383.77 L59.5 382.45 L60.5 382.45 L60.5 383.49 L62 383.49 L62 384.01 L62.5 384.01 L62.5 384.17 L63 384.17 L63.5 384.2 L68 384.2 L68 384.01 L68.5 384.01 L68.5 383.76 L69 383.76 L69 383.07 L70 383.07 L70 382.1 L71 382.1 L71 383.36 L71.5 383.36 L71.5 383.83 L72 383.83 L72.5 383.8 L73.5 383.8 L73.5 384.08 L74 384.08 L74 384.17 L74.5 384.17 L75 384.2 L79 384.2 L79.5 384.17 L79.5 384.05 L80 384.05 L80 383.66 L81 383.66 L81 383.36 L81.5 383.36 L81.5 382.2 L82.5 382.2 L82.5 383.69 L83 383.69 L83 384.14 L83.5 384.14 L83.5 384.2 L84.5 384.19 L84.5 384.08 L85 384.08 L85 383.67 L86 383.67 L86 384.01 L86.5 384.01 L86.5 384.13 L87 384.13 L87 384.2 L87.5 384.2 L87.5 383.84 L88 383.84 L88 383.46 L88.5 383.46 L88.5 382.54 L89.5 382.54 L89.5 383.64 L90 383.64 L90 383.79 L91 383.79 L91 384.11 L91.5 384.11 L91.5 384.2 L96.5 384.2 L96.5 383.96 L97 383.96 L97 383.45 L97.5 383.45 L97.5 381.95 L98 381.95 L98 383.21 L98.5 383.21 L98.5 383.5 L99 383.5 L99 384.04 L99.5 384.04 L99.5 383.98 L100 383.98 L100 383.6 L101 383.6 L101 383.96 L101.5 383.96 L102 383.99 L102 383.51 L102.5 383.51 L102.5 382.07 L103.5 382.07 L103.5 383.33 L104 383.33 L104 383.81 L104.5 383.81 L104.5 384.2 L105.5 384.2 L105.5 384.06 L106 384.06 L106 383.59 L106.5 383.59 L106.5 381.8 L108 381.8 L108 383.53 L108.5 383.53 L108.5 384.07 L109 384.07 L109 384.2 L112 384.2 L112 384.12 L112.5 384.12 L112.5 384 L113 384 L113 383.7 L114 383.7 L114 383.23 L115 383.23 L115.5 383.26 L115.5 383.8 L116 383.8 L116 383.47 L117 383.47 L117 383.99 L117.5 383.99 L117.5 384.15 L118 384.15 L118 384.01 L118.5 384.01 L118.5 383.6 L120 383.6 L120 384.06 L120.5 384.06 L120.5 383.89 L121 383.89 L121 383.46 L121.5 383.46 L121.5 383.95 L122 383.95 L122 384.12 L122.5 384.12 L122.5 384.2 L127 384.2 L127 384.01 L127.5 384.01 L127.5 383.77 L128 383.77 L128 383.14 L129 383.14 L129 381.87 L130 381.87 L130 383.66 L130.5 383.66 L130.5 384.08 L131 384.08 L131 384.17 L131.5 384.17 L132 384.2 L132.5 384.15 L132.5 383.94 L133 383.94 L133 383.27 L134 383.27 L134 383.44 L134.5 383.44 L134.5 381.9 L135.5 381.9 L135.5 383.48 L136 383.48 L136 382.17 L137 382.17 L137 383.38 L137.5 383.38 L137.5 383.83 L138 383.83 L138 384.13 L138.5 384.13 L138.5 383.75 L139 383.75 L139 382.51 L140 382.51 L140 383.35 L141.5 383.35 L141.5 383.93 L142 383.93 L142 384.12 L142.5 384.12 L142.5 384.2 L144.5 384.2 L144.5 383.94 L145 383.94 L145 383.61 L145.5 383.61 L145.5 382.74 L146.5 382.74 L146.5 383.25 L147.5 383.25 L147.5 383.39 L148.5 383.39 L148.5 383.49 L149 383.49 L149 383.92 L149.5 383.92 L149.5 384.08 L150 384.08 L150 384.2 L153.5 384.2 L154 384.16 L154 383.83 L154.5 383.83 L154.5 382.75 L155.5 382.75 L155.5 383.71 L156 383.71 L156.5 383.72 L156.5 383.02 L157 383.02 L157 383.8 L157.5 383.8 L157.5 384.07 L158 384.07 L158 384.2 L160.5 384.2 L160.5 383.85 L161 383.85 L161 383.36 L161.5 383.36 L161.5 382.06 L162.5 382.06 L162.5 382.33 L163 382.33 L163 383.4 L163.5 383.4 L163.5 383.82 L164 383.82 L164 384.2 L165 384.2 L165 384.07 L165.5 384.07 L165.5 383.81 L166 383.81 L166 383.02 L167 383.02 L167 383.75 L167.5 383.75 L167.5 384.02 L168 384.02 L168 384.2 L171.5 384.2 L171.5 384.05 L172 384.05 L172 383.89 L172.5 383.89 L172.5 383.47 L173.5 383.47 L173.5 383.96 L174 383.96 L174 384.12 L174.5 384.12 L174.5 384.2 L175.5 384.2 L175.5 384.04 L176 384.04 L176 383.74 L176.5 383.74 L176.5 382.86 L177.5 382.86 L177.5 383.87 L178 383.87 L178 384.18 L178.5 384.18 L179 384.2 L186.5 384.2 L187 384.15 L187 384 L187.5 384 L187.5 383.54 L188.5 383.54 L188.5 384.05 L189 384.05 L189 384.2 L189.5 384.2 L189.5 384.14 L190 384.14 L190 383.91 L190.5 383.91 L190.5 383.15 L191.5 383.15 L191.5 383.93 L192 383.93 L192 384.16 L192.5 384.16 L192.5 384.06 L193 384.06 L193 383.75 L194 383.75 L194 384.07 L194.5 384.07 L194.5 384.17 L195 384.17 L195.5 384.2 L197 384.2 L197.5 384.16 L197.5 384.07 L198 384.07 L198 383.8 L198.5 383.8 L198.5 384.03 L199 384.03 L199 384.12 L199.5 384.12 L199.5 384.2 L211 384.2 L211 384.14 L211.5 384.14 L211.5 383.89 L212 383.89 L212 383.11 L213 383.11 L213 383.95 L213.5 383.95 L213.5 384.2 L214.5 384.2 L214.5 384.14 L215 384.14 L215 383.89 L215.5 383.89 L215.5 383.08 L217 383.08 L217 383.88 L217.5 383.88 L217.5 384.13 L218 384.13 L218 384.2 L223.5 384.2 L223.5 384.12 L224 384.12 L224 384.03 L224.5 384.03 L224.5 383.79 L225 383.79 L225 384.07 L225.5 384.07 L225.5 384.16 L226 384.16 L226.5 384.2 L256.5 384.2 L257 384.16 L257 384.04 L257.5 384.04 L257.5 383.64 L258.5 383.64 L258.5 384 L259 384 L259 384.13 L259.5 384.13 L259.5 384.2 L284 384.2 L284.5 384.19 L284.5 384.06 L285 384.06 L285 383.62 L286 383.62 L286 384.03 L286.5 384.03 L286.5 384.16 L287 384.16 L287.5 384.2 L355.5 384.2 L355.5 384.09 L356 384.09 L356 383.95 L356.5 383.95 L356.5 383.55 L357.5 383.55 L357.5 383.99 L358 383.99 L358 384.14 L358.5 384.14 L358.5 384.2 L375.5 384.19 L375.5 384.1 L376 384.1 L376 383.79 L377.5 383.79 L377.5 384.08 L378 384.08 L378 384.17 L378.5 384.17 L379 384.2 L388.5 384.2 L389 384.16 L389 383.97 L389.5 383.97 L389.5 383.34 L391 383.34 L391 383.97 L391.5 383.97 L391.5 384.16 L392 384.16 L392.5 384.2 L456.5 384.2 L457 384.18 L457 384.04 L457.5 384.04 L457.5 383.57 L459 383.57 L459 384 L459.5 384 L459.5 384.15 L460 384.15 L460 384.2 L510.7 384.2Z" fill="#b83c42"/>
<path d="M52.5 384.2 L53.5 384.2 L53.5 384.11 L54 384.11 L54 383.66 L54.5 383.66 L54.5 382.2 L56 382.2 L56 383.66 L56.5 383.66 L56.5 384.11 L57 384.11 L57 384.2 L64 384.2 L64 384.02 L64.5 384.02 L64.5 383.12 L65 383.12 L65 380.2 L66.5 380.2 L66.5 383.12 L67 383.12 L67 384.02 L67.5 384.02 L67.5 384.2 L70.5 384.2 L70.5 384.02 L71 384.02 L71 383.12 L71.5 383.12 L71.5 380.2 L73 380.2 L73 383.12 L73.5 383.12 L73.5 382.4 L74 382.4 L74 379.2 L75 379.2 L75 382.18 L75.5 382.18 L75.5 383.3 L76 383.3 L76 384.2 L81 384.2 L81 383.86 L81.5 383.86 L81.5 382.18 L82 382.18 L82 376.7 L84 376.7 L84 382.51 L84.5 382.51 L84.5 384.2 L86.5 384.2 L86.5 384.11 L87 384.11 L87 383.66 L87.5 383.66 L87.5 382.2 L89 382.2 L89 383.66 L89.5 383.66 L89.5 384.11 L90 384.11 L90 384.2 L98.5 384.2 L98.5 384.11 L99 384.11 L99 383.66 L99.5 383.66 L99.5 382.2 L101 382.2 L101 383.66 L101.5 383.66 L101.5 384.11 L102 384.11 L102 384.2 L103.5 384.2 L103.5 383.97 L104 383.97 L104 382.85 L104.5 382.85 L104.5 379.2 L106 379.2 L106 380.7 L110.5 380.7 L110.5 379.34 L111 379.34 L111 370.7 L112.5 370.7 L112.5 379.2 L114 379.2 L114 382.85 L114.5 382.85 L114.5 383.97 L115 383.97 L115 384.2 L122.5 384.2 L122.5 383.97 L123 383.97 L123 382.85 L123.5 382.85 L123.5 379.2 L125 379.2 L125 382.85 L126 382.85 L126 379.2 L127.5 379.2 L127.5 376.7 L128.5 376.7 L128.5 381.16 L129 381.16 L129 382.85 L129.5 382.85 L129.5 384.2 L153.5 384.2 L153.5 383.97 L154 383.97 L154 382.85 L154.5 382.85 L154.5 379.2 L156 379.2 L156 382.85 L156.5 382.85 L156.5 380.2 L158 380.2 L158 383.12 L158.5 383.12 L158.5 384.02 L159 384.02 L159 384.2 L172.5 384.2 L172.5 384.13 L173 384.13 L173 383.8 L173.5 383.8 L173.5 382.7 L175 382.7 L175 383.8 L175.5 383.8 L175.5 384.13 L176 384.13 L176 384.2 L182.5 384.2 L182.5 384.09 L183 384.09 L183 383.52 L183.5 383.52 L183.5 381.7 L185 381.7 L185 383.52 L185.5 383.52 L185.5 384.09 L186 384.09 L186 384.2 L200 384.2 L200 384.06 L200.5 384.06 L200.5 383.39 L201 383.39 L201 381.2 L202.5 381.2 L202.5 383.39 L203 383.39 L203 384.06 L203.5 384.06 L203.5 384.2 L205.5 384.2 L205.5 384.11 L206 384.11 L206 383.66 L206.5 383.66 L206.5 382.2 L208 382.2 L208 383.66 L208.5 383.66 L208.5 384.11 L209 384.11 L209 383.66 L209.5 383.66 L209.5 382.2 L211 382.2 L211 383.66 L211.5 383.66 L211.5 384.11 L212 384.11 L212 384.2 L352 384.2 L352 383.26 L352.5 383.26 L352.5 382.09 L353 382.09 L353 379 L354.5 379 L354.5 382.09 L355 382.09 L355 383.26 L355.5 383.26 L355.5 384.2 L361.5 384.2 L361.5 384.13 L362 384.13 L362 383.8 L362.5 383.8 L362.5 382.7 L364 382.7 L364 383.8 L364.5 383.8 L364.5 384.13 L365 384.13 L365 384.2 L366.5 384.2 L366.5 384.13 L367 384.13 L367 383.8 L367.5 383.8 L367.5 382.7 L369 382.7 L369 383.8 L369.5 383.8 L369.5 384.13 L370 384.13 L370 384.2 L510.7 384.2Z" fill="#dc2a30"/>
<rect x="52.5" y="254.25" width="458.2" height="1.3" fill="#676a9c"/>
<path d="M52.5 254.6 L52.5 250.91 L53.5 250.91 L53.5 250.48 L54.5 250.48 L54.5 251.32 L55 251.32 L55 252.45 L55.5 252.45 L56 252.4 L56.5 252.39 L56.5 252.66 L57.5 252.65 L57.5 252.13 L58.5 252.12 L58.5 253.07 L59.5 253.06 L59.5 252.64 L60.5 252.63 L60.5 252.3 L61.5 252.29 L61.5 252.62 L62.5 252.61 L62.5 252.17 L63.5 252.16 L63.5 251.7 L64 251.7 L64.5 251.69 L64.5 251.9 L65.5 251.89 L65.5 252.14 L66.5 252.13 L66.5 252.29 L67 252.29 L67 251.8 L67.5 251.8 L67.5 250.57 L68 250.57 L68 250.04 L68.5 250.04 L68.5 249.32 L69 249.32 L69 249.13 L69.5 249.13 L69.5 249.86 L70 249.86 L70 249.7 L70.5 249.7 L70.5 248.69 L71 248.69 L71 248.51 L71.5 248.51 L71.5 246.24 L72 246.24 L72 244.2 L72.5 244.2 L72.5 244.06 L73.5 244.06 L73.5 245.02 L74.5 245.02 L74.5 246.46 L75 246.46 L75 248.77 L75.5 248.77 L75.5 250.19 L76 250.19 L76 250.25 L76.5 250.25 L76.5 249.61 L77 249.61 L77 249.68 L77.5 249.68 L77.5 250.07 L78 250.07 L78 250.13 L78.5 250.13 L78.5 249.95 L79 249.95 L79 250.01 L79.5 250.01 L79.5 249.84 L80 249.84 L80 249.56 L80.5 249.56 L80.5 248.44 L81 248.44 L81 246.14 L81.5 246.14 L81.5 245.99 L82.5 245.99 L82.5 245.09 L83.5 245.09 L83.5 246.51 L84 246.51 L84 248.98 L84.5 248.98 L84.5 250.46 L85 250.46 L85 250.93 L85.5 250.93 L85.5 250.75 L86 250.75 L86 251.34 L86.5 251.34 L86.5 251.41 L87.5 251.42 L87.5 251.24 L88.5 251.25 L88.5 251.79 L89.5 251.8 L89.5 250.91 L90.5 250.92 L90.5 251.39 L91.5 251.4 L91.5 251.77 L92.5 251.77 L92.5 251.48 L93.5 251.49 L93.5 251.67 L94.5 251.68 L94.5 252.52 L95.5 252.52 L95.5 252.07 L96.5 252.07 L96.5 251.69 L97.5 251.7 L97.5 251.53 L98.5 251.53 L98.5 251.75 L99.5 251.75 L100 251.77 L100.5 251.78 L100.5 251.53 L101 251.53 L101 251.29 L101.5 251.29 L101.5 250.29 L102 250.29 L102 249.99 L102.5 249.99 L102.5 250.88 L103 250.88 L103 250.65 L103.5 250.65 L103.5 249.26 L104 249.26 L104 248.97 L104.5 248.97 L105 249.01 L105 248.67 L105.5 248.67 L105.5 248.28 L106 248.28 L106 247.94 L106.5 247.94 L106.5 248.25 L107 248.25 L107 247.95 L107.5 247.95 L107.5 245.92 L108 245.92 L108 244.19 L108.5 244.19 L108.5 243.22 L109 243.22 L109 242.8 L109.5 242.8 L109.5 240.44 L110 240.44 L110 239.96 L110.5 239.96 L110.5 240.63 L111 240.63 L111 241.51 L111.5 241.51 L111.5 243.03 L112 243.03 L112 244.05 L112.5 244.05 L112.5 245.31 L113 245.31 L113 246.34 L113.5 246.34 L113.5 246.52 L114 246.52 L114 247.07 L114.5 247.07 L114.5 247.24 L115 247.24 L115 247.81 L115.5 247.81 L115.5 249.13 L116 249.13 L116 249.35 L116.5 249.35 L116.5 249.18 L117 249.18 L117 249.45 L117.5 249.45 L117.5 250.02 L118 250.02 L118 250.24 L118.5 250.24 L119 250.2 L119 250.57 L119.5 250.57 L119.5 252.21 L120 252.21 L120 252.53 L120.5 252.53 L120.5 252.08 L121 252.08 L121 251.96 L121.5 251.96 L121.5 251.13 L122 251.13 L122 251 L122.5 251 L122.5 251.37 L123 251.37 L123 251.27 L123.5 251.27 L123.5 251.01 L124 251.01 L124 250.93 L124.5 250.93 L124.5 250.65 L125 250.65 L125 248.21 L125.5 248.21 L125.5 245.88 L126.5 245.88 L126.5 247.29 L127.5 247.29 L127.5 246.28 L128.5 246.28 L128.5 248.49 L129 248.49 L129 250.84 L129.5 250.84 L129.5 250.62 L130 250.62 L130 251.13 L130.5 251.13 L130.5 251.63 L131 251.63 L131 252.09 L131.5 252.09 L131.5 251.8 L132.5 251.8 L132.5 252.81 L133.5 252.81 L133.5 252.62 L134.5 252.62 L134.5 251.97 L135.5 251.97 L135.5 252.42 L136.5 252.42 L136.5 252.61 L137.5 252.61 L137.5 252.03 L138.5 252.03 L138.5 251.95 L139.5 251.95 L139.5 252.87 L140.5 252.87 L140.5 251.79 L141.5 251.79 L141.5 252.86 L142.5 252.86 L142.5 252.15 L143.5 252.15 L143.5 251.68 L144.5 251.68 L144.5 252.67 L145.5 252.67 L145.5 252.3 L146 252.3 L146 252.16 L146.5 252.16 L146.5 252.65 L147 252.65 L147 252.54 L147.5 252.54 L147.5 251.78 L148 251.78 L148 251.66 L148.5 251.66 L148.5 251.89 L149 251.89 L149 251.78 L149.5 251.78 L149.5 251.84 L150 251.84 L150 251.72 L150.5 251.72 L150.5 250.29 L151 250.29 L151 250.18 L151.5 250.18 L151.5 251.17 L152 251.17 L152 251.07 L152.5 251.07 L152.5 250.66 L153 250.66 L153 250.57 L153.5 250.57 L153.5 249.96 L154 249.96 L154 249.86 L154.5 249.86 L154.5 250.28 L155 250.28 L155 250.19 L155.5 250.19 L155.5 249.98 L156 249.98 L156 249.56 L156.5 249.56 L156.5 248.78 L157 248.78 L157 249.4 L157.5 249.4 L157.5 249.87 L158 249.87 L158 250.52 L158.5 250.52 L158.5 251.32 L159 251.32 L159 251.51 L159.5 251.51 L159.5 251.66 L160 251.66 L160 251.86 L160.5 251.86 L160.5 252.25 L161 252.25 L161 252.45 L161.5 252.45 L161.5 252.28 L162 252.28 L162 252.49 L162.5 252.49 L162.5 252.13 L163.5 252.13 L163.5 253.14 L164.5 253.14 L164.5 252.6 L165.5 252.6 L165.5 252.13 L166.5 252.13 L167 252.17 L167.5 252.17 L167.5 251.65 L168.5 251.65 L168.5 252.4 L170.5 252.4 L170.5 252.61 L171.5 252.61 L171.5 251.98 L172.5 251.98 L172.5 252.68 L173.5 252.68 L173.5 251.57 L174 251.57 L174 250.89 L174.5 250.89 L174.5 249.91 L175 249.91 L175 249.2 L175.5 249.2 L175.5 250.32 L176 250.32 L176 250.62 L176.5 250.62 L176.5 249.72 L177 249.72 L177 250.1 L177.5 250.1 L177.5 251.7 L178 251.7 L178 252.02 L178.5 252.02 L178.5 252.16 L179 252.16 L179 252.09 L179.5 252.09 L179.5 250.86 L180 250.86 L180 250.77 L180.5 250.77 L180.5 250.49 L181 250.49 L181 250.4 L181.5 250.4 L181.5 251.63 L182 251.63 L182 251.78 L182.5 251.78 L182.5 251.85 L183 251.85 L183 252 L183.5 252 L183.5 252.55 L184 252.55 L184 252.71 L184.5 252.71 L184.5 252.53 L185 252.53 L185.5 252.55 L185.5 252.1 L186 252.1 L186.5 252.13 L186.5 252.49 L187 252.49 L187.5 252.51 L187.5 252.43 L188 252.43 L188.5 252.45 L188.5 252.6 L189 252.6 L189.5 252.62 L189.5 251.72 L190 251.72 L190.5 251.74 L190.5 252.05 L191 252.05 L191.5 252.08 L191.5 253.1 L192 253.1 L192.5 253.12 L192.5 252.47 L193 252.47 L193.5 252.5 L193.5 252.31 L194 252.31 L194.5 252.34 L194.5 252.83 L195 252.83 L195.5 252.85 L195.5 252.63 L196 252.63 L196.5 252.66 L196.5 252.76 L197 252.76 L197.5 252.79 L197.5 253.03 L198 253.03 L198.5 253.05 L198.5 252.45 L199 252.45 L199 252.34 L199.5 252.34 L199.5 252.15 L200 252.15 L200 252.04 L200.5 252.04 L200.5 252.93 L201 252.93 L201 253.08 L201.5 253.08 L201.5 253.02 L202 253.02 L202 253.19 L202.5 253.19 L202.5 253.36 L203 253.36 L203.5 253.33 L203.5 252.67 L204 252.67 L204.5 252.62 L204.5 253.5 L205 253.5 L205.5 253.47 L205.5 253.25 L206 253.25 L206.5 253.22 L206.5 252.98 L207 252.98 L207.5 252.95 L207.5 253.06 L208 253.06 L208.5 253.02 L208.5 252.91 L209 252.91 L209 252.67 L209.5 252.67 L209.5 252.08 L210 252.08 L210 251.82 L210.5 251.82 L210.5 251.47 L211 251.47 L211 251.86 L211.5 251.86 L211.5 252.22 L212 252.22 L212 252.69 L212.5 252.69 L212.5 252.9 L213 252.9 L213 252.73 L213.5 252.73 L213.5 252.8 L214 252.8 L214 252.63 L214.5 252.63 L214.5 252.37 L215 252.37 L215 252.21 L215.5 252.21 L215.5 252.13 L216 252.13 L216 251.56 L216.5 251.56 L216.5 249.83 L217 249.83 L217 249.14 L217.5 249.14 L217.5 249.39 L218 249.39 L218 250.09 L218.5 250.09 L218.5 251.75 L219 251.75 L219 252.3 L219.5 252.3 L220 252.32 L220 252.44 L220.5 252.44 L220.5 251.92 L221 251.92 L221 252.05 L221.5 252.05 L221.5 252.69 L222 252.69 L222 252.87 L222.5 252.87 L222.5 253.2 L223 253.2 L223 253.36 L223.5 253.36 L224 253.35 L224 253.52 L224.5 253.52 L224.5 253.88 L225 253.88 L225 253.96 L225.5 253.96 L225.5 253.84 L226 253.84 L226 253.95 L226.5 253.95 L226.5 254.13 L227 254.13 L227 254.23 L228 254.22 L228 254.34 L228.5 254.34 L228.5 254.42 L229.5 254.42 L230 254.46 L230.5 254.46 L230.5 254.37 L231.5 254.37 L232 254.35 L232.5 254.35 L232.5 254.43 L233.5 254.43 L233.5 254.38 L235.5 254.39 L235.5 254.45 L237.5 254.45 L238 254.42 L238.5 254.42 L239 254.38 L239.5 254.38 L240 254.34 L241.5 254.35 L241.5 254.43 L242.5 254.43 L243 254.4 L243.5 254.4 L244 254.45 L244.5 254.45 L245 254.41 L245.5 254.41 L245.5 254.35 L246.5 254.35 L246.5 254.42 L247.5 254.42 L248 254.45 L248.5 254.45 L248.5 254.38 L249.5 254.38 L250 254.4 L250.5 254.4 L251 254.42 L251.5 254.42 L251.5 254.35 L252.5 254.35 L252.5 254.43 L253.5 254.43 L253.5 254.37 L254.5 254.37 L255 254.4 L255.5 254.4 L256 254.42 L258.5 254.42 L258.5 254.36 L259.5 254.36 L260 254.4 L260.5 254.4 L261 254.41 L261.5 254.41 L262 254.4 L263.5 254.4 L264 254.44 L264.5 254.44 L265 254.45 L265.5 254.45 L265.5 254.37 L266.5 254.37 L267 254.4 L267.5 254.4 L268 254.42 L268.5 254.42 L268.5 254.34 L269.5 254.34 L269.5 254.44 L270.5 254.44 L270.5 254.36 L271.5 254.36 L272 254.38 L272.5 254.38 L273 254.42 L273.5 254.42 L274 254.39 L274.5 254.39 L275 254.37 L275.5 254.37 L275.5 254.45 L276.5 254.45 L277 254.47 L277.5 254.47 L278 254.45 L278.5 254.45 L279 254.42 L279.5 254.42 L280 254.4 L280.5 254.4 L280.5 254.35 L281.5 254.35 L282 254.37 L282.5 254.37 L283 254.41 L283.5 254.41 L284 254.37 L284.5 254.37 L284.5 254.42 L285.5 254.42 L286 254.44 L286.5 254.44 L287 254.41 L287.5 254.41 L287.5 253.87 L288 253.87 L288 253.36 L288.5 253.36 L288.5 252.99 L289 252.99 L289 252.89 L289.5 252.89 L289.5 253.31 L290 253.31 L290 253.81 L290.5 253.81 L290.5 254.23 L291.5 254.23 L291.5 254.37 L292.5 254.37 L293 254.34 L293.5 254.34 L293.5 253.76 L294 253.76 L294 253.13 L295 253.13 L295 253.66 L295.5 253.66 L295.5 254.17 L296 254.17 L296 254.09 L296.5 254.09 L297 254.11 L297 254.05 L297.5 254.05 L297.5 253.17 L298 253.17 L298 252.42 L298.5 252.42 L298.5 251.71 L299 251.71 L299 251.62 L299.5 251.62 L299.5 252.28 L300 252.28 L300 253.26 L300.5 253.26 L300.5 254.38 L301.5 254.38 L302 254.36 L302.5 254.37 L303 254.33 L304.5 254.33 L305 254.36 L305.5 254.36 L305.5 254.26 L306.5 254.26 L306.5 254.39 L307.5 254.39 L307.5 254.31 L309.5 254.31 L310 254.34 L310.5 254.34 L311 254.3 L311.5 254.3 L311.5 254.42 L312.5 254.42 L312.5 254.36 L313.5 254.37 L314 254.38 L315.5 254.38 L316 254.34 L316.5 254.34 L316.5 254.4 L317.5 254.41 L318 254.42 L318.5 254.43 L318.5 254.04 L319 254.04 L319 253.64 L319.5 253.64 L319.5 252.95 L320 252.95 L320 252.47 L320.5 252.47 L320.5 253.13 L321 253.13 L321 253.56 L321.5 253.56 L321.5 253.92 L322 253.92 L322 254.39 L322.5 254.39 L322.5 254.46 L323.5 254.46 L324 254.43 L324.5 254.43 L324.5 254.37 L325.5 254.37 L326 254.4 L326.5 254.4 L327 254.42 L327.5 254.42 L327.5 254.32 L328.5 254.32 L329 254.37 L330.5 254.37 L330.5 254.46 L331.5 254.46 L331.5 254.4 L332.5 254.4 L332.5 254.35 L333.5 254.35 L334 254.38 L334.5 254.38 L335 254.35 L335.5 254.35 L335.5 254.44 L336.5 254.44 L336.5 254.39 L337.5 254.39 L338 254.34 L338.5 254.34 L338.5 254.43 L340.5 254.43 L341 254.46 L341.5 254.46 L341.5 254.4 L343.5 254.4 L344 254.42 L344.5 254.42 L345 254.38 L345.5 254.38 L345.5 254.45 L346.5 254.45 L346.5 254.38 L347.5 254.38 L348 254.34 L348 253.35 L348.5 253.35 L348.5 253.08 L349 253.08 L349 252.36 L349.5 252.36 L349.5 251.04 L350 251.04 L350 250.07 L350.5 250.07 L350.5 249.78 L351 249.78 L351 248.87 L351.5 248.87 L351.5 245.03 L352 245.03 L352 242.93 L352.5 242.93 L352.5 242.1 L353.5 242.1 L353.5 241.69 L354.5 241.69 L354.5 244.83 L355 244.83 L355 250.13 L355.5 250.13 L355.5 251.56 L356 251.56 L356 252.87 L356.5 252.87 L356.5 253.4 L357 253.4 L357.5 253.43 L357.5 253.11 L358 253.11 L358.5 253.15 L358.5 253.29 L359 253.29 L359.5 253.33 L359.5 253.45 L360 253.45 L360.5 253.49 L360.5 253.59 L361 253.59 L361.5 253.63 L361.5 253.7 L362 253.7 L362.5 253.73 L362.5 253.93 L363 253.93 L363 254.1 L363.5 254.1 L363.5 254.19 L364 254.19 L364 254.39 L364.5 254.39 L365 254.38 L366.5 254.37 L367 254.34 L367.5 254.34 L367.5 254.41 L368.5 254.41 L369 254.45 L369.5 254.45 L370 254.41 L371.5 254.4 L371.5 254.46 L372.5 254.46 L372.5 254.37 L373.5 254.37 L374 254.4 L374.5 254.4 L375 254.41 L376 254.41 L376 253.71 L376.5 253.71 L376.5 252.78 L377 252.78 L377 252.05 L377.5 252.05 L377.5 250.86 L378 250.86 L378 249.28 L378.5 249.28 L378.5 246.94 L379.5 246.94 L379.5 247.39 L380 247.39 L380 248.37 L380.5 248.37 L380.5 251.47 L381 251.47 L381 253.16 L381.5 253.16 L381.5 253.99 L382 253.99 L382 254.47 L382.5 254.47 L382.5 254.39 L383.5 254.39 L384 254.41 L384.5 254.41 L385 254.38 L386.5 254.37 L387 254.35 L387.5 254.35 L387.5 254.4 L388.5 254.4 L389 254.42 L390.5 254.41 L391 254.39 L391.5 254.39 L392 254.43 L392.5 254.43 L393 254.39 L393.5 254.39 L394 254.4 L394.5 254.4 L395 254.44 L395.5 254.44 L395.5 254.38 L396.5 254.38 L397 254.41 L397.5 254.41 L398 254.4 L399.5 254.4 L400 254.42 L400.5 254.42 L401 254.39 L401.5 254.39 L402 254.37 L402.5 254.37 L402.5 254.43 L403.5 254.43 L403.5 254.37 L405.5 254.37 L406 254.39 L406.5 254.39 L407 254.37 L408.5 254.37 L408.5 254.43 L409.5 254.43 L410 254.41 L410.5 254.41 L410.5 254.36 L411.5 254.36 L411.5 254.44 L412.5 254.44 L413 254.4 L413.5 254.4 L414 254.37 L414.5 254.37 L414.5 254.42 L415.5 254.42 L415.5 254.35 L416.5 254.35 L416.5 254.4 L417.5 254.4 L418 254.38 L418.5 254.38 L419 254.35 L419.5 254.35 L420 254.39 L420.5 254.39 L421 254.35 L421.5 254.35 L422 254.36 L423.5 254.36 L424 254.38 L424.5 254.38 L425 254.42 L425.5 254.42 L426 254.37 L426.5 254.37 L427 254.41 L427.5 254.41 L428 254.39 L428.5 254.39 L429 254.42 L429.5 254.42 L429.5 254.47 L430.5 254.47 L430.5 254.39 L431.5 254.39 L432 254.43 L434 254.42 L434 253.89 L434.5 253.89 L434.5 252.93 L435 252.93 L435 252.22 L435.5 252.22 L435.5 252.83 L436 252.83 L436 253.41 L436.5 253.41 L436.5 253.6 L437 253.6 L437 254.38 L438.5 254.37 L438.5 254.43 L441 254.41 L441.5 254.41 L442 254.45 L442.5 254.45 L442.5 254.39 L444.5 254.4 L445 254.43 L445.5 254.43 L446 254.45 L446.5 254.45 L446.5 254.38 L447.5 254.38 L447.5 254.47 L448.5 254.47 L449 254.44 L449.5 254.44 L450 254.43 L451.5 254.43 L452 254.39 L452.5 254.39 L453 254.35 L453.5 254.35 L454 254.39 L454.5 254.39 L455 254.35 L455.5 254.35 L455.5 254.43 L457.5 254.44 L457.5 254.36 L458.5 254.36 L459 254.37 L459.5 254.37 L459.5 254.46 L460.5 254.46 L460.5 254.39 L461.5 254.39 L462 254.43 L462.5 254.43 L463 254.38 L463.5 254.38 L464 254.39 L464.5 254.39 L465 254.36 L465.5 254.36 L466 254.38 L466.5 254.38 L466.5 254.47 L467.5 254.47 L468 254.45 L468.5 254.45 L469 254.41 L469.5 254.41 L470 254.4 L470.5 254.4 L471 254.35 L471.5 254.35 L472 254.38 L472.5 254.38 L472.5 254.43 L473.5 254.43 L474 254.38 L474.5 254.38 L475 254.4 L476.5 254.41 L477 254.39 L477.5 254.39 L478 254.41 L478.5 254.41 L479 254.38 L479.5 254.38 L479.5 254.44 L480.5 254.44 L480.5 254.33 L481.5 254.33 L481.5 254.38 L482.5 254.38 L483 254.42 L483.5 254.42 L484 254.41 L484.5 254.41 L485 254.37 L486.5 254.37 L486.5 254.45 L487.5 254.45 L487.5 254.38 L489.5 254.37 L490 254.39 L491.5 254.39 L492 254.41 L492.5 254.41 L493 254.44 L493.5 254.44 L493.5 254.38 L494.5 254.38 L495 254.4 L495.5 254.4 L496 254.38 L496.5 254.38 L497 254.39 L497.5 254.39 L498 254.37 L498.5 254.37 L499 254.35 L499.5 254.35 L500 254.39 L500.5 254.39 L501 254.42 L501.5 254.42 L502 254.37 L503.5 254.36 L503.5 254.46 L504.5 254.46 L504.5 254.39 L505.5 254.39 L506 254.44 L506.5 254.44 L507 254.4 L507.5 254.4 L507.5 254.35 L508.5 254.35 L509 254.39 L509.5 254.39 L510 254.4 L510.5 254.4 L510.7 254.6Z" fill="#262a8c"/>
<rect x="52.5" y="271.7" width="458.2" height="1.4" fill="#34376e"/>
<path d="M52.5 272.1 L52.5 267.6 L53 267.6 L53 267.72 L53.5 267.72 L53.5 268.06 L54 268.06 L54 268.16 L54.5 268.16 L54.5 268.1 L55 268.1 L55 268.22 L55.5 268.22 L55.5 270.07 L56 270.07 L56 268.18 L57.5 268.18 L57.5 271.11 L58 271.11 L58 271.02 L58.5 271.02 L58.5 269.04 L60 269.04 L60 270.92 L60.5 270.92 L60.5 270.68 L61 270.68 L61 270.5 L61.5 270.5 L61.5 270.25 L62.5 270.25 L62.5 270.75 L63 270.75 L63 271.15 L63.5 271.15 L63.5 271.28 L64 271.28 L64 270.36 L65 270.36 L65 270.81 L65.5 270.81 L65.5 271.19 L66.5 271.19 L66.5 270.92 L67.5 270.92 L67.5 271.27 L68.5 271.27 L68.5 271.13 L69.5 271.13 L69.5 271 L70.5 271 L70.5 270.8 L71.5 270.8 L71.5 269.23 L72.5 269.23 L72.5 270.53 L73.5 270.53 L73.5 271.05 L74.5 271.05 L74.5 270.76 L75 270.76 L75 270 L76 270 L76 270.29 L77 270.29 L77 271.08 L77.5 271.08 L77.5 271.17 L78 271.17 L78 268.67 L79 268.67 L79 270.15 L80 270.15 L80.5 270.19 L80.5 271.17 L81.5 271.17 L81.5 270.88 L82.5 270.88 L82.5 270.75 L83.5 270.75 L83.5 271.21 L84.5 271.21 L84.5 270.63 L85.5 270.63 L85.5 270.76 L86 270.76 L86 269.3 L87 269.3 L87 270.87 L87.5 270.87 L87.5 268.18 L88.5 268.18 L88.5 270.4 L89 270.4 L89 269.32 L90 269.32 L90 270.97 L90.5 270.97 L90.5 268.3 L92 268.3 L92 270.57 L93 270.57 L93 270.85 L93.5 270.85 L93.5 270.75 L94.5 270.75 L94.5 270.94 L96.5 270.94 L96.5 270.79 L97.5 270.79 L97.5 270.96 L98.5 270.96 L99 270.92 L99 268.45 L100 268.45 L100 270.89 L100.5 270.89 L100.5 269.05 L101.5 269.05 L101.5 269.45 L103 269.45 L103 270.68 L103.5 270.68 L103.5 270.22 L104 270.22 L104 270.13 L104.5 270.13 L104.5 270.19 L105 270.19 L105 270.11 L105.5 270.11 L105.5 270.06 L106 270.06 L106 269.98 L106.5 269.98 L106.5 268.7 L108 268.7 L108 268.57 L108.5 268.57 L108.5 267.14 L109 267.14 L109 266.49 L109.5 266.49 L109.5 260.55 L110 260.55 L110 259.31 L110.5 259.31 L110.5 258.54 L111 258.54 L111 261.11 L111.5 261.11 L111.5 267.35 L112 267.35 L112 268.48 L112.5 268.48 L112.5 268.74 L113 268.74 L113 269.51 L113.5 269.51 L113.5 270.08 L114 270.08 L114 270.75 L114.5 270.75 L114.5 268.61 L116 268.61 L116 269.67 L117 269.67 L117 270.84 L117.5 270.84 L117.5 270.97 L118 270.97 L118 269.27 L119 269.27 L119 270.91 L119.5 270.91 L119.5 270.24 L120 270.24 L120 270.8 L120.5 270.8 L121 270.81 L121.5 270.81 L121.5 271.11 L122 271.11 L122 269.27 L123 269.27 L123 270.82 L123.5 270.82 L123.5 271.14 L124 271.14 L124 271.07 L124.5 271.07 L124.5 267.96 L125.5 267.96 L125.5 270.28 L126 270.28 L126 270.99 L126.5 270.99 L127 271.02 L127.5 271.02 L128 270.97 L128.5 270.97 L128.5 271.16 L129 271.16 L129 270.6 L130.5 270.6 L130.5 270.81 L131.5 270.81 L132 270.76 L132 270.12 L132.5 270.12 L132.5 269.69 L133.5 269.69 L133.5 269.45 L134.5 269.45 L134.5 270.73 L135.5 270.73 L135.5 271.12 L136.5 271.12 L136.5 269.32 L137 269.32 L137 267.6 L137.5 267.6 L137.5 266.67 L138.5 266.67 L138.5 267.35 L139 267.35 L139 269.98 L140 269.98 L140 271.1 L140.5 271.1 L141 271.12 L141.5 271.12 L141.5 269.99 L142.5 269.99 L142.5 271.01 L143 271.01 L143 269.51 L144 269.51 L144 270.22 L145.5 270.22 L145.5 270.76 L146 270.76 L146 270.31 L147.5 270.31 L147.5 271.26 L148.5 271.26 L148.5 271.09 L149.5 271.09 L150 271.07 L150 270.13 L151 270.13 L151 271.08 L151.5 271.08 L151.5 268.55 L153 268.55 L153 270.89 L153.5 270.89 L153.5 271.09 L154.5 271.09 L154.5 271.34 L155.5 271.34 L155.5 270.82 L156.5 270.82 L156.5 271.15 L157.5 271.15 L158 271.13 L158.5 271.13 L158.5 271.03 L159.5 271.03 L159.5 270.66 L160.5 270.66 L160.5 270.85 L161 270.85 L161 270.24 L162 270.24 L162 270.74 L162.5 270.74 L162.5 268.92 L163.5 268.92 L163.5 270.46 L164.5 270.46 L164.5 271.53 L165 271.53 L165 270.4 L165.5 270.4 L165.5 270.33 L166.5 270.33 L166.5 271.58 L167.5 271.58 L167.5 271.34 L168 271.34 L168 270.89 L168.5 270.89 L168.5 268.63 L169 268.63 L169 270.52 L169.5 270.52 L169.5 270.39 L170 270.39 L170 268.15 L171 268.15 L171 271.11 L171.5 271.11 L171.5 269.81 L173 269.81 L173 269.28 L173.5 269.28 L173.5 270.85 L174.5 270.85 L174.5 270.77 L175.5 270.77 L175.5 270.65 L176.5 270.65 L176.5 270.97 L177.5 270.97 L177.5 270.25 L179 270.25 L179 271.13 L179.5 271.13 L179.5 271.23 L180.5 271.23 L181 271.2 L181.5 271.2 L181.5 271.03 L182.5 271.03 L183 271.07 L184 271.07 L184 269.86 L185 269.86 L185 270.13 L185.5 270.13 L185.5 270.25 L186 270.25 L186 268.56 L187 268.56 L187 271.14 L187.5 271.14 L187.5 271.02 L188.5 271.02 L188.5 271.28 L189.5 271.28 L189.5 271.11 L190.5 271.11 L190.5 271 L191.5 271 L191.5 271.22 L192 271.22 L192 271.14 L192.5 271.14 L192.5 268.34 L194 268.34 L194 270.65 L194.5 270.65 L194.5 268.53 L195 268.53 L195 270.63 L195.5 270.63 L195.5 270.76 L196 270.76 L196 271.16 L196.5 271.16 L196.5 270.94 L197.5 270.94 L197.5 271.38 L198.5 271.38 L198.5 270.94 L199.5 270.94 L199.5 270.22 L200.5 270.22 L200.5 271.13 L201.5 271.13 L202 271.15 L202.5 271.15 L202.5 270.96 L203.5 270.96 L203.5 268.72 L205 268.72 L205 270.78 L206 270.78 L206 268.28 L207 268.28 L207 270.48 L207.5 270.48 L207.5 270.71 L208 270.71 L208 271.2 L208.5 271.2 L208.5 271.03 L209 271.03 L209 269.87 L209.5 269.87 L209.5 268.73 L210.5 268.73 L210.5 271.16 L211.5 271.16 L211.5 270.89 L212 270.89 L212 270.72 L212.5 270.72 L212.5 271.09 L213.5 271.09 L213.5 270.39 L214 270.39 L214 268.17 L215 268.17 L215 270.97 L215.5 270.97 L215.5 271.1 L216.5 271.1 L216.5 271.04 L217.5 271.04 L217.5 270.97 L218 270.97 L218 269.24 L219.5 269.24 L219.5 268.41 L220.5 268.41 L220.5 270.12 L221 270.12 L221 269.91 L221.5 269.91 L221.5 271.1 L222.5 271.1 L223 271.14 L223.5 271.14 L223.5 271.08 L224 271.08 L224 269.68 L225 269.68 L225 270.02 L226 270.02 L226 271 L226.5 271 L226.5 270.56 L227.5 270.56 L227.5 271.01 L228 271.01 L228 269.47 L228.5 269.47 L228.5 268.74 L229.5 268.74 L229.5 270.99 L230 270.99 L230 271.07 L231 271.07 L231.5 271.1 L231.5 271.27 L232 271.27 L232.5 271.29 L232.5 271.12 L233 271.12 L233.5 271.15 L233.5 271.24 L234 271.24 L234.5 271.27 L234.5 271.46 L235 271.46 L235.5 271.48 L236 271.51 L236.5 271.53 L237 271.51 L237.5 271.53 L238 271.55 L238.5 271.57 L239 271.61 L239.5 271.63 L239.5 271.54 L240 271.54 L240.5 271.57 L240.5 271.63 L241.5 271.63 L242 271.61 L243.5 271.61 L244 271.66 L244.5 271.66 L244.5 271.6 L246.5 271.61 L246.5 271.53 L247 271.53 L247 271.43 L247.5 271.43 L247.5 270.4 L248 270.4 L248 271.36 L248.5 271.36 L248.5 271.59 L249.5 271.59 L249.5 271.49 L250.5 271.49 L250.5 271.18 L251 271.18 L251 271.56 L251.5 271.56 L252 271.6 L252.5 271.6 L252.5 271.52 L253.5 271.52 L254 271.55 L254.5 271.55 L254.5 271.62 L255.5 271.62 L256 271.6 L256.5 271.6 L257 271.63 L257.5 271.63 L258 271.59 L258.5 271.59 L259 271.57 L259.5 271.57 L259.5 271.62 L260.5 271.62 L261 271.64 L261.5 271.64 L262 271.62 L262 271.51 L262.5 271.51 L262.5 270.32 L263.5 270.32 L263.5 271.38 L264 271.38 L264 271.48 L264.5 271.48 L264.5 271.68 L266.5 271.68 L267 271.66 L267.5 271.66 L267.5 271.24 L268 271.24 L268 271.57 L269.5 271.58 L270 271.56 L271.5 271.55 L272 271.59 L272.5 271.59 L272.5 271.48 L273.5 271.48 L273.5 271.59 L274.5 271.59 L275 271.61 L275.5 271.61 L276 271.63 L276.5 271.63 L276.5 271.48 L277.5 271.48 L278 271.52 L278.5 271.52 L279 271.48 L279.5 271.48 L280 271.5 L280.5 271.5 L280.5 271.61 L281.5 271.61 L281.5 271.56 L282.5 271.56 L283 271.59 L283.5 271.59 L283.5 271.47 L284.5 271.47 L284.5 271.65 L285.5 271.65 L286 271.64 L286.5 271.64 L286.5 271.48 L287.5 271.48 L288 271.51 L288.5 271.51 L288.5 271.57 L289.5 271.57 L289.5 271.68 L290.5 271.68 L290.5 271.58 L291.5 271.58 L291.5 271.47 L292.5 271.47 L292.5 271.54 L293.5 271.54 L293.5 271.64 L294.5 271.64 L294.5 271.48 L295.5 271.48 L295.5 271.63 L297.5 271.62 L297.5 271.48 L298.5 271.48 L299 271.5 L299.5 271.5 L299.5 271.71 L300.5 271.71 L300.5 271.64 L301.5 271.64 L301.5 271.58 L302.5 271.58 L303 271.55 L303.5 271.55 L304 271.59 L304.5 271.59 L305 271.58 L307.5 271.59 L307.5 271.67 L308.5 271.67 L308.5 271.56 L309.5 271.56 L310 271.59 L310.5 271.59 L311 271.62 L311.5 271.62 L312 271.65 L312.5 271.65 L312.5 271.6 L314.5 271.6 L315 271.65 L315.5 271.65 L315.5 271.54 L316.5 271.54 L316.5 271.63 L318.5 271.63 L319 271.68 L319.5 271.68 L319.5 271.75 L320.5 271.75 L320.5 271.54 L321.5 271.54 L321.5 271.61 L322.5 271.61 L323 271.64 L323.5 271.64 L323.5 270.54 L324.5 270.54 L324.5 271.43 L325 271.43 L325 271.64 L325.5 271.64 L326 271.68 L326.5 271.68 L327 271.66 L327.5 271.66 L328 271.64 L328.5 271.64 L329 271.61 L330.5 271.62 L330.5 271.39 L331.5 271.39 L331.5 271.52 L332.5 271.52 L332.5 271.66 L333.5 271.66 L333.5 271.75 L334.5 271.75 L334.5 271.66 L335.5 271.66 L335.5 271.58 L336.5 271.58 L336.5 271.47 L337.5 271.47 L337.5 271.61 L339.5 271.6 L340 271.62 L340.5 271.62 L340.5 271.55 L341.5 271.55 L341.5 271.46 L342.5 271.46 L342.5 271.67 L343.5 271.67 L344 271.66 L344.5 271.66 L344.5 271.6 L346.5 271.61 L347 271.63 L347.5 271.63 L347.5 271.46 L348.5 271.46 L348.5 271.53 L349.5 271.53 L350 271.55 L350.5 271.55 L350.5 270.93 L351 270.93 L351 270.18 L351.5 270.18 L351.5 269.53 L353.5 269.53 L353.5 268.61 L354 268.61 L354 269.5 L354.5 269.5 L354.5 270.83 L355 270.83 L355 271.62 L355.5 271.62 L356 271.6 L356.5 271.6 L356.5 271.51 L357.5 271.51 L357.5 271.65 L358.5 271.65 L358.5 271.54 L359.5 271.54 L360 271.51 L360.5 271.51 L360.5 271.58 L362.5 271.59 L363 271.61 L363.5 271.61 L363.5 271.75 L364.5 271.75 L364.5 271.5 L365 271.5 L365 271.59 L365.5 271.59 L366 271.55 L366.5 271.55 L366.5 271.69 L367.5 271.69 L367.5 271.64 L368.5 271.64 L368.5 271.54 L370.5 271.55 L371 271.57 L371.5 271.57 L371.5 271.63 L372.5 271.63 L372.5 271.58 L373 271.58 L373 270.48 L374.5 270.48 L374.5 271.55 L375 271.55 L375.5 271.51 L376 271.51 L376.5 271.54 L376.5 271.66 L377 271.66 L377 271.36 L377.5 271.36 L377.5 271.59 L378.5 271.59 L378.5 271.68 L379.5 271.68 L379.5 271.57 L380.5 271.57 L380.5 271.52 L381.5 271.52 L381.5 271.73 L382.5 271.73 L382.5 271.56 L383.5 271.56 L384 271.6 L384.5 271.6 L385 271.58 L385.5 271.58 L385.5 271.51 L386.5 271.51 L387 271.54 L387.5 271.54 L387.5 271.47 L388.5 271.47 L388.5 271.56 L389.5 271.56 L389.5 271.63 L390.5 271.63 L390.5 271.7 L391.5 271.7 L392 271.67 L392.5 271.67 L393 271.65 L393 271.31 L394 271.31 L394 271.56 L394.5 271.56 L394.5 271.68 L395 271.68 L395 271.61 L396 271.61 L396 271.69 L396.5 271.69 L396.5 271.59 L397.5 271.59 L397.5 271.53 L398.5 271.53 L398.5 271.62 L399.5 271.62 L399.5 271.75 L400.5 271.75 L400.5 271.57 L401.5 271.57 L401.5 271.69 L402.5 271.69 L402.5 270.77 L404 270.77 L404 271.55 L404.5 271.55 L404.5 271.73 L405.5 271.73 L405.5 271.65 L406.5 271.65 L406.5 271.51 L407.5 271.51 L408 271.48 L408.5 271.48 L409 271.5 L409 271.72 L410.5 271.72 L410.5 271.61 L411.5 271.61 L411.5 271.46 L412.5 271.46 L412.5 271.53 L413.5 271.53 L414 271.49 L414.5 271.49 L415 271.54 L415.5 271.54 L415.5 271.59 L416.5 271.59 L416.5 271.71 L417.5 271.71 L417.5 271.61 L418.5 271.61 L418.5 271.18 L419 271.18 L419 271.56 L419.5 271.56 L419.5 271.71 L421.5 271.71 L421.5 271.48 L422.5 271.48 L422.5 271.53 L423 271.53 L423 271.66 L423.5 271.66 L423.5 271.61 L424.5 271.61 L425 271.59 L425.5 271.59 L425.5 271.67 L426.5 271.67 L426.5 271.54 L429 271.55 L429.5 271.55 L430 271.52 L430.5 271.52 L430.5 271.59 L431 271.59 L431 271.15 L432 271.15 L432 271.6 L432.5 271.6 L432.5 271.52 L433.5 271.52 L434 271.5 L434.5 271.5 L434.5 271.55 L435.5 271.55 L435.5 271.72 L436.5 271.72 L436.5 271.58 L438.5 271.57 L439 271.62 L439.5 271.62 L440 271.6 L440.5 271.6 L440.5 271.72 L441 271.72 L441 271.21 L442.5 271.21 L442.5 271.51 L443.5 271.51 L444 271.55 L444.5 271.55 L444.5 271.6 L445.5 271.6 L446 271.64 L446.5 271.64 L447 271.61 L447.5 271.61 L447.5 271.71 L448.5 271.71 L448.5 271.59 L449.5 271.59 L449.5 271.44 L450 271.44 L450 270.95 L450.5 270.95 L450.5 271.6 L451.5 271.6 L452 271.63 L453.5 271.63 L454 271.6 L455.5 271.6 L455.5 271.66 L457.5 271.66 L458 271.61 L458.5 271.61 L459 271.57 L459.5 271.57 L459.5 271.63 L460.5 271.63 L460.5 271.55 L461.5 271.55 L461.5 271.64 L462.5 271.64 L462.5 271.54 L463.5 271.54 L463.5 271.71 L464.5 271.71 L464.5 271.57 L466.5 271.57 L467 271.6 L467.5 271.6 L467.5 271.77 L468.5 271.77 L468.5 271.57 L469.5 271.57 L469.5 271.66 L470.5 271.66 L471 271.68 L471.5 271.68 L471.5 271.56 L472.5 271.56 L472.5 271.67 L473.5 271.67 L474 271.63 L474.5 271.63 L474.5 271.52 L475.5 271.52 L475.5 271.59 L476.5 271.59 L477 271.56 L478.5 271.56 L479 271.58 L479.5 271.58 L479.5 271.73 L480.5 271.73 L480.5 271.59 L481.5 271.59 L481.5 271.66 L482.5 271.66 L482.5 271.6 L483.5 271.6 L484 271.65 L484.5 271.65 L484.5 271.6 L485.5 271.6 L486 271.55 L486.5 271.55 L486.5 271.5 L487.5 271.5 L487.5 271.72 L488.5 271.72 L488.5 271.49 L489.5 271.49 L489.5 270.88 L490 270.88 L490 271.53 L490.5 271.53 L490.5 271.67 L491.5 271.67 L491.5 271.58 L492.5 271.58 L493 271.54 L493.5 271.54 L493.5 271.69 L494.5 271.69 L495 271.7 L495.5 271.7 L495.5 271.57 L496.5 271.57 L497 271.56 L497.5 271.56 L498 271.53 L498.5 271.53 L499 271.56 L499.5 271.56 L500 271.55 L502.5 271.54 L502.5 271.64 L503.5 271.64 L504 271.62 L504 271.5 L504.5 271.5 L504.5 270.49 L505 270.49 L505 271.5 L505.5 271.5 L505.5 271.58 L506.5 271.58 L507 271.54 L507.5 271.54 L507.5 271.61 L508.5 271.61 L509 271.59 L509.5 271.59 L510 271.61 L510.5 271.61 L510.7 272.1Z" fill="#262a8c"/>
<rect x="52.5" y="289.15" width="458.2" height="1.3" fill="#8284ab"/>
<path d="M52.5 289.5 L71.5 289.5 L72 289.45 L72 289.23 L72.5 289.23 L72.5 288.5 L74 288.5 L74 289.23 L74.5 289.23 L74.5 289.45 L75 289.45 L75.5 289.5 L80.5 289.5 L80.5 289.06 L81 289.06 L81 287.6 L81.5 287.6 L81.5 283 L83 283 L83 287.6 L83.5 287.6 L83.5 289.06 L84 289.06 L84 289.5 L109.5 289.5 L109.5 286.57 L110 286.57 L110 276.5 L112 276.5 L112 285.99 L112.5 285.99 L112.5 288.92 L113 288.92 L113 289.5 L152.5 289.5 L153 289.45 L153 289.23 L153.5 289.23 L153.5 288.5 L155 288.5 L155 289.23 L155.5 289.23 L155.5 289.45 L156 289.45 L156.5 289.5 L174.5 289.5 L174.5 289.45 L175 289.45 L175 289.18 L175.5 289.18 L175.5 288.3 L177 288.3 L177 289.18 L177.5 289.18 L177.5 289.45 L178 289.45 L178 289.5 L351.5 289.5 L351.5 288.69 L352 288.69 L352 285.99 L352.5 285.99 L352.5 277.5 L354 277.5 L354 284.91 L354.5 284.91 L354.5 287.61 L355 287.61 L355 289.5 L377.5 289.5 L377.5 289.05 L378 289.05 L378 288.49 L378.5 288.49 L378.5 287 L379.5 287 L379.5 288.6 L380 288.6 L380 289.16 L380.5 289.16 L380.5 289.5 L510.7 289.5Z" fill="#3a3f94"/>
<path d="M52.5 402.2 L52.5 394.75 L53.5 394.75 L54 394.8 L54 395.66 L54.5 395.66 L54.5 397.8 L55.5 397.79 L55.5 398.02 L56 398.02 L56 398.3 L56.5 398.3 L56.5 396.57 L57 396.57 L57.5 396.56 L57.5 397.94 L58.5 397.93 L58.5 397.32 L59 397.32 L59.5 397.31 L59.5 396.74 L60 396.74 L60.5 396.73 L60.5 396.94 L61 396.94 L61.5 396.93 L61.5 395.8 L63 395.8 L63 398.07 L63.5 398.07 L63.5 398.28 L64.5 398.27 L64.5 396.1 L65 396.1 L65.5 396.08 L65.5 394.8 L67 394.8 L67 397.8 L67.5 397.8 L67.5 398.33 L68 398.33 L68 398.17 L68.5 398.17 L68.5 397.98 L69 397.98 L69 395.8 L70.5 395.8 L70.5 395.26 L71 395.26 L71 393.37 L71.5 393.37 L71.5 390 L73 390 L73 391.98 L73.5 391.98 L73.5 390.91 L74 390.91 L74 390.78 L74.5 390.78 L74.5 391.8 L76 391.8 L76 391.71 L76.5 391.71 L76.5 391.9 L77 391.9 L77 391.83 L77.5 391.83 L77.5 390.3 L79.5 390.3 L79.5 394.47 L80 394.47 L80 391.8 L80.5 391.8 L80.5 389.98 L81 389.98 L81 390.22 L81.5 390.22 L81.5 394.72 L82 394.72 L82 394.87 L82.5 394.87 L82.5 388.8 L84 388.8 L84 395.92 L84.5 395.92 L84.5 393.72 L85 393.72 L85 393.92 L85.5 393.92 L85.5 394.68 L86 394.68 L86 396.44 L86.5 396.44 L86.5 398.37 L87 398.37 L87 394.8 L88.5 394.8 L88.5 398.37 L89.5 398.37 L89.5 397.61 L90.5 397.61 L90.5 397.03 L91.5 397.03 L91.5 396.47 L92.5 396.47 L92.5 397.62 L93.5 397.62 L93.5 396.42 L94.5 396.42 L94.5 396.14 L95.5 396.14 L95.5 396.38 L96.5 396.38 L96.5 396.47 L97.5 396.47 L97.5 396.95 L98.5 396.95 L98.5 397.46 L99.5 397.46 L99.5 397.11 L100.5 397.11 L100.5 396.8 L101 396.8 L101 396.04 L101.5 396.04 L101.5 394.82 L102 394.82 L102 394.74 L102.5 394.74 L102.5 394.8 L104 394.8 L104 395.98 L104.5 395.98 L104.5 396.45 L105 396.45 L105.5 396.4 L105.5 393.69 L106 393.69 L106 392.17 L106.5 392.17 L106.5 392.94 L107.5 392.94 L107.5 390.8 L109 390.8 L109 391.37 L109.5 391.37 L109.5 390.8 L110.5 390.8 L110.5 390.57 L111.5 390.57 L111.5 391.73 L112.5 391.73 L112.5 391.66 L113 391.66 L113 392.59 L113.5 392.59 L113.5 395.53 L114 395.53 L114 395.97 L114.5 395.97 L114.5 395.05 L115 395.05 L115 395.58 L115.5 395.58 L115.5 395.94 L116 395.94 L116 396.09 L116.5 396.09 L116.5 395.8 L117 395.8 L117 395.97 L117.5 395.97 L117.5 395.62 L118 395.62 L118 395.83 L118.5 395.83 L118.5 394.8 L120 394.8 L120 397.58 L120.5 397.58 L120.5 396.97 L121.5 396.97 L121.5 395.83 L122.5 395.83 L122.5 396.16 L123.5 396.16 L123.5 395.06 L124.5 395.06 L124.5 395.2 L125 395.2 L125 388.8 L126.5 388.8 L126.5 391.8 L128 391.8 L128 391.92 L128.5 391.92 L128.5 395.65 L129.5 395.65 L129.5 395.27 L130.5 395.27 L130.5 394.23 L131 394.23 L131 397.2 L131.5 397.2 L131.5 398.2 L132.5 398.2 L132.5 398.85 L133.5 398.85 L133.5 396.9 L134.5 396.9 L134.5 397.32 L135.5 397.32 L135.5 397.85 L136.5 397.85 L136.5 396.97 L137.5 396.97 L137.5 396.8 L139 396.8 L139 398.72 L139.5 398.72 L139.5 398.28 L140.5 398.28 L140.5 398.43 L141.5 398.43 L141.5 398.71 L142.5 398.71 L142.5 397.68 L143.5 397.68 L143.5 396.8 L145 396.8 L145 397.81 L145.5 397.81 L145.5 398.12 L146.5 398.12 L146.5 397.71 L147.5 397.71 L147.5 397.65 L148.5 397.65 L148.5 397.92 L149.5 397.92 L149.5 397.17 L150.5 397.17 L150.5 394.8 L152 394.8 L152 395.52 L152.5 395.52 L152.5 393.97 L153.5 393.97 L153.5 394.72 L154.5 394.72 L154.5 394.13 L155.5 394.13 L155.5 392.29 L156 392.29 L156 389.8 L157.5 389.8 L157.5 394.28 L158.5 394.28 L158.5 396.24 L159 396.24 L159 398.14 L159.5 398.14 L159.5 398.34 L160.5 398.34 L160.5 397.78 L161.5 397.78 L161.5 399.24 L162.5 399.24 L162.5 398.99 L163.5 398.99 L163.5 397.96 L164.5 397.96 L165 397.91 L165.5 397.91 L165.5 399.31 L166 399.31 L166 398.82 L166.5 398.82 L166.5 398.36 L167.5 398.36 L167.5 398.28 L168.5 398.28 L168.5 397.31 L169 397.31 L169 396.43 L169.5 396.43 L169.5 396.8 L171 396.8 L171 397.14 L171.5 397.14 L171.5 396.2 L172.5 396.2 L172.5 396.67 L173 396.67 L173 395.24 L173.5 395.24 L173.5 395.06 L174.5 395.06 L174.5 391.3 L176 391.3 L176 393.47 L176.5 393.47 L176.5 392.33 L177.5 392.33 L177.5 390.9 L178.5 390.9 L178.5 395.84 L179.5 395.84 L179.5 392.4 L180.5 392.4 L180.5 393.89 L181.5 393.89 L181.5 391.81 L182 391.81 L182 389.8 L184 389.8 L184 391.37 L184.5 391.37 L184.5 394.17 L185.5 394.17 L185.5 390.8 L187 390.8 L187 393.84 L187.5 393.84 L187.5 396.78 L188 396.78 L188 398.76 L188.5 398.76 L188.5 398.44 L189.5 398.44 L189.5 399.17 L190.5 399.17 L190.5 398.09 L191.5 398.09 L191.5 398.62 L192.5 398.62 L192.5 397.61 L193.5 397.61 L193.5 398.42 L194.5 398.42 L194.5 398 L195.5 398 L195.5 397.73 L196.5 397.73 L196.5 398.18 L197.5 398.18 L197.5 397.94 L198 397.94 L198 396.95 L198.5 396.95 L198.5 394.8 L200.5 394.8 L200.5 396.43 L201.5 396.43 L201.5 396.3 L202 396.3 L202 396.99 L202.5 396.99 L202.5 396.65 L203.5 396.65 L203.5 398.22 L204.5 398.22 L205 398.25 L205.5 398.25 L205.5 398.06 L206.5 398.06 L206.5 397.66 L207.5 397.66 L207.5 396.53 L208.5 396.53 L208.5 396.3 L210 396.3 L210 396.85 L210.5 396.85 L210.5 398 L211.5 398 L211.5 398.21 L212.5 398.21 L212.5 397.25 L213.5 397.25 L213.5 397.07 L214.5 397.07 L214.5 397.39 L215.5 397.39 L215.5 397.25 L216 397.25 L216 396.29 L216.5 396.29 L216.5 393.8 L218 393.8 L218 396.58 L218.5 396.58 L218.5 393.23 L219.5 393.23 L219.5 394.37 L220.5 394.37 L220.5 396.21 L221 396.21 L221 397.3 L221.5 397.3 L221.5 396.3 L222.5 396.3 L222.5 396.78 L223.5 396.78 L223.5 396.7 L224.5 396.7 L224.5 398.05 L225.5 398.05 L225.5 397.99 L226.5 397.99 L226.5 398.44 L227 398.44 L227 398.51 L227.5 398.51 L227.5 397.13 L228.5 397.13 L228.5 397.88 L229.5 397.88 L229.5 397.5 L230.5 397.5 L230.5 397.29 L231.5 397.29 L231.5 397.18 L232.5 397.18 L232.5 397.72 L233 397.72 L233 397.96 L233.5 397.96 L233.5 398.24 L234 398.24 L234 398.53 L234.5 398.53 L234.5 398.69 L235 398.69 L235 398.98 L235.5 398.98 L235.5 399.58 L236 399.58 L236 399.81 L236.5 399.81 L236.5 400.27 L237 400.27 L237 400.43 L237.5 400.43 L237.5 400.22 L238.5 400.22 L238.5 400.01 L239.5 400.01 L240 400.03 L240.5 400.03 L240.5 400.14 L241.5 400.14 L241.5 399.95 L242.5 399.95 L242.5 400.08 L243.5 400.08 L243.5 400.16 L244.5 400.16 L244.5 400.32 L245 400.32 L245 399.99 L245.5 399.99 L245.5 398.8 L247 398.8 L247 399.99 L247.5 399.99 L247.5 400.08 L248.5 400.08 L248.5 400.19 L249.5 400.19 L249.5 399.99 L250.5 399.99 L250.5 400.18 L251.5 400.18 L251.5 400.23 L252.5 400.23 L252.5 400.3 L253.5 400.3 L253.5 400.23 L254.5 400.23 L254.5 400.12 L255.5 400.12 L255.5 400.33 L256 400.33 L256 399.99 L256.5 399.99 L256.5 398.8 L258 398.8 L258 399.99 L258.5 399.99 L258.5 400.15 L259.5 400.15 L260 400.11 L260.5 400.11 L260.5 399.99 L261.5 399.99 L261.5 400.37 L262.5 400.37 L262.5 400.1 L263.5 400.1 L263.5 400.21 L264.5 400.21 L264.5 400.35 L265.5 400.35 L265.5 399.91 L266.5 399.91 L266.5 400.24 L267.5 400.24 L268 400.21 L268.5 400.21 L268.5 400.29 L269.5 400.29 L270 400.28 L270.5 400.28 L270.5 400.35 L271.5 400.35 L271.5 400.29 L272.5 400.29 L272.5 400.39 L273.5 400.39 L273.5 400.18 L274 400.18 L274 399.99 L274.5 399.99 L274.5 398.8 L276 398.8 L276 399.99 L276.5 399.99 L276.5 400.24 L277.5 400.24 L277.5 400.09 L278.5 400.09 L278.5 399.65 L279 399.65 L279 399.22 L279.5 399.22 L279.5 398.53 L280 398.53 L280 392.4 L282.5 392.4 L282.5 398.53 L283 398.53 L283 398.74 L283.5 398.74 L283.5 397.7 L284.5 397.7 L284.5 397.8 L285.5 397.8 L285.5 399.74 L286.5 399.74 L286.5 399.41 L287 399.41 L287 399.18 L287.5 399.18 L287.5 397.16 L288 397.16 L288 391.8 L290.5 391.8 L290.5 398.4 L291.5 398.4 L291.5 398.71 L292.5 398.71 L292.5 398.45 L293.5 398.45 L293.5 394.8 L296 394.8 L296 399.18 L296.5 399.18 L296.5 398.45 L297.5 398.45 L297.5 398.86 L298.5 398.86 L298.5 396.8 L301 396.8 L301 397.81 L301.5 397.81 L301.5 398.89 L302.5 398.89 L302.5 399.54 L303 399.54 L303 397.97 L303.5 397.97 L303.5 393.8 L306 393.8 L306 398.58 L306.5 398.58 L306.5 398.14 L307.5 398.14 L307.5 399.03 L308.5 399.03 L308.5 398.74 L309.5 398.74 L309.5 398.98 L310.5 398.98 L310.5 398.76 L311.5 398.76 L311.5 398.17 L312.5 398.17 L312.5 392.8 L315 392.8 L315 397.92 L315.5 397.92 L315.5 398.67 L316.5 398.67 L316.5 398.1 L317.5 398.1 L317.5 398.98 L318.5 398.98 L318.5 397.56 L319 397.56 L319 392.8 L321.5 392.8 L321.5 398.55 L323 398.56 L323 398.96 L323.5 398.96 L323.5 399.61 L324 399.61 L324 399.94 L324.5 399.94 L324.5 400.18 L325.5 400.18 L326 400.14 L326.5 400.14 L326.5 400.29 L327.5 400.29 L327.5 400.2 L328.5 400.2 L328.5 400.12 L329.5 400.12 L329.5 399.96 L330.5 399.96 L330.5 399.77 L331.5 399.77 L331.5 398.8 L333 398.8 L333 399.99 L333.5 399.99 L333.5 400.28 L334.5 400.28 L334.5 400.14 L335.5 400.14 L335.5 399.89 L336.5 399.89 L336.5 399.74 L337.5 399.74 L337.5 400.22 L338.5 400.22 L338.5 400.04 L339.5 400.04 L339.5 400.09 L340.5 400.09 L341 400.11 L341.5 400.11 L341.5 399.84 L342.5 399.84 L342.5 399.68 L343.5 399.68 L343.5 400.09 L344.5 400.09 L344.5 400 L345.5 400 L345.5 400.11 L346.5 400.11 L346.5 395.87 L347 395.87 L347 392.36 L347.5 392.36 L347.5 392.05 L348.5 392.05 L348.5 393.2 L349.5 393.2 L349.5 393.58 L350.5 393.58 L350.5 386.8 L352.5 386.8 L352.5 392.67 L353.5 392.67 L353.5 388.8 L355 388.8 L355 395.7 L355.5 395.7 L355.5 393.07 L356 393.07 L356 392.8 L357.5 392.8 L357.5 393.21 L358.5 393.21 L358.5 395.01 L359.5 395.01 L359.5 394.74 L360 394.74 L360 392.8 L362 392.8 L362 396.38 L362.5 396.38 L362.5 398.03 L363.5 398.03 L363.5 398.39 L364.5 398.39 L364.5 397.95 L365.5 397.95 L365.5 394.8 L367.5 394.8 L367.5 398.63 L368.5 398.63 L368.5 398.02 L369.5 398.02 L369.5 397.48 L370.5 397.48 L370.5 398.06 L371.5 398.06 L371.5 397.39 L372.5 397.39 L372.5 397.07 L373.5 397.07 L373.5 398.08 L374.5 398.08 L374.5 398.65 L375.5 398.65 L375.5 397.69 L376.5 397.69 L376.5 397.43 L377.5 397.43 L377.5 391.8 L379.5 391.8 L379.5 396.75 L380 396.75 L380 397.49 L380.5 397.49 L380.5 398.09 L381 398.09 L381 396.8 L383 396.8 L383 397.73 L383.5 397.73 L383.5 398.56 L384 398.56 L384 399.05 L384.5 399.05 L384.5 399.54 L385 399.54 L385 400.17 L385.5 400.17 L385.5 400.4 L386.5 400.4 L386.5 400.51 L387.5 400.51 L387.5 400.05 L388.5 400.05 L389 400.09 L389.5 400.09 L389.5 400.21 L390.5 400.21 L391 400.16 L391.5 400.16 L391.5 400.23 L392.5 400.23 L392.5 399.95 L393.5 399.95 L393.5 400.17 L394.5 400.17 L394.5 400.34 L395.5 400.34 L395.5 400.24 L396.5 400.24 L397 400.23 L397.5 400.23 L397.5 400.04 L398.5 400.04 L398.5 400.18 L399.5 400.18 L399.5 400.34 L400.5 400.34 L400.5 400.19 L401.5 400.19 L401.5 400.47 L402.5 400.47 L402.5 400.21 L403.5 400.21 L403.5 400.34 L404.5 400.34 L404.5 399.95 L405.5 399.95 L405.5 400.3 L406.5 400.3 L407 400.32 L407.5 400.32 L408 400.37 L409.5 400.36 L409.5 400.03 L410.5 400.03 L410.5 400.3 L411.5 400.3 L411.5 400.05 L412.5 400.05 L412.5 400.14 L413.5 400.14 L413.5 400.2 L414.5 400.2 L415 400.18 L415.5 400.18 L416 400.2 L416.5 400.2 L416.5 400.1 L418.5 400.11 L418.5 399.92 L419.5 399.92 L419.5 400.22 L420.5 400.22 L420.5 400.33 L421.5 400.33 L421.5 400.11 L422 400.11 L422 398.6 L424 398.6 L424 399.95 L424.5 399.95 L424.5 400.29 L425.5 400.29 L425.5 400.19 L426.5 400.19 L426.5 400.01 L427.5 400.01 L427.5 399.95 L428.5 399.95 L428.5 400.38 L429.5 400.38 L429.5 400.09 L430.5 400.09 L430.5 399.86 L431.5 399.86 L431.5 400.04 L432.5 400.04 L433 400.05 L433.5 400.05 L433.5 400.18 L434 400.18 L434 400.08 L434.5 400.08 L434.5 397.6 L436.5 397.6 L436.5 399.65 L437 399.65 L437 400.19 L437.5 400.19 L437.5 400.04 L438.5 400.04 L438.5 400.34 L439.5 400.34 L440 400.3 L440.5 400.3 L441 400.26 L441.5 400.26 L441.5 400.03 L442.5 400.03 L442.5 400.29 L443.5 400.29 L444 400.26 L444.5 400.26 L445 400.3 L445.5 400.3 L445.5 400.45 L446.5 400.45 L446.5 400.25 L447.5 400.25 L447.5 400.33 L448.5 400.33 L448.5 400.2 L449.5 400.2 L449.5 400.37 L450.5 400.37 L450.5 400.24 L452.5 400.23 L452.5 400.03 L453.5 400.03 L453.5 400.37 L454.5 400.37 L455 400.35 L455.5 400.35 L455.5 400.09 L457.5 400.1 L458 400.06 L458.5 400.06 L458.5 400.3 L459.5 400.3 L459.5 400.17 L460.5 400.17 L460.5 400.32 L461.5 400.32 L461.5 400.08 L462.5 400.08 L462.5 400.53 L463.5 400.53 L463.5 400.31 L464.5 400.31 L464.5 400.12 L465.5 400.12 L465.5 400.06 L466.5 400.06 L466.5 399.89 L467.5 399.89 L467.5 400.38 L468.5 400.38 L468.5 400.29 L469.5 400.29 L469.5 400.36 L470.5 400.36 L470.5 400.22 L471.5 400.22 L472 400.21 L472.5 400.21 L472.5 400.16 L473.5 400.16 L473.5 400.51 L474.5 400.51 L474.5 400.16 L475.5 400.16 L475.5 400.41 L476.5 400.41 L476.5 400.35 L477.5 400.35 L477.5 400.14 L478.5 400.14 L478.5 400.06 L479.5 400.06 L479.5 400.19 L480.5 400.19 L480.5 400.26 L481.5 400.26 L481.5 400.01 L482.5 400.01 L483 400.04 L484.5 400.04 L484.5 400.37 L485.5 400.37 L485.5 400.14 L486.5 400.14 L487 400.09 L488.5 400.09 L488.5 400.01 L489 400.01 L489 398.3 L491 398.3 L491 400.12 L491.5 400.12 L491.5 400.19 L492.5 400.19 L492.5 400.33 L493.5 400.33 L493.5 399.97 L494.5 399.97 L494.5 400.27 L495.5 400.27 L496 400.22 L496.5 400.22 L496.5 400.15 L497 400.15 L497 398.4 L499 398.4 L499 400.04 L499.5 400.04 L499.5 400.45 L500.5 400.45 L500.5 400 L501.5 400 L501.5 400.24 L502.5 400.24 L502.5 400.09 L503.5 400.09 L503.5 400.37 L504.5 400.37 L505 400.39 L505.5 400.39 L505.5 399.91 L506.5 399.91 L506.5 400.11 L507.5 400.11 L508 400.14 L508.5 400.14 L508.5 400.33 L509.5 400.33 L509.5 400.22 L510.5 400.22 L510.7 402.2Z" fill="#262a8c"/>
<path d="M52.5 419.4 L52.5 405.2 L54.5 405.2 L54.5 406.2 L57 406.2 L57 414.98 L57.5 414.98 L57.5 405.7 L60 405.7 L60 413.81 L60.5 413.81 L60.5 413.13 L61 413.13 L61 410.2 L63.5 410.2 L63.5 414.95 L64 414.95 L64 409.7 L66.5 409.7 L66.5 412.39 L67.5 412.39 L67.5 414.25 L68.5 414.25 L68.5 414.52 L69 414.52 L69 407.2 L71.5 407.2 L71.5 410.2 L73.5 410.2 L73.5 407.2 L75.5 407.2 L75.5 411.2 L77.5 411.2 L77.5 408.7 L80 408.7 L80 410.2 L82 410.2 L82 406.2 L84 406.2 L84 411.2 L88.5 411.2 L88.5 414.34 L89 414.34 L89 412.2 L91.5 412.2 L91.5 413.2 L93 413.2 L93 411.2 L98 411.2 L98 413.2 L98.5 413.2 L99 413.17 L99.5 413.17 L99.5 410.2 L102 410.2 L102 412.2 L104 412.2 L104 409.2 L106.5 409.2 L106.5 414.26 L107.5 414.26 L107.5 407.2 L110 407.2 L110 411.2 L112 411.2 L112 412.2 L114.5 412.2 L114.5 413.8 L115 413.8 L115 414.2 L116.5 414.2 L116.5 413.55 L117.5 413.55 L117.5 415.75 L118.5 415.75 L118.5 408.8 L121 408.8 L121 412.2 L122.5 412.2 L122.5 415.38 L123.5 415.38 L123.5 410.2 L125.5 410.2 L125.5 406.2 L128 406.2 L128 409.2 L130 409.2 L130 412.2 L131.5 412.2 L131.5 415.2 L132.5 415.2 L132.5 415.86 L133 415.86 L133 414.7 L133.5 414.7 L133.5 414.31 L134.5 414.31 L134.5 414.7 L135 414.7 L135 414.37 L136 414.37 L136 415.1 L136.5 415.1 L136.5 410.2 L139 410.2 L139 414.7 L140.5 414.7 L140.5 413.77 L141.5 413.77 L141.5 415.37 L142 415.37 L142 413.2 L144.5 413.2 L144.5 413.7 L146.5 413.7 L146.5 414.42 L147.5 414.42 L147.5 413.78 L148.5 413.78 L148.5 414.53 L149.5 414.53 L149.5 414.14 L151 414.14 L151 413.2 L153 413.2 L153 409.7 L155.5 409.7 L155.5 408.8 L158 408.8 L158 412.2 L159.5 412.2 L159.5 415.03 L160.5 415.03 L160.5 415.61 L161 415.61 L161 413.87 L162 413.87 L162 414.09 L162.5 414.09 L162.5 413.79 L163.5 413.79 L163.5 415.2 L164.5 415.2 L164.5 415.85 L165 415.85 L165 414.7 L165.5 414.7 L165.5 414.28 L166.5 414.28 L166.5 414.7 L167.5 414.7 L167.5 415.21 L168.5 415.21 L168.5 413.2 L170.5 413.2 L170.5 414.43 L171 414.43 L171 414.2 L173 414.2 L173 414.04 L174 414.04 L174 410.2 L176.5 410.2 L176.5 412.2 L178.5 412.2 L178.5 414.75 L179 414.75 L179 412.2 L181.5 412.2 L181.5 414.6 L182 414.6 L182 408.2 L184 408.2 L184 415.03 L184.5 415.03 L184.5 410.2 L186.5 410.2 L186.5 414.65 L187.5 414.65 L187.5 414.43 L188.5 414.43 L188.5 415.25 L189 415.25 L189 415.2 L189.5 415.2 L189.5 414.65 L190.5 414.65 L190.5 414.88 L191.5 414.88 L191.5 414.07 L192.5 414.07 L192.5 415.49 L193 415.49 L193 415.2 L193.5 415.2 L193.5 414.36 L194.5 414.37 L194.5 414.66 L195 414.66 L195 415.2 L195.5 415.2 L195.5 413.71 L196 413.71 L196 415.2 L196.5 415.2 L196.5 414.41 L197.5 414.41 L197.5 414.29 L198.5 414.29 L198.5 410.2 L200.5 410.2 L200.5 404.7 L203 404.7 L203 410.2 L204.5 410.2 L204.5 413.2 L206.5 413.2 L206.5 415.36 L207 415.36 L207 413.2 L209.5 413.2 L209.5 408.2 L211.5 408.2 L211.5 413.2 L213.5 413.2 L213.5 415.55 L214 415.55 L214 414.2 L216.5 414.2 L216.5 409.2 L218.5 409.2 L218.5 413.2 L220.5 413.2 L220.5 414.61 L221.5 414.61 L221.5 414.12 L222.5 414.12 L222.5 414.2 L224.5 414.2 L224.5 414.91 L225 414.91 L225 414.7 L227.5 414.7 L227.5 415.2 L228.5 415.2 L228.5 414.76 L229 414.76 L229 414.7 L231.5 414.7 L231.5 414.85 L232.5 414.85 L232.5 413.48 L233.5 413.48 L233.5 415.16 L234.5 415.16 L234.5 415.37 L235 415.37 L235 416.22 L235.5 416.22 L235.5 417.54 L236 417.54 L236 418.01 L237.5 418 L237.5 417.87 L238.5 417.87 L238.5 417.82 L239.5 417.82 L239.5 417.99 L240.5 417.99 L240.5 417.91 L241.5 417.91 L241.5 417.86 L242.5 417.86 L242.5 418.01 L243.5 418.01 L243.5 417.9 L244.5 417.9 L244.5 417.99 L245.5 417.99 L245.5 417.64 L246 417.64 L246 415.7 L248.5 415.7 L248.5 417.64 L249 417.64 L249 417.97 L249.5 417.97 L249.5 417.89 L250.5 417.89 L250.5 417.83 L251.5 417.83 L251.5 417.88 L252.5 417.88 L252.5 417.97 L253.5 417.97 L253.5 417.87 L254.5 417.87 L254.5 417.93 L255.5 417.93 L256 417.96 L256.5 417.96 L256.5 417.85 L257.5 417.85 L257.5 417.76 L258.5 417.76 L258.5 417.98 L259.5 417.98 L259.5 417.87 L260.5 417.87 L260.5 417.92 L261.5 417.92 L261.5 417.85 L263.5 417.85 L263.5 417.8 L264.5 417.8 L264.5 417.88 L265.5 417.88 L265.5 417.75 L266 417.75 L266 416.2 L268.5 416.2 L268.5 417.75 L269 417.75 L269 417.92 L270.5 417.92 L271 417.9 L271.5 417.9 L272 417.87 L272.5 417.87 L272.5 417.82 L273.5 417.82 L273.5 417.92 L274.5 417.92 L274.5 417.97 L275.5 417.97 L275.5 417.8 L276.5 417.8 L276.5 417.98 L277.5 417.98 L277.5 418.07 L278.5 418.07 L278.5 417.47 L279 417.47 L279 417.07 L279.5 417.07 L279.5 416.85 L280 416.85 L280 412.2 L282.5 412.2 L282.5 416.03 L283.5 416.03 L283.5 416.73 L284.5 416.73 L284.5 415.69 L285.5 415.69 L285.5 416.17 L286.5 416.17 L286.5 416.67 L287.5 416.67 L287.5 416.57 L288 416.57 L288 413.2 L290.5 413.2 L290.5 415.81 L291.5 415.81 L291.5 416.99 L292.5 416.99 L292.5 416.44 L293.5 416.44 L293.5 416.95 L294 416.95 L294 415.2 L296.5 415.2 L296.5 416.76 L297.5 416.76 L297.5 415.58 L298.5 415.58 L298.5 417.13 L299.5 417.13 L299.5 417.02 L300.5 417.02 L300.5 417.1 L301 417.1 L301 417.39 L301.5 417.39 L302 417.42 L302 417.85 L302.5 417.85 L303 417.81 L303.5 417.81 L303.5 417.75 L304 417.75 L304 416.2 L306.5 416.2 L306.5 417.75 L307 417.75 L307 417.93 L307.5 417.93 L307.5 417.84 L308.5 417.84 L308.5 417.78 L309.5 417.78 L309.5 417.84 L311.5 417.84 L312 417.8 L312.5 417.8 L312.5 418.05 L313.5 418.05 L313.5 417.8 L314.5 417.8 L314.5 417.87 L315.5 417.87 L315.5 417.98 L316.5 417.98 L316.5 417.79 L317.5 417.79 L317.5 417.85 L318.5 417.85 L318.5 416.85 L319 416.85 L319 412.2 L321.5 412.2 L321.5 416.85 L322 416.85 L322 417.78 L322.5 417.78 L322.5 417.9 L323.5 417.9 L324 417.88 L324.5 417.88 L325 417.83 L325.5 417.83 L326 417.79 L327.5 417.79 L327.5 417.96 L328.5 417.96 L328.5 417.75 L329 417.75 L329 416.2 L331.5 416.2 L331.5 417.75 L332 417.75 L332 417.98 L332.5 417.98 L332.5 417.87 L333.5 417.87 L333.5 417.77 L334.5 417.77 L334.5 417.83 L335.5 417.83 L335.5 417.91 L336.5 417.91 L336.5 417.97 L337.5 417.97 L337.5 417.75 L338.5 417.75 L338.5 417.87 L339.5 417.87 L340 417.84 L340.5 417.84 L341 417.87 L341.5 417.87 L342 417.88 L342.5 417.88 L342.5 417.79 L343.5 417.79 L344 417.75 L344.5 417.75 L344.5 417.81 L345.5 417.81 L345.5 417.34 L346 417.34 L346 416.72 L346.5 416.72 L346.5 416.44 L347 416.44 L347 415.81 L347.5 415.81 L347.5 414.79 L348.5 414.79 L348.5 414.67 L349 414.67 L349 414.11 L349.5 414.11 L349.5 405.2 L351.5 405.2 L351.5 410.2 L353.5 410.2 L353.5 414.65 L354.5 414.65 L354.5 409.2 L356.5 409.2 L356.5 412.2 L358.5 412.2 L358.5 413.46 L359.5 413.46 L359.5 413.81 L360 413.81 L360 409.2 L362 409.2 L362 414.51 L362.5 414.51 L362.5 414.92 L363 414.92 L363 412.2 L365 412.2 L365 414.15 L365.5 414.15 L365.5 414.63 L366.5 414.63 L366.5 415.6 L367 415.6 L367 416.49 L367.5 416.49 L367.5 416.78 L368 416.78 L368 417.81 L368.5 417.81 L368.5 417.75 L369 417.75 L369 416.2 L371.5 416.2 L371.5 417.75 L372 417.75 L372 417.91 L372.5 417.91 L372.5 417.85 L373.5 417.85 L373.5 418.02 L374.5 418.02 L374.5 417.84 L375.5 417.84 L375.5 418.02 L376.5 418.02 L376.5 417.8 L377 417.8 L377 417.39 L377.5 417.39 L377.5 415.37 L378 415.37 L378 409.2 L380 409.2 L380 414.96 L380.5 414.96 L380.5 416.98 L381 416.98 L381 417.87 L381.5 417.87 L382 417.83 L382.5 417.83 L382.5 417.9 L384.5 417.89 L385 417.94 L385.5 417.94 L385.5 417.79 L386.5 417.79 L386.5 418.02 L387.5 418.02 L388 418 L388.5 418 L388.5 417.94 L389.5 417.94 L390 417.93 L390.5 417.93 L391 417.9 L391.5 417.9 L391.5 417.84 L392.5 417.84 L393 417.86 L393.5 417.86 L393.5 417.8 L394.5 417.8 L395 417.78 L395.5 417.78 L395.5 417.94 L396.5 417.94 L396.5 417.99 L397.5 417.99 L397.5 417.89 L398.5 417.89 L399 417.85 L399.5 417.85 L400 417.83 L400.5 417.83 L400.5 418 L401.5 418 L401.5 417.92 L402.5 417.92 L403 417.89 L403.5 417.89 L403.5 417.94 L404.5 417.94 L404.5 417.82 L405.5 417.82 L405.5 417.87 L406.5 417.87 L406.5 417.98 L407.5 417.98 L407.5 417.92 L408.5 417.92 L409 417.94 L409.5 417.94 L410 417.92 L410.5 417.92 L411 417.87 L411.5 417.87 L411.5 417.79 L412.5 417.79 L412.5 418.03 L413.5 418.03 L414 418.06 L414.5 418.06 L414.5 417.76 L415.5 417.76 L415.5 417.83 L416.5 417.83 L417 417.86 L417.5 417.86 L417.5 418.05 L418.5 418.05 L418.5 418 L419.5 418 L419.5 417.78 L420.5 417.78 L420.5 417.97 L421.5 417.97 L421.5 417.73 L422 417.73 L422 416.94 L422.5 416.94 L422.5 414.7 L424.5 414.7 L424.5 417.1 L425 417.1 L425 417.75 L425.5 417.75 L426 417.79 L426.5 417.79 L426.5 418.01 L427.5 418.01 L427.5 417.86 L428.5 417.86 L428.5 417.81 L429.5 417.81 L430 417.77 L430.5 417.77 L430.5 417.94 L431.5 417.94 L431.5 417.81 L432.5 417.81 L433 417.79 L433.5 417.79 L433.5 417.96 L434.5 417.96 L435 417.92 L435.5 417.92 L436 417.95 L436.5 417.95 L436.5 417.84 L437.5 417.84 L437.5 418.01 L438.5 418.01 L438.5 417.87 L439.5 417.87 L439.5 417.8 L440.5 417.8 L441 417.82 L441.5 417.82 L442 417.77 L442.5 417.77 L442.5 417.98 L443.5 417.98 L443.5 417.87 L444.5 417.87 L445 417.89 L445.5 417.89 L446 417.92 L446.5 417.92 L446.5 417.82 L447.5 417.82 L448 417.81 L448.5 417.81 L448.5 416.85 L449 416.85 L449 412.2 L451.5 412.2 L451.5 416.85 L452 416.85 L452 417.87 L452.5 417.87 L452.5 417.96 L453 417.96 L453 417.75 L453.5 417.75 L453.5 417.19 L454 417.19 L454 415.7 L456 415.7 L456 417.52 L456.5 417.52 L456.5 417.85 L457.5 417.85 L457.5 417.76 L458.5 417.76 L458.5 417.93 L459.5 417.93 L459.5 417.83 L460.5 417.83 L460.5 417.93 L462.5 417.94 L463 417.91 L463.5 417.91 L464 417.94 L465.5 417.93 L466 417.96 L466.5 417.96 L466.5 417.9 L467.5 417.9 L467.5 417.96 L468.5 417.96 L469 417.94 L469.5 417.94 L469.5 417.77 L470.5 417.77 L471 417.81 L471.5 417.81 L472 417.86 L472.5 417.86 L472.5 417.96 L473.5 417.96 L473.5 417.73 L474.5 417.73 L474.5 418.03 L476.5 418.03 L476.5 417.81 L477.5 417.81 L477.5 417.93 L478.5 417.93 L478.5 418.01 L479.5 418.01 L480 417.98 L480.5 417.98 L481 417.95 L481.5 417.95 L481.5 417.75 L482.5 417.75 L482.5 417.89 L483.5 417.89 L484 417.86 L484.5 417.86 L484.5 417.96 L485.5 417.96 L485.5 417.84 L486.5 417.84 L486.5 418.04 L487.5 418.04 L487.5 417.3 L488 417.3 L488 414.2 L490.5 414.2 L490.5 417.3 L491 417.3 L491 418.04 L491.5 418.04 L492 418.02 L492.5 418.02 L493 417.97 L493.5 417.97 L493.5 417.77 L494.5 417.77 L494.5 417.83 L495.5 417.83 L496 417.88 L496.5 417.88 L496.5 418.03 L497.5 418.03 L497.5 417.77 L498.5 417.77 L498.5 417.88 L500.5 417.87 L501 417.83 L501.5 417.83 L501.5 417.89 L502.5 417.89 L503 417.85 L503.5 417.85 L503.5 417.97 L504.5 417.97 L504.5 417.78 L505.5 417.78 L505.5 417.88 L506.5 417.88 L507 417.85 L507.5 417.85 L507.5 417.94 L508.5 417.94 L508.5 417.75 L509.5 417.75 L509.5 417.93 L510.5 417.93 L510.7 419.4Z" fill="#262a8c"/>
<text x="70.25" y="39.7" font-size="5.3" textLength="7.4" lengthAdjust="spacingAndGlyphs">0-8</text>
<text x="68.45" y="59.8" font-size="5.3" textLength="11.4" lengthAdjust="spacingAndGlyphs">0-15</text>
<text x="66.65" y="78.2" font-size="5.3" textLength="15" lengthAdjust="spacingAndGlyphs">0-102</text>
<text x="68.45" y="95.7" font-size="5.3" textLength="11.2" lengthAdjust="spacingAndGlyphs">0-76</text>
<text x="68.25" y="112.1" font-size="5.3" textLength="11.4" lengthAdjust="spacingAndGlyphs">0-47</text>
<text x="68.25" y="130.2" font-size="5.3" textLength="11.6" lengthAdjust="spacingAndGlyphs">0-34</text>
<text x="68.25" y="175.2" font-size="5.3" textLength="12.2" lengthAdjust="spacingAndGlyphs">0-10</text>
<text x="67.45" y="192.7" font-size="5.3" textLength="13.2" lengthAdjust="spacingAndGlyphs">0-6.6</text>
<text x="67.65" y="209" font-size="5.3" textLength="12.8" lengthAdjust="spacingAndGlyphs">0-4.2</text>
<text x="67.95" y="227.5" font-size="5.3" textLength="12.7" lengthAdjust="spacingAndGlyphs">0-3.4</text>
<text x="67.95" y="243.6" font-size="5.3" textLength="12.7" lengthAdjust="spacingAndGlyphs">0-3.4</text>
<text x="67.95" y="261.4" font-size="5.3" textLength="12.5" lengthAdjust="spacingAndGlyphs">0-4.3</text>
<text x="68.25" y="279.1" font-size="5.3" textLength="11.4" lengthAdjust="spacingAndGlyphs">0-11</text>
<text x="68.25" y="321.7" font-size="5.3" textLength="11.4" lengthAdjust="spacingAndGlyphs">0-27</text>
<text x="68.25" y="338.8" font-size="5.3" textLength="12.2" lengthAdjust="spacingAndGlyphs">0-30</text>
<text x="68.25" y="355.9" font-size="5.3" textLength="12.2" lengthAdjust="spacingAndGlyphs">0-22</text>
<text x="68.25" y="373.4" font-size="5.3" textLength="11.6" lengthAdjust="spacingAndGlyphs">0-15</text>
<text x="67.65" y="389.8" font-size="5.3" textLength="13.2" lengthAdjust="spacingAndGlyphs">0-0.8</text>
<text x="67.65" y="406.9" font-size="5.3" textLength="13.2" lengthAdjust="spacingAndGlyphs">0-2.5</text>
<line x1="52.4" y1="424.3" x2="222" y2="424.3" stroke="#080808" stroke-width="1.15"/>
<line x1="58.6" y1="421.3" x2="58.6" y2="427.3" stroke="#080808" stroke-width="0.9"/>
<circle cx="64.2" cy="424.3" r="1.1" fill="#080808"/>
<circle cx="77.4" cy="424.3" r="1.1" fill="#080808"/>
<circle cx="90.5" cy="424.3" r="1.1" fill="#080808"/>
<circle cx="103.4" cy="424.3" r="1.1" fill="#080808"/>
<circle cx="115.8" cy="424.3" r="1.1" fill="#080808"/>
<circle cx="129" cy="424.3" r="1.1" fill="#080808"/>
<circle cx="142" cy="424.3" r="1.1" fill="#080808"/>
<circle cx="155.2" cy="424.3" r="1.1" fill="#080808"/>
<circle cx="163" cy="424.3" r="1.1" fill="#080808"/>
<circle cx="179.4" cy="424.3" r="1.1" fill="#080808"/>
<circle cx="198.5" cy="424.3" r="1.1" fill="#080808"/>
<line x1="157.9" y1="421.3" x2="157.9" y2="427.3" stroke="#080808" stroke-width="0.9"/>
<line x1="174.2" y1="421.3" x2="174.2" y2="427.3" stroke="#080808" stroke-width="0.9"/>
<line x1="192.5" y1="421.3" x2="192.5" y2="427.3" stroke="#080808" stroke-width="0.9"/>
<line x1="209.8" y1="421.3" x2="209.8" y2="427.3" stroke="#080808" stroke-width="0.9"/>
<line x1="211.3" y1="421.3" x2="211.3" y2="427.3" stroke="#080808" stroke-width="0.9"/>
<line x1="216.6" y1="421.3" x2="216.6" y2="427.3" stroke="#080808" stroke-width="0.9"/>
<rect x="216.6" y="422.6" width="5.3" height="3.2" fill="#080808"/>
<text x="134" y="434.8" font-size="6.5" textLength="13.8" lengthAdjust="spacingAndGlyphs" text-anchor="middle" font-style="italic">ETV6</text>
<line x1="398.4" y1="424.3" x2="455.6" y2="424.3" stroke="#080808" stroke-width="1.15"/>
<circle cx="406.8" cy="424.3" r="1.1" fill="#080808"/>
<circle cx="419.9" cy="424.3" r="1.1" fill="#080808"/>
<circle cx="428.6" cy="424.3" r="1.1" fill="#080808"/>
<circle cx="438.7" cy="424.3" r="1.1" fill="#080808"/>
<line x1="422.6" y1="421.3" x2="422.6" y2="427.3" stroke="#080808" stroke-width="0.9"/>
<line x1="430.3" y1="421.3" x2="430.3" y2="427.3" stroke="#080808" stroke-width="0.9"/>
<line x1="433" y1="421.3" x2="433" y2="427.3" stroke="#080808" stroke-width="0.9"/>
<line x1="442.1" y1="421.3" x2="442.1" y2="427.3" stroke="#080808" stroke-width="0.9"/>
<line x1="445.2" y1="421.3" x2="445.2" y2="427.3" stroke="#080808" stroke-width="0.9"/>
<line x1="448.2" y1="421.3" x2="448.2" y2="427.3" stroke="#080808" stroke-width="0.9"/>
<line x1="451.3" y1="421.3" x2="451.3" y2="427.3" stroke="#080808" stroke-width="0.9"/>
<line x1="455.2" y1="421.3" x2="455.2" y2="427.3" stroke="#080808" stroke-width="0.9"/>
<text x="428.1" y="434.8" font-size="6.5" textLength="25.8" lengthAdjust="spacingAndGlyphs" text-anchor="middle" font-style="italic">BCL2L14</text>
<line x1="469.7" y1="420.9" x2="469.7" y2="427.1" stroke="#080808" stroke-width="1.1"/>
<line x1="474.8" y1="424.3" x2="509" y2="424.3" stroke="#080808" stroke-width="1.15"/>
<rect x="474.8" y="422.9" width="5.2" height="2.9" fill="#080808"/>
<path d="M474.2 424.3 L476.2 421.9 L476.2 426.7 Z" fill="#080808"/>
<line x1="481.2" y1="421.4" x2="481.2" y2="427.1" stroke="#080808" stroke-width="1"/>
<line x1="483.4" y1="421.4" x2="483.4" y2="427.1" stroke="#080808" stroke-width="1"/>
<line x1="485.4" y1="421.4" x2="485.4" y2="427.1" stroke="#080808" stroke-width="1"/>
<line x1="487.4" y1="421.4" x2="487.4" y2="427.1" stroke="#080808" stroke-width="1"/>
<line x1="491.7" y1="421.4" x2="491.7" y2="427.1" stroke="#080808" stroke-width="1"/>
<line x1="493.7" y1="421.4" x2="493.7" y2="427.1" stroke="#080808" stroke-width="1"/>
<line x1="496.5" y1="421.4" x2="496.5" y2="427.1" stroke="#080808" stroke-width="1"/>
<line x1="500.2" y1="421.4" x2="500.2" y2="427.1" stroke="#080808" stroke-width="1"/>
<circle cx="505" cy="424.3" r="0.8" fill="#080808"/>
<path d="M509.2 424.2 L506.6 422.6 L506.6 425.8 Z" fill="#080808"/>
<text x="491.6" y="434.8" font-size="6.5" textLength="14.8" lengthAdjust="spacingAndGlyphs" text-anchor="middle" font-style="italic">LRP6</text>
<rect x="52.4" y="439.1" width="343.3" height="4.5" fill="#616161"/>
<line x1="58.7" y1="458" x2="58.7" y2="466.3" stroke="#111" stroke-width="0.9"/>
<path d="M58.7 455.4 L56.6 459.2 L60.8 459.2 Z" fill="#111"/>
<line x1="106.3" y1="458" x2="106.3" y2="466.3" stroke="#111" stroke-width="0.9"/>
<path d="M106.3 455.4 L104.2 459.2 L108.4 459.2 Z" fill="#111"/>
<text x="43.8" y="475" font-size="5.9" textLength="29.6" lengthAdjust="spacingAndGlyphs">BP AML-T1</text>
<text x="53.8" y="482.6" font-size="5.9" textLength="19.6" lengthAdjust="spacingAndGlyphs">AML-T2</text>
<text x="81.6" y="475" font-size="5.9" textLength="37.8" lengthAdjust="spacingAndGlyphs">BP ChPSC22</text>
<text x="120.5" y="471.4" font-size="3.2" textLength="10.8" lengthAdjust="spacingAndGlyphs" style="fill:#6a6a6a;stroke:none">(17,12)</text>
<line x1="512.6" y1="1" x2="512.6" y2="497" stroke="#f0f0f0" stroke-width="0.8"/>
<line x1="7.3" y1="1" x2="7.3" y2="497" stroke="#f6f6f6" stroke-width="0.6"/>
<rect x="0.5" y="0.5" width="519" height="497" fill="none" stroke="#606060" stroke-width="1"/>
</svg>
</body></html>
